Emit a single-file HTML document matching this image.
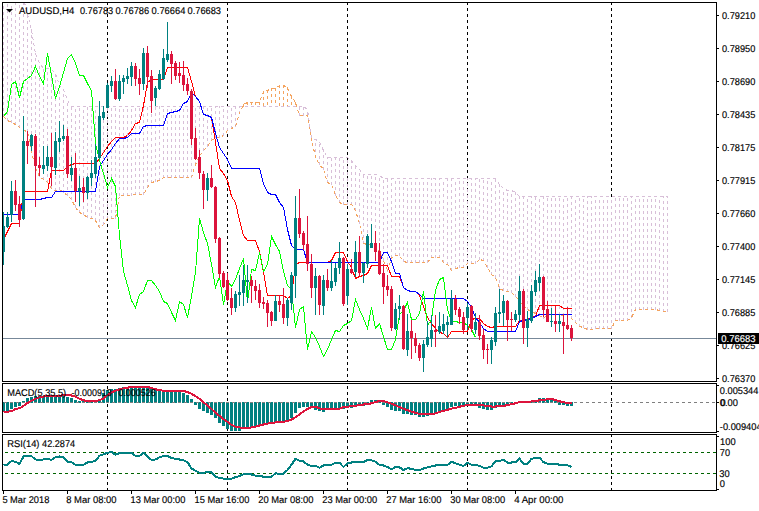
<!DOCTYPE html>
<html><head><meta charset="utf-8"><title>AUDUSD,H4</title>
<style>html,body{margin:0;padding:0;background:#fff}svg{display:block}text{font-family:"Liberation Sans",sans-serif;font-size:9.8px;text-rendering:geometricPrecision;fill:#000;stroke:#000;stroke-width:0.15px}</style></head><body>
<svg width="759" height="511" viewBox="0 0 759 511">
<rect width="759" height="511" fill="#fff"/>
<defs><clipPath id="cm"><rect x="3" y="3" width="713" height="378"/></clipPath><clipPath id="c2"><rect x="3" y="384" width="713" height="48"/></clipPath><clipPath id="c3"><rect x="3" y="435" width="713" height="55"/></clipPath></defs>
<g shape-rendering="crispEdges">
<rect x="107" y="3" width="1" height="2" fill="#000"/>
<rect x="107" y="8" width="1" height="3" fill="#000"/>
<rect x="107" y="14" width="1" height="3" fill="#000"/>
<rect x="107" y="20" width="1" height="3" fill="#000"/>
<rect x="107" y="26" width="1" height="3" fill="#000"/>
<rect x="107" y="32" width="1" height="3" fill="#000"/>
<rect x="107" y="38" width="1" height="3" fill="#000"/>
<rect x="107" y="44" width="1" height="3" fill="#000"/>
<rect x="107" y="50" width="1" height="3" fill="#000"/>
<rect x="107" y="56" width="1" height="3" fill="#000"/>
<rect x="107" y="62" width="1" height="3" fill="#000"/>
<rect x="107" y="68" width="1" height="3" fill="#000"/>
<rect x="107" y="74" width="1" height="3" fill="#000"/>
<rect x="107" y="80" width="1" height="3" fill="#000"/>
<rect x="107" y="86" width="1" height="3" fill="#000"/>
<rect x="107" y="92" width="1" height="3" fill="#000"/>
<rect x="107" y="98" width="1" height="3" fill="#000"/>
<rect x="107" y="104" width="1" height="3" fill="#000"/>
<rect x="107" y="110" width="1" height="3" fill="#000"/>
<rect x="107" y="116" width="1" height="3" fill="#000"/>
<rect x="107" y="122" width="1" height="3" fill="#000"/>
<rect x="107" y="128" width="1" height="3" fill="#000"/>
<rect x="107" y="134" width="1" height="3" fill="#000"/>
<rect x="107" y="140" width="1" height="3" fill="#000"/>
<rect x="107" y="146" width="1" height="3" fill="#000"/>
<rect x="107" y="152" width="1" height="3" fill="#000"/>
<rect x="107" y="158" width="1" height="3" fill="#000"/>
<rect x="107" y="164" width="1" height="3" fill="#000"/>
<rect x="107" y="170" width="1" height="3" fill="#000"/>
<rect x="107" y="176" width="1" height="3" fill="#000"/>
<rect x="107" y="182" width="1" height="3" fill="#000"/>
<rect x="107" y="188" width="1" height="3" fill="#000"/>
<rect x="107" y="194" width="1" height="3" fill="#000"/>
<rect x="107" y="200" width="1" height="3" fill="#000"/>
<rect x="107" y="206" width="1" height="3" fill="#000"/>
<rect x="107" y="212" width="1" height="3" fill="#000"/>
<rect x="107" y="218" width="1" height="3" fill="#000"/>
<rect x="107" y="224" width="1" height="3" fill="#000"/>
<rect x="107" y="230" width="1" height="3" fill="#000"/>
<rect x="107" y="236" width="1" height="3" fill="#000"/>
<rect x="107" y="242" width="1" height="3" fill="#000"/>
<rect x="107" y="248" width="1" height="3" fill="#000"/>
<rect x="107" y="254" width="1" height="3" fill="#000"/>
<rect x="107" y="260" width="1" height="3" fill="#000"/>
<rect x="107" y="266" width="1" height="3" fill="#000"/>
<rect x="107" y="272" width="1" height="3" fill="#000"/>
<rect x="107" y="278" width="1" height="3" fill="#000"/>
<rect x="107" y="284" width="1" height="3" fill="#000"/>
<rect x="107" y="290" width="1" height="3" fill="#000"/>
<rect x="107" y="296" width="1" height="3" fill="#000"/>
<rect x="107" y="302" width="1" height="3" fill="#000"/>
<rect x="107" y="308" width="1" height="3" fill="#000"/>
<rect x="107" y="314" width="1" height="3" fill="#000"/>
<rect x="107" y="320" width="1" height="3" fill="#000"/>
<rect x="107" y="326" width="1" height="3" fill="#000"/>
<rect x="107" y="332" width="1" height="3" fill="#000"/>
<rect x="107" y="338" width="1" height="3" fill="#000"/>
<rect x="107" y="344" width="1" height="3" fill="#000"/>
<rect x="107" y="350" width="1" height="3" fill="#000"/>
<rect x="107" y="356" width="1" height="3" fill="#000"/>
<rect x="107" y="362" width="1" height="3" fill="#000"/>
<rect x="107" y="368" width="1" height="3" fill="#000"/>
<rect x="107" y="374" width="1" height="3" fill="#000"/>
<rect x="107" y="380" width="1" height="1" fill="#000"/>
<rect x="107" y="386" width="1" height="3" fill="#000"/>
<rect x="107" y="392" width="1" height="3" fill="#000"/>
<rect x="107" y="398" width="1" height="3" fill="#000"/>
<rect x="107" y="404" width="1" height="3" fill="#000"/>
<rect x="107" y="410" width="1" height="3" fill="#000"/>
<rect x="107" y="416" width="1" height="3" fill="#000"/>
<rect x="107" y="422" width="1" height="3" fill="#000"/>
<rect x="107" y="428" width="1" height="3" fill="#000"/>
<rect x="107" y="435" width="1" height="2" fill="#000"/>
<rect x="107" y="440" width="1" height="3" fill="#000"/>
<rect x="107" y="446" width="1" height="3" fill="#000"/>
<rect x="107" y="452" width="1" height="3" fill="#000"/>
<rect x="107" y="458" width="1" height="3" fill="#000"/>
<rect x="107" y="464" width="1" height="3" fill="#000"/>
<rect x="107" y="470" width="1" height="3" fill="#000"/>
<rect x="107" y="476" width="1" height="3" fill="#000"/>
<rect x="107" y="482" width="1" height="3" fill="#000"/>
<rect x="107" y="488" width="1" height="2" fill="#000"/>
<rect x="227" y="3" width="1" height="2" fill="#000"/>
<rect x="227" y="8" width="1" height="3" fill="#000"/>
<rect x="227" y="14" width="1" height="3" fill="#000"/>
<rect x="227" y="20" width="1" height="3" fill="#000"/>
<rect x="227" y="26" width="1" height="3" fill="#000"/>
<rect x="227" y="32" width="1" height="3" fill="#000"/>
<rect x="227" y="38" width="1" height="3" fill="#000"/>
<rect x="227" y="44" width="1" height="3" fill="#000"/>
<rect x="227" y="50" width="1" height="3" fill="#000"/>
<rect x="227" y="56" width="1" height="3" fill="#000"/>
<rect x="227" y="62" width="1" height="3" fill="#000"/>
<rect x="227" y="68" width="1" height="3" fill="#000"/>
<rect x="227" y="74" width="1" height="3" fill="#000"/>
<rect x="227" y="80" width="1" height="3" fill="#000"/>
<rect x="227" y="86" width="1" height="3" fill="#000"/>
<rect x="227" y="92" width="1" height="3" fill="#000"/>
<rect x="227" y="98" width="1" height="3" fill="#000"/>
<rect x="227" y="104" width="1" height="3" fill="#000"/>
<rect x="227" y="110" width="1" height="3" fill="#000"/>
<rect x="227" y="116" width="1" height="3" fill="#000"/>
<rect x="227" y="122" width="1" height="3" fill="#000"/>
<rect x="227" y="128" width="1" height="3" fill="#000"/>
<rect x="227" y="134" width="1" height="3" fill="#000"/>
<rect x="227" y="140" width="1" height="3" fill="#000"/>
<rect x="227" y="146" width="1" height="3" fill="#000"/>
<rect x="227" y="152" width="1" height="3" fill="#000"/>
<rect x="227" y="158" width="1" height="3" fill="#000"/>
<rect x="227" y="164" width="1" height="3" fill="#000"/>
<rect x="227" y="170" width="1" height="3" fill="#000"/>
<rect x="227" y="176" width="1" height="3" fill="#000"/>
<rect x="227" y="182" width="1" height="3" fill="#000"/>
<rect x="227" y="188" width="1" height="3" fill="#000"/>
<rect x="227" y="194" width="1" height="3" fill="#000"/>
<rect x="227" y="200" width="1" height="3" fill="#000"/>
<rect x="227" y="206" width="1" height="3" fill="#000"/>
<rect x="227" y="212" width="1" height="3" fill="#000"/>
<rect x="227" y="218" width="1" height="3" fill="#000"/>
<rect x="227" y="224" width="1" height="3" fill="#000"/>
<rect x="227" y="230" width="1" height="3" fill="#000"/>
<rect x="227" y="236" width="1" height="3" fill="#000"/>
<rect x="227" y="242" width="1" height="3" fill="#000"/>
<rect x="227" y="248" width="1" height="3" fill="#000"/>
<rect x="227" y="254" width="1" height="3" fill="#000"/>
<rect x="227" y="260" width="1" height="3" fill="#000"/>
<rect x="227" y="266" width="1" height="3" fill="#000"/>
<rect x="227" y="272" width="1" height="3" fill="#000"/>
<rect x="227" y="278" width="1" height="3" fill="#000"/>
<rect x="227" y="284" width="1" height="3" fill="#000"/>
<rect x="227" y="290" width="1" height="3" fill="#000"/>
<rect x="227" y="296" width="1" height="3" fill="#000"/>
<rect x="227" y="302" width="1" height="3" fill="#000"/>
<rect x="227" y="308" width="1" height="3" fill="#000"/>
<rect x="227" y="314" width="1" height="3" fill="#000"/>
<rect x="227" y="320" width="1" height="3" fill="#000"/>
<rect x="227" y="326" width="1" height="3" fill="#000"/>
<rect x="227" y="332" width="1" height="3" fill="#000"/>
<rect x="227" y="338" width="1" height="3" fill="#000"/>
<rect x="227" y="344" width="1" height="3" fill="#000"/>
<rect x="227" y="350" width="1" height="3" fill="#000"/>
<rect x="227" y="356" width="1" height="3" fill="#000"/>
<rect x="227" y="362" width="1" height="3" fill="#000"/>
<rect x="227" y="368" width="1" height="3" fill="#000"/>
<rect x="227" y="374" width="1" height="3" fill="#000"/>
<rect x="227" y="380" width="1" height="1" fill="#000"/>
<rect x="227" y="386" width="1" height="3" fill="#000"/>
<rect x="227" y="392" width="1" height="3" fill="#000"/>
<rect x="227" y="398" width="1" height="3" fill="#000"/>
<rect x="227" y="404" width="1" height="3" fill="#000"/>
<rect x="227" y="410" width="1" height="3" fill="#000"/>
<rect x="227" y="416" width="1" height="3" fill="#000"/>
<rect x="227" y="422" width="1" height="3" fill="#000"/>
<rect x="227" y="428" width="1" height="3" fill="#000"/>
<rect x="227" y="435" width="1" height="2" fill="#000"/>
<rect x="227" y="440" width="1" height="3" fill="#000"/>
<rect x="227" y="446" width="1" height="3" fill="#000"/>
<rect x="227" y="452" width="1" height="3" fill="#000"/>
<rect x="227" y="458" width="1" height="3" fill="#000"/>
<rect x="227" y="464" width="1" height="3" fill="#000"/>
<rect x="227" y="470" width="1" height="3" fill="#000"/>
<rect x="227" y="476" width="1" height="3" fill="#000"/>
<rect x="227" y="482" width="1" height="3" fill="#000"/>
<rect x="227" y="488" width="1" height="2" fill="#000"/>
<rect x="347" y="3" width="1" height="2" fill="#000"/>
<rect x="347" y="8" width="1" height="3" fill="#000"/>
<rect x="347" y="14" width="1" height="3" fill="#000"/>
<rect x="347" y="20" width="1" height="3" fill="#000"/>
<rect x="347" y="26" width="1" height="3" fill="#000"/>
<rect x="347" y="32" width="1" height="3" fill="#000"/>
<rect x="347" y="38" width="1" height="3" fill="#000"/>
<rect x="347" y="44" width="1" height="3" fill="#000"/>
<rect x="347" y="50" width="1" height="3" fill="#000"/>
<rect x="347" y="56" width="1" height="3" fill="#000"/>
<rect x="347" y="62" width="1" height="3" fill="#000"/>
<rect x="347" y="68" width="1" height="3" fill="#000"/>
<rect x="347" y="74" width="1" height="3" fill="#000"/>
<rect x="347" y="80" width="1" height="3" fill="#000"/>
<rect x="347" y="86" width="1" height="3" fill="#000"/>
<rect x="347" y="92" width="1" height="3" fill="#000"/>
<rect x="347" y="98" width="1" height="3" fill="#000"/>
<rect x="347" y="104" width="1" height="3" fill="#000"/>
<rect x="347" y="110" width="1" height="3" fill="#000"/>
<rect x="347" y="116" width="1" height="3" fill="#000"/>
<rect x="347" y="122" width="1" height="3" fill="#000"/>
<rect x="347" y="128" width="1" height="3" fill="#000"/>
<rect x="347" y="134" width="1" height="3" fill="#000"/>
<rect x="347" y="140" width="1" height="3" fill="#000"/>
<rect x="347" y="146" width="1" height="3" fill="#000"/>
<rect x="347" y="152" width="1" height="3" fill="#000"/>
<rect x="347" y="158" width="1" height="3" fill="#000"/>
<rect x="347" y="164" width="1" height="3" fill="#000"/>
<rect x="347" y="170" width="1" height="3" fill="#000"/>
<rect x="347" y="176" width="1" height="3" fill="#000"/>
<rect x="347" y="182" width="1" height="3" fill="#000"/>
<rect x="347" y="188" width="1" height="3" fill="#000"/>
<rect x="347" y="194" width="1" height="3" fill="#000"/>
<rect x="347" y="200" width="1" height="3" fill="#000"/>
<rect x="347" y="206" width="1" height="3" fill="#000"/>
<rect x="347" y="212" width="1" height="3" fill="#000"/>
<rect x="347" y="218" width="1" height="3" fill="#000"/>
<rect x="347" y="224" width="1" height="3" fill="#000"/>
<rect x="347" y="230" width="1" height="3" fill="#000"/>
<rect x="347" y="236" width="1" height="3" fill="#000"/>
<rect x="347" y="242" width="1" height="3" fill="#000"/>
<rect x="347" y="248" width="1" height="3" fill="#000"/>
<rect x="347" y="254" width="1" height="3" fill="#000"/>
<rect x="347" y="260" width="1" height="3" fill="#000"/>
<rect x="347" y="266" width="1" height="3" fill="#000"/>
<rect x="347" y="272" width="1" height="3" fill="#000"/>
<rect x="347" y="278" width="1" height="3" fill="#000"/>
<rect x="347" y="284" width="1" height="3" fill="#000"/>
<rect x="347" y="290" width="1" height="3" fill="#000"/>
<rect x="347" y="296" width="1" height="3" fill="#000"/>
<rect x="347" y="302" width="1" height="3" fill="#000"/>
<rect x="347" y="308" width="1" height="3" fill="#000"/>
<rect x="347" y="314" width="1" height="3" fill="#000"/>
<rect x="347" y="320" width="1" height="3" fill="#000"/>
<rect x="347" y="326" width="1" height="3" fill="#000"/>
<rect x="347" y="332" width="1" height="3" fill="#000"/>
<rect x="347" y="338" width="1" height="3" fill="#000"/>
<rect x="347" y="344" width="1" height="3" fill="#000"/>
<rect x="347" y="350" width="1" height="3" fill="#000"/>
<rect x="347" y="356" width="1" height="3" fill="#000"/>
<rect x="347" y="362" width="1" height="3" fill="#000"/>
<rect x="347" y="368" width="1" height="3" fill="#000"/>
<rect x="347" y="374" width="1" height="3" fill="#000"/>
<rect x="347" y="380" width="1" height="1" fill="#000"/>
<rect x="347" y="386" width="1" height="3" fill="#000"/>
<rect x="347" y="392" width="1" height="3" fill="#000"/>
<rect x="347" y="398" width="1" height="3" fill="#000"/>
<rect x="347" y="404" width="1" height="3" fill="#000"/>
<rect x="347" y="410" width="1" height="3" fill="#000"/>
<rect x="347" y="416" width="1" height="3" fill="#000"/>
<rect x="347" y="422" width="1" height="3" fill="#000"/>
<rect x="347" y="428" width="1" height="3" fill="#000"/>
<rect x="347" y="435" width="1" height="2" fill="#000"/>
<rect x="347" y="440" width="1" height="3" fill="#000"/>
<rect x="347" y="446" width="1" height="3" fill="#000"/>
<rect x="347" y="452" width="1" height="3" fill="#000"/>
<rect x="347" y="458" width="1" height="3" fill="#000"/>
<rect x="347" y="464" width="1" height="3" fill="#000"/>
<rect x="347" y="470" width="1" height="3" fill="#000"/>
<rect x="347" y="476" width="1" height="3" fill="#000"/>
<rect x="347" y="482" width="1" height="3" fill="#000"/>
<rect x="347" y="488" width="1" height="2" fill="#000"/>
<rect x="467" y="3" width="1" height="2" fill="#000"/>
<rect x="467" y="8" width="1" height="3" fill="#000"/>
<rect x="467" y="14" width="1" height="3" fill="#000"/>
<rect x="467" y="20" width="1" height="3" fill="#000"/>
<rect x="467" y="26" width="1" height="3" fill="#000"/>
<rect x="467" y="32" width="1" height="3" fill="#000"/>
<rect x="467" y="38" width="1" height="3" fill="#000"/>
<rect x="467" y="44" width="1" height="3" fill="#000"/>
<rect x="467" y="50" width="1" height="3" fill="#000"/>
<rect x="467" y="56" width="1" height="3" fill="#000"/>
<rect x="467" y="62" width="1" height="3" fill="#000"/>
<rect x="467" y="68" width="1" height="3" fill="#000"/>
<rect x="467" y="74" width="1" height="3" fill="#000"/>
<rect x="467" y="80" width="1" height="3" fill="#000"/>
<rect x="467" y="86" width="1" height="3" fill="#000"/>
<rect x="467" y="92" width="1" height="3" fill="#000"/>
<rect x="467" y="98" width="1" height="3" fill="#000"/>
<rect x="467" y="104" width="1" height="3" fill="#000"/>
<rect x="467" y="110" width="1" height="3" fill="#000"/>
<rect x="467" y="116" width="1" height="3" fill="#000"/>
<rect x="467" y="122" width="1" height="3" fill="#000"/>
<rect x="467" y="128" width="1" height="3" fill="#000"/>
<rect x="467" y="134" width="1" height="3" fill="#000"/>
<rect x="467" y="140" width="1" height="3" fill="#000"/>
<rect x="467" y="146" width="1" height="3" fill="#000"/>
<rect x="467" y="152" width="1" height="3" fill="#000"/>
<rect x="467" y="158" width="1" height="3" fill="#000"/>
<rect x="467" y="164" width="1" height="3" fill="#000"/>
<rect x="467" y="170" width="1" height="3" fill="#000"/>
<rect x="467" y="176" width="1" height="3" fill="#000"/>
<rect x="467" y="182" width="1" height="3" fill="#000"/>
<rect x="467" y="188" width="1" height="3" fill="#000"/>
<rect x="467" y="194" width="1" height="3" fill="#000"/>
<rect x="467" y="200" width="1" height="3" fill="#000"/>
<rect x="467" y="206" width="1" height="3" fill="#000"/>
<rect x="467" y="212" width="1" height="3" fill="#000"/>
<rect x="467" y="218" width="1" height="3" fill="#000"/>
<rect x="467" y="224" width="1" height="3" fill="#000"/>
<rect x="467" y="230" width="1" height="3" fill="#000"/>
<rect x="467" y="236" width="1" height="3" fill="#000"/>
<rect x="467" y="242" width="1" height="3" fill="#000"/>
<rect x="467" y="248" width="1" height="3" fill="#000"/>
<rect x="467" y="254" width="1" height="3" fill="#000"/>
<rect x="467" y="260" width="1" height="3" fill="#000"/>
<rect x="467" y="266" width="1" height="3" fill="#000"/>
<rect x="467" y="272" width="1" height="3" fill="#000"/>
<rect x="467" y="278" width="1" height="3" fill="#000"/>
<rect x="467" y="284" width="1" height="3" fill="#000"/>
<rect x="467" y="290" width="1" height="3" fill="#000"/>
<rect x="467" y="296" width="1" height="3" fill="#000"/>
<rect x="467" y="302" width="1" height="3" fill="#000"/>
<rect x="467" y="308" width="1" height="3" fill="#000"/>
<rect x="467" y="314" width="1" height="3" fill="#000"/>
<rect x="467" y="320" width="1" height="3" fill="#000"/>
<rect x="467" y="326" width="1" height="3" fill="#000"/>
<rect x="467" y="332" width="1" height="3" fill="#000"/>
<rect x="467" y="338" width="1" height="3" fill="#000"/>
<rect x="467" y="344" width="1" height="3" fill="#000"/>
<rect x="467" y="350" width="1" height="3" fill="#000"/>
<rect x="467" y="356" width="1" height="3" fill="#000"/>
<rect x="467" y="362" width="1" height="3" fill="#000"/>
<rect x="467" y="368" width="1" height="3" fill="#000"/>
<rect x="467" y="374" width="1" height="3" fill="#000"/>
<rect x="467" y="380" width="1" height="1" fill="#000"/>
<rect x="467" y="386" width="1" height="3" fill="#000"/>
<rect x="467" y="392" width="1" height="3" fill="#000"/>
<rect x="467" y="398" width="1" height="3" fill="#000"/>
<rect x="467" y="404" width="1" height="3" fill="#000"/>
<rect x="467" y="410" width="1" height="3" fill="#000"/>
<rect x="467" y="416" width="1" height="3" fill="#000"/>
<rect x="467" y="422" width="1" height="3" fill="#000"/>
<rect x="467" y="428" width="1" height="3" fill="#000"/>
<rect x="467" y="435" width="1" height="2" fill="#000"/>
<rect x="467" y="440" width="1" height="3" fill="#000"/>
<rect x="467" y="446" width="1" height="3" fill="#000"/>
<rect x="467" y="452" width="1" height="3" fill="#000"/>
<rect x="467" y="458" width="1" height="3" fill="#000"/>
<rect x="467" y="464" width="1" height="3" fill="#000"/>
<rect x="467" y="470" width="1" height="3" fill="#000"/>
<rect x="467" y="476" width="1" height="3" fill="#000"/>
<rect x="467" y="482" width="1" height="3" fill="#000"/>
<rect x="467" y="488" width="1" height="2" fill="#000"/>
<rect x="611" y="3" width="1" height="2" fill="#000"/>
<rect x="611" y="8" width="1" height="3" fill="#000"/>
<rect x="611" y="14" width="1" height="3" fill="#000"/>
<rect x="611" y="20" width="1" height="3" fill="#000"/>
<rect x="611" y="26" width="1" height="3" fill="#000"/>
<rect x="611" y="32" width="1" height="3" fill="#000"/>
<rect x="611" y="38" width="1" height="3" fill="#000"/>
<rect x="611" y="44" width="1" height="3" fill="#000"/>
<rect x="611" y="50" width="1" height="3" fill="#000"/>
<rect x="611" y="56" width="1" height="3" fill="#000"/>
<rect x="611" y="62" width="1" height="3" fill="#000"/>
<rect x="611" y="68" width="1" height="3" fill="#000"/>
<rect x="611" y="74" width="1" height="3" fill="#000"/>
<rect x="611" y="80" width="1" height="3" fill="#000"/>
<rect x="611" y="86" width="1" height="3" fill="#000"/>
<rect x="611" y="92" width="1" height="3" fill="#000"/>
<rect x="611" y="98" width="1" height="3" fill="#000"/>
<rect x="611" y="104" width="1" height="3" fill="#000"/>
<rect x="611" y="110" width="1" height="3" fill="#000"/>
<rect x="611" y="116" width="1" height="3" fill="#000"/>
<rect x="611" y="122" width="1" height="3" fill="#000"/>
<rect x="611" y="128" width="1" height="3" fill="#000"/>
<rect x="611" y="134" width="1" height="3" fill="#000"/>
<rect x="611" y="140" width="1" height="3" fill="#000"/>
<rect x="611" y="146" width="1" height="3" fill="#000"/>
<rect x="611" y="152" width="1" height="3" fill="#000"/>
<rect x="611" y="158" width="1" height="3" fill="#000"/>
<rect x="611" y="164" width="1" height="3" fill="#000"/>
<rect x="611" y="170" width="1" height="3" fill="#000"/>
<rect x="611" y="176" width="1" height="3" fill="#000"/>
<rect x="611" y="182" width="1" height="3" fill="#000"/>
<rect x="611" y="188" width="1" height="3" fill="#000"/>
<rect x="611" y="194" width="1" height="3" fill="#000"/>
<rect x="611" y="200" width="1" height="3" fill="#000"/>
<rect x="611" y="206" width="1" height="3" fill="#000"/>
<rect x="611" y="212" width="1" height="3" fill="#000"/>
<rect x="611" y="218" width="1" height="3" fill="#000"/>
<rect x="611" y="224" width="1" height="3" fill="#000"/>
<rect x="611" y="230" width="1" height="3" fill="#000"/>
<rect x="611" y="236" width="1" height="3" fill="#000"/>
<rect x="611" y="242" width="1" height="3" fill="#000"/>
<rect x="611" y="248" width="1" height="3" fill="#000"/>
<rect x="611" y="254" width="1" height="3" fill="#000"/>
<rect x="611" y="260" width="1" height="3" fill="#000"/>
<rect x="611" y="266" width="1" height="3" fill="#000"/>
<rect x="611" y="272" width="1" height="3" fill="#000"/>
<rect x="611" y="278" width="1" height="3" fill="#000"/>
<rect x="611" y="284" width="1" height="3" fill="#000"/>
<rect x="611" y="290" width="1" height="3" fill="#000"/>
<rect x="611" y="296" width="1" height="3" fill="#000"/>
<rect x="611" y="302" width="1" height="3" fill="#000"/>
<rect x="611" y="308" width="1" height="3" fill="#000"/>
<rect x="611" y="314" width="1" height="3" fill="#000"/>
<rect x="611" y="320" width="1" height="3" fill="#000"/>
<rect x="611" y="326" width="1" height="3" fill="#000"/>
<rect x="611" y="332" width="1" height="3" fill="#000"/>
<rect x="611" y="338" width="1" height="3" fill="#000"/>
<rect x="611" y="344" width="1" height="3" fill="#000"/>
<rect x="611" y="350" width="1" height="3" fill="#000"/>
<rect x="611" y="356" width="1" height="3" fill="#000"/>
<rect x="611" y="362" width="1" height="3" fill="#000"/>
<rect x="611" y="368" width="1" height="3" fill="#000"/>
<rect x="611" y="374" width="1" height="3" fill="#000"/>
<rect x="611" y="380" width="1" height="1" fill="#000"/>
<rect x="611" y="386" width="1" height="3" fill="#000"/>
<rect x="611" y="392" width="1" height="3" fill="#000"/>
<rect x="611" y="398" width="1" height="3" fill="#000"/>
<rect x="611" y="404" width="1" height="3" fill="#000"/>
<rect x="611" y="410" width="1" height="3" fill="#000"/>
<rect x="611" y="416" width="1" height="3" fill="#000"/>
<rect x="611" y="422" width="1" height="3" fill="#000"/>
<rect x="611" y="428" width="1" height="3" fill="#000"/>
<rect x="611" y="435" width="1" height="2" fill="#000"/>
<rect x="611" y="440" width="1" height="3" fill="#000"/>
<rect x="611" y="446" width="1" height="3" fill="#000"/>
<rect x="611" y="452" width="1" height="3" fill="#000"/>
<rect x="611" y="458" width="1" height="3" fill="#000"/>
<rect x="611" y="464" width="1" height="3" fill="#000"/>
<rect x="611" y="470" width="1" height="3" fill="#000"/>
<rect x="611" y="476" width="1" height="3" fill="#000"/>
<rect x="611" y="482" width="1" height="3" fill="#000"/>
<rect x="611" y="488" width="1" height="2" fill="#000"/>
<rect x="3" y="338" width="713" height="1" fill="#778899"/>
<g clip-path="url(#cm)">
<rect x="3" y="114" width="1" height="3" fill="#D8BFD8"/>
<rect x="3" y="108" width="1" height="3" fill="#D8BFD8"/>
<rect x="3" y="102" width="1" height="3" fill="#D8BFD8"/>
<rect x="3" y="96" width="1" height="3" fill="#D8BFD8"/>
<rect x="3" y="90" width="1" height="3" fill="#D8BFD8"/>
<rect x="3" y="84" width="1" height="3" fill="#D8BFD8"/>
<rect x="3" y="78" width="1" height="3" fill="#D8BFD8"/>
<rect x="3" y="72" width="1" height="3" fill="#D8BFD8"/>
<rect x="3" y="66" width="1" height="3" fill="#D8BFD8"/>
<rect x="3" y="60" width="1" height="3" fill="#D8BFD8"/>
<rect x="3" y="54" width="1" height="3" fill="#D8BFD8"/>
<rect x="3" y="48" width="1" height="3" fill="#D8BFD8"/>
<rect x="3" y="42" width="1" height="3" fill="#D8BFD8"/>
<rect x="3" y="36" width="1" height="3" fill="#D8BFD8"/>
<rect x="3" y="30" width="1" height="3" fill="#D8BFD8"/>
<rect x="3" y="24" width="1" height="3" fill="#D8BFD8"/>
<rect x="3" y="18" width="1" height="3" fill="#D8BFD8"/>
<rect x="3" y="12" width="1" height="3" fill="#D8BFD8"/>
<rect x="3" y="6" width="1" height="3" fill="#D8BFD8"/>
<rect x="3" y="0" width="1" height="3" fill="#D8BFD8"/>
<rect x="3" y="-5" width="1" height="2" fill="#D8BFD8"/>
<rect x="7" y="118" width="1" height="3" fill="#D8BFD8"/>
<rect x="7" y="112" width="1" height="3" fill="#D8BFD8"/>
<rect x="7" y="106" width="1" height="3" fill="#D8BFD8"/>
<rect x="7" y="100" width="1" height="3" fill="#D8BFD8"/>
<rect x="7" y="94" width="1" height="3" fill="#D8BFD8"/>
<rect x="7" y="88" width="1" height="3" fill="#D8BFD8"/>
<rect x="7" y="82" width="1" height="3" fill="#D8BFD8"/>
<rect x="7" y="76" width="1" height="3" fill="#D8BFD8"/>
<rect x="7" y="70" width="1" height="3" fill="#D8BFD8"/>
<rect x="7" y="64" width="1" height="3" fill="#D8BFD8"/>
<rect x="7" y="58" width="1" height="3" fill="#D8BFD8"/>
<rect x="7" y="52" width="1" height="3" fill="#D8BFD8"/>
<rect x="7" y="46" width="1" height="3" fill="#D8BFD8"/>
<rect x="7" y="40" width="1" height="3" fill="#D8BFD8"/>
<rect x="7" y="34" width="1" height="3" fill="#D8BFD8"/>
<rect x="7" y="28" width="1" height="3" fill="#D8BFD8"/>
<rect x="7" y="22" width="1" height="3" fill="#D8BFD8"/>
<rect x="7" y="16" width="1" height="3" fill="#D8BFD8"/>
<rect x="7" y="10" width="1" height="3" fill="#D8BFD8"/>
<rect x="7" y="4" width="1" height="3" fill="#D8BFD8"/>
<rect x="7" y="-2" width="1" height="3" fill="#D8BFD8"/>
<rect x="11" y="120" width="1" height="3" fill="#D8BFD8"/>
<rect x="11" y="114" width="1" height="3" fill="#D8BFD8"/>
<rect x="11" y="108" width="1" height="3" fill="#D8BFD8"/>
<rect x="11" y="102" width="1" height="3" fill="#D8BFD8"/>
<rect x="11" y="96" width="1" height="3" fill="#D8BFD8"/>
<rect x="11" y="90" width="1" height="3" fill="#D8BFD8"/>
<rect x="11" y="84" width="1" height="3" fill="#D8BFD8"/>
<rect x="11" y="78" width="1" height="3" fill="#D8BFD8"/>
<rect x="11" y="72" width="1" height="3" fill="#D8BFD8"/>
<rect x="11" y="66" width="1" height="3" fill="#D8BFD8"/>
<rect x="11" y="60" width="1" height="3" fill="#D8BFD8"/>
<rect x="11" y="54" width="1" height="3" fill="#D8BFD8"/>
<rect x="11" y="48" width="1" height="3" fill="#D8BFD8"/>
<rect x="11" y="42" width="1" height="3" fill="#D8BFD8"/>
<rect x="11" y="36" width="1" height="3" fill="#D8BFD8"/>
<rect x="11" y="30" width="1" height="3" fill="#D8BFD8"/>
<rect x="11" y="24" width="1" height="3" fill="#D8BFD8"/>
<rect x="11" y="18" width="1" height="3" fill="#D8BFD8"/>
<rect x="11" y="12" width="1" height="3" fill="#D8BFD8"/>
<rect x="11" y="6" width="1" height="3" fill="#D8BFD8"/>
<rect x="11" y="0" width="1" height="3" fill="#D8BFD8"/>
<rect x="11" y="-5" width="1" height="2" fill="#D8BFD8"/>
<rect x="15" y="122" width="1" height="3" fill="#D8BFD8"/>
<rect x="15" y="116" width="1" height="3" fill="#D8BFD8"/>
<rect x="15" y="110" width="1" height="3" fill="#D8BFD8"/>
<rect x="15" y="104" width="1" height="3" fill="#D8BFD8"/>
<rect x="15" y="98" width="1" height="3" fill="#D8BFD8"/>
<rect x="15" y="92" width="1" height="3" fill="#D8BFD8"/>
<rect x="15" y="86" width="1" height="3" fill="#D8BFD8"/>
<rect x="15" y="80" width="1" height="3" fill="#D8BFD8"/>
<rect x="15" y="74" width="1" height="3" fill="#D8BFD8"/>
<rect x="15" y="68" width="1" height="3" fill="#D8BFD8"/>
<rect x="15" y="62" width="1" height="3" fill="#D8BFD8"/>
<rect x="15" y="56" width="1" height="3" fill="#D8BFD8"/>
<rect x="15" y="50" width="1" height="3" fill="#D8BFD8"/>
<rect x="15" y="44" width="1" height="3" fill="#D8BFD8"/>
<rect x="15" y="38" width="1" height="3" fill="#D8BFD8"/>
<rect x="15" y="32" width="1" height="3" fill="#D8BFD8"/>
<rect x="15" y="26" width="1" height="3" fill="#D8BFD8"/>
<rect x="15" y="20" width="1" height="3" fill="#D8BFD8"/>
<rect x="15" y="14" width="1" height="3" fill="#D8BFD8"/>
<rect x="15" y="8" width="1" height="3" fill="#D8BFD8"/>
<rect x="15" y="2" width="1" height="3" fill="#D8BFD8"/>
<rect x="15" y="-4" width="1" height="3" fill="#D8BFD8"/>
<rect x="19" y="125" width="1" height="3" fill="#D8BFD8"/>
<rect x="19" y="119" width="1" height="3" fill="#D8BFD8"/>
<rect x="19" y="113" width="1" height="3" fill="#D8BFD8"/>
<rect x="19" y="107" width="1" height="3" fill="#D8BFD8"/>
<rect x="19" y="101" width="1" height="3" fill="#D8BFD8"/>
<rect x="19" y="95" width="1" height="3" fill="#D8BFD8"/>
<rect x="19" y="89" width="1" height="3" fill="#D8BFD8"/>
<rect x="19" y="83" width="1" height="3" fill="#D8BFD8"/>
<rect x="19" y="77" width="1" height="3" fill="#D8BFD8"/>
<rect x="19" y="71" width="1" height="3" fill="#D8BFD8"/>
<rect x="19" y="65" width="1" height="3" fill="#D8BFD8"/>
<rect x="19" y="59" width="1" height="3" fill="#D8BFD8"/>
<rect x="19" y="53" width="1" height="3" fill="#D8BFD8"/>
<rect x="19" y="47" width="1" height="3" fill="#D8BFD8"/>
<rect x="19" y="41" width="1" height="3" fill="#D8BFD8"/>
<rect x="19" y="35" width="1" height="3" fill="#D8BFD8"/>
<rect x="19" y="29" width="1" height="3" fill="#D8BFD8"/>
<rect x="19" y="23" width="1" height="3" fill="#D8BFD8"/>
<rect x="19" y="17" width="1" height="3" fill="#D8BFD8"/>
<rect x="19" y="11" width="1" height="3" fill="#D8BFD8"/>
<rect x="19" y="5" width="1" height="3" fill="#D8BFD8"/>
<rect x="19" y="-1" width="1" height="3" fill="#D8BFD8"/>
<rect x="19" y="-5" width="1" height="1" fill="#D8BFD8"/>
<rect x="23" y="128" width="1" height="3" fill="#D8BFD8"/>
<rect x="23" y="122" width="1" height="3" fill="#D8BFD8"/>
<rect x="23" y="116" width="1" height="3" fill="#D8BFD8"/>
<rect x="23" y="110" width="1" height="3" fill="#D8BFD8"/>
<rect x="23" y="104" width="1" height="3" fill="#D8BFD8"/>
<rect x="23" y="98" width="1" height="3" fill="#D8BFD8"/>
<rect x="23" y="92" width="1" height="3" fill="#D8BFD8"/>
<rect x="23" y="86" width="1" height="3" fill="#D8BFD8"/>
<rect x="23" y="80" width="1" height="3" fill="#D8BFD8"/>
<rect x="23" y="74" width="1" height="3" fill="#D8BFD8"/>
<rect x="23" y="68" width="1" height="3" fill="#D8BFD8"/>
<rect x="23" y="62" width="1" height="3" fill="#D8BFD8"/>
<rect x="23" y="56" width="1" height="3" fill="#D8BFD8"/>
<rect x="23" y="50" width="1" height="3" fill="#D8BFD8"/>
<rect x="23" y="44" width="1" height="3" fill="#D8BFD8"/>
<rect x="23" y="38" width="1" height="3" fill="#D8BFD8"/>
<rect x="23" y="32" width="1" height="3" fill="#D8BFD8"/>
<rect x="23" y="26" width="1" height="3" fill="#D8BFD8"/>
<rect x="23" y="20" width="1" height="3" fill="#D8BFD8"/>
<rect x="23" y="14" width="1" height="3" fill="#D8BFD8"/>
<rect x="23" y="8" width="1" height="3" fill="#D8BFD8"/>
<rect x="23" y="2" width="1" height="3" fill="#D8BFD8"/>
<rect x="27" y="129" width="1" height="3" fill="#D8BFD8"/>
<rect x="27" y="123" width="1" height="3" fill="#D8BFD8"/>
<rect x="27" y="117" width="1" height="3" fill="#D8BFD8"/>
<rect x="27" y="111" width="1" height="3" fill="#D8BFD8"/>
<rect x="27" y="105" width="1" height="3" fill="#D8BFD8"/>
<rect x="27" y="99" width="1" height="3" fill="#D8BFD8"/>
<rect x="27" y="93" width="1" height="3" fill="#D8BFD8"/>
<rect x="27" y="87" width="1" height="3" fill="#D8BFD8"/>
<rect x="27" y="81" width="1" height="3" fill="#D8BFD8"/>
<rect x="27" y="75" width="1" height="3" fill="#D8BFD8"/>
<rect x="27" y="69" width="1" height="3" fill="#D8BFD8"/>
<rect x="27" y="63" width="1" height="3" fill="#D8BFD8"/>
<rect x="27" y="57" width="1" height="3" fill="#D8BFD8"/>
<rect x="27" y="51" width="1" height="3" fill="#D8BFD8"/>
<rect x="27" y="45" width="1" height="3" fill="#D8BFD8"/>
<rect x="27" y="39" width="1" height="3" fill="#D8BFD8"/>
<rect x="27" y="33" width="1" height="3" fill="#D8BFD8"/>
<rect x="27" y="27" width="1" height="3" fill="#D8BFD8"/>
<rect x="27" y="21" width="1" height="3" fill="#D8BFD8"/>
<rect x="27" y="15" width="1" height="3" fill="#D8BFD8"/>
<rect x="31" y="149" width="1" height="3" fill="#D8BFD8"/>
<rect x="31" y="143" width="1" height="3" fill="#D8BFD8"/>
<rect x="31" y="137" width="1" height="3" fill="#D8BFD8"/>
<rect x="31" y="131" width="1" height="3" fill="#D8BFD8"/>
<rect x="31" y="125" width="1" height="3" fill="#D8BFD8"/>
<rect x="31" y="119" width="1" height="3" fill="#D8BFD8"/>
<rect x="31" y="113" width="1" height="3" fill="#D8BFD8"/>
<rect x="31" y="107" width="1" height="3" fill="#D8BFD8"/>
<rect x="31" y="101" width="1" height="3" fill="#D8BFD8"/>
<rect x="31" y="95" width="1" height="3" fill="#D8BFD8"/>
<rect x="31" y="89" width="1" height="3" fill="#D8BFD8"/>
<rect x="31" y="83" width="1" height="3" fill="#D8BFD8"/>
<rect x="31" y="77" width="1" height="3" fill="#D8BFD8"/>
<rect x="31" y="71" width="1" height="3" fill="#D8BFD8"/>
<rect x="31" y="65" width="1" height="3" fill="#D8BFD8"/>
<rect x="31" y="59" width="1" height="3" fill="#D8BFD8"/>
<rect x="31" y="53" width="1" height="3" fill="#D8BFD8"/>
<rect x="31" y="47" width="1" height="3" fill="#D8BFD8"/>
<rect x="31" y="41" width="1" height="3" fill="#D8BFD8"/>
<rect x="31" y="35" width="1" height="3" fill="#D8BFD8"/>
<rect x="31" y="29" width="1" height="3" fill="#D8BFD8"/>
<rect x="35" y="166" width="1" height="3" fill="#D8BFD8"/>
<rect x="35" y="160" width="1" height="3" fill="#D8BFD8"/>
<rect x="35" y="154" width="1" height="3" fill="#D8BFD8"/>
<rect x="35" y="148" width="1" height="3" fill="#D8BFD8"/>
<rect x="35" y="142" width="1" height="3" fill="#D8BFD8"/>
<rect x="35" y="136" width="1" height="3" fill="#D8BFD8"/>
<rect x="35" y="130" width="1" height="3" fill="#D8BFD8"/>
<rect x="35" y="124" width="1" height="3" fill="#D8BFD8"/>
<rect x="35" y="118" width="1" height="3" fill="#D8BFD8"/>
<rect x="35" y="112" width="1" height="3" fill="#D8BFD8"/>
<rect x="35" y="106" width="1" height="3" fill="#D8BFD8"/>
<rect x="35" y="100" width="1" height="3" fill="#D8BFD8"/>
<rect x="35" y="94" width="1" height="3" fill="#D8BFD8"/>
<rect x="35" y="88" width="1" height="3" fill="#D8BFD8"/>
<rect x="35" y="82" width="1" height="3" fill="#D8BFD8"/>
<rect x="35" y="76" width="1" height="3" fill="#D8BFD8"/>
<rect x="35" y="70" width="1" height="3" fill="#D8BFD8"/>
<rect x="35" y="64" width="1" height="3" fill="#D8BFD8"/>
<rect x="35" y="58" width="1" height="3" fill="#D8BFD8"/>
<rect x="35" y="53" width="1" height="2" fill="#D8BFD8"/>
<rect x="39" y="174" width="1" height="3" fill="#D8BFD8"/>
<rect x="39" y="168" width="1" height="3" fill="#D8BFD8"/>
<rect x="39" y="162" width="1" height="3" fill="#D8BFD8"/>
<rect x="39" y="156" width="1" height="3" fill="#D8BFD8"/>
<rect x="39" y="150" width="1" height="3" fill="#D8BFD8"/>
<rect x="39" y="144" width="1" height="3" fill="#D8BFD8"/>
<rect x="39" y="138" width="1" height="3" fill="#D8BFD8"/>
<rect x="39" y="132" width="1" height="3" fill="#D8BFD8"/>
<rect x="39" y="126" width="1" height="3" fill="#D8BFD8"/>
<rect x="39" y="120" width="1" height="3" fill="#D8BFD8"/>
<rect x="39" y="114" width="1" height="3" fill="#D8BFD8"/>
<rect x="39" y="108" width="1" height="3" fill="#D8BFD8"/>
<rect x="39" y="102" width="1" height="3" fill="#D8BFD8"/>
<rect x="39" y="96" width="1" height="3" fill="#D8BFD8"/>
<rect x="39" y="90" width="1" height="3" fill="#D8BFD8"/>
<rect x="39" y="84" width="1" height="3" fill="#D8BFD8"/>
<rect x="39" y="78" width="1" height="3" fill="#D8BFD8"/>
<rect x="39" y="72" width="1" height="3" fill="#D8BFD8"/>
<rect x="39" y="66" width="1" height="3" fill="#D8BFD8"/>
<rect x="43" y="177" width="1" height="3" fill="#D8BFD8"/>
<rect x="43" y="171" width="1" height="3" fill="#D8BFD8"/>
<rect x="43" y="165" width="1" height="3" fill="#D8BFD8"/>
<rect x="43" y="159" width="1" height="3" fill="#D8BFD8"/>
<rect x="43" y="153" width="1" height="3" fill="#D8BFD8"/>
<rect x="43" y="147" width="1" height="3" fill="#D8BFD8"/>
<rect x="43" y="141" width="1" height="3" fill="#D8BFD8"/>
<rect x="43" y="135" width="1" height="3" fill="#D8BFD8"/>
<rect x="43" y="129" width="1" height="3" fill="#D8BFD8"/>
<rect x="43" y="123" width="1" height="3" fill="#D8BFD8"/>
<rect x="43" y="117" width="1" height="3" fill="#D8BFD8"/>
<rect x="43" y="111" width="1" height="3" fill="#D8BFD8"/>
<rect x="43" y="105" width="1" height="3" fill="#D8BFD8"/>
<rect x="43" y="99" width="1" height="3" fill="#D8BFD8"/>
<rect x="43" y="93" width="1" height="3" fill="#D8BFD8"/>
<rect x="43" y="87" width="1" height="3" fill="#D8BFD8"/>
<rect x="43" y="81" width="1" height="3" fill="#D8BFD8"/>
<rect x="43" y="75" width="1" height="3" fill="#D8BFD8"/>
<rect x="43" y="69" width="1" height="3" fill="#D8BFD8"/>
<rect x="47" y="180" width="1" height="3" fill="#D8BFD8"/>
<rect x="47" y="174" width="1" height="3" fill="#D8BFD8"/>
<rect x="47" y="168" width="1" height="3" fill="#D8BFD8"/>
<rect x="47" y="162" width="1" height="3" fill="#D8BFD8"/>
<rect x="47" y="156" width="1" height="3" fill="#D8BFD8"/>
<rect x="47" y="150" width="1" height="3" fill="#D8BFD8"/>
<rect x="47" y="144" width="1" height="3" fill="#D8BFD8"/>
<rect x="47" y="138" width="1" height="3" fill="#D8BFD8"/>
<rect x="47" y="132" width="1" height="3" fill="#D8BFD8"/>
<rect x="47" y="126" width="1" height="3" fill="#D8BFD8"/>
<rect x="47" y="120" width="1" height="3" fill="#D8BFD8"/>
<rect x="47" y="114" width="1" height="3" fill="#D8BFD8"/>
<rect x="47" y="108" width="1" height="3" fill="#D8BFD8"/>
<rect x="47" y="102" width="1" height="3" fill="#D8BFD8"/>
<rect x="47" y="96" width="1" height="3" fill="#D8BFD8"/>
<rect x="47" y="90" width="1" height="3" fill="#D8BFD8"/>
<rect x="47" y="84" width="1" height="3" fill="#D8BFD8"/>
<rect x="47" y="78" width="1" height="3" fill="#D8BFD8"/>
<rect x="47" y="72" width="1" height="3" fill="#D8BFD8"/>
<rect x="51" y="186" width="1" height="3" fill="#D8BFD8"/>
<rect x="51" y="180" width="1" height="3" fill="#D8BFD8"/>
<rect x="51" y="174" width="1" height="3" fill="#D8BFD8"/>
<rect x="51" y="168" width="1" height="3" fill="#D8BFD8"/>
<rect x="51" y="162" width="1" height="3" fill="#D8BFD8"/>
<rect x="51" y="156" width="1" height="3" fill="#D8BFD8"/>
<rect x="51" y="150" width="1" height="3" fill="#D8BFD8"/>
<rect x="51" y="144" width="1" height="3" fill="#D8BFD8"/>
<rect x="51" y="138" width="1" height="3" fill="#D8BFD8"/>
<rect x="51" y="132" width="1" height="3" fill="#D8BFD8"/>
<rect x="51" y="126" width="1" height="3" fill="#D8BFD8"/>
<rect x="51" y="120" width="1" height="3" fill="#D8BFD8"/>
<rect x="51" y="114" width="1" height="3" fill="#D8BFD8"/>
<rect x="51" y="108" width="1" height="3" fill="#D8BFD8"/>
<rect x="51" y="102" width="1" height="3" fill="#D8BFD8"/>
<rect x="51" y="96" width="1" height="3" fill="#D8BFD8"/>
<rect x="51" y="90" width="1" height="3" fill="#D8BFD8"/>
<rect x="51" y="84" width="1" height="3" fill="#D8BFD8"/>
<rect x="51" y="78" width="1" height="3" fill="#D8BFD8"/>
<rect x="51" y="72" width="1" height="3" fill="#D8BFD8"/>
<rect x="55" y="188" width="1" height="3" fill="#D8BFD8"/>
<rect x="55" y="182" width="1" height="3" fill="#D8BFD8"/>
<rect x="55" y="176" width="1" height="3" fill="#D8BFD8"/>
<rect x="55" y="170" width="1" height="3" fill="#D8BFD8"/>
<rect x="55" y="164" width="1" height="3" fill="#D8BFD8"/>
<rect x="55" y="158" width="1" height="3" fill="#D8BFD8"/>
<rect x="55" y="152" width="1" height="3" fill="#D8BFD8"/>
<rect x="55" y="146" width="1" height="3" fill="#D8BFD8"/>
<rect x="55" y="140" width="1" height="3" fill="#D8BFD8"/>
<rect x="55" y="134" width="1" height="3" fill="#D8BFD8"/>
<rect x="55" y="128" width="1" height="3" fill="#D8BFD8"/>
<rect x="55" y="122" width="1" height="3" fill="#D8BFD8"/>
<rect x="55" y="116" width="1" height="3" fill="#D8BFD8"/>
<rect x="55" y="110" width="1" height="3" fill="#D8BFD8"/>
<rect x="55" y="104" width="1" height="3" fill="#D8BFD8"/>
<rect x="55" y="98" width="1" height="3" fill="#D8BFD8"/>
<rect x="55" y="92" width="1" height="3" fill="#D8BFD8"/>
<rect x="55" y="86" width="1" height="3" fill="#D8BFD8"/>
<rect x="55" y="80" width="1" height="3" fill="#D8BFD8"/>
<rect x="55" y="74" width="1" height="3" fill="#D8BFD8"/>
<rect x="59" y="187" width="1" height="3" fill="#D8BFD8"/>
<rect x="59" y="181" width="1" height="3" fill="#D8BFD8"/>
<rect x="59" y="175" width="1" height="3" fill="#D8BFD8"/>
<rect x="59" y="169" width="1" height="3" fill="#D8BFD8"/>
<rect x="59" y="163" width="1" height="3" fill="#D8BFD8"/>
<rect x="59" y="157" width="1" height="3" fill="#D8BFD8"/>
<rect x="59" y="151" width="1" height="3" fill="#D8BFD8"/>
<rect x="59" y="145" width="1" height="3" fill="#D8BFD8"/>
<rect x="59" y="139" width="1" height="3" fill="#D8BFD8"/>
<rect x="59" y="133" width="1" height="3" fill="#D8BFD8"/>
<rect x="59" y="127" width="1" height="3" fill="#D8BFD8"/>
<rect x="59" y="121" width="1" height="3" fill="#D8BFD8"/>
<rect x="59" y="115" width="1" height="3" fill="#D8BFD8"/>
<rect x="59" y="109" width="1" height="3" fill="#D8BFD8"/>
<rect x="59" y="103" width="1" height="3" fill="#D8BFD8"/>
<rect x="59" y="97" width="1" height="3" fill="#D8BFD8"/>
<rect x="59" y="91" width="1" height="3" fill="#D8BFD8"/>
<rect x="59" y="85" width="1" height="3" fill="#D8BFD8"/>
<rect x="63" y="190" width="1" height="3" fill="#D8BFD8"/>
<rect x="63" y="184" width="1" height="3" fill="#D8BFD8"/>
<rect x="63" y="178" width="1" height="3" fill="#D8BFD8"/>
<rect x="63" y="172" width="1" height="3" fill="#D8BFD8"/>
<rect x="63" y="166" width="1" height="3" fill="#D8BFD8"/>
<rect x="63" y="160" width="1" height="3" fill="#D8BFD8"/>
<rect x="63" y="154" width="1" height="3" fill="#D8BFD8"/>
<rect x="63" y="148" width="1" height="3" fill="#D8BFD8"/>
<rect x="63" y="142" width="1" height="3" fill="#D8BFD8"/>
<rect x="63" y="136" width="1" height="3" fill="#D8BFD8"/>
<rect x="63" y="130" width="1" height="3" fill="#D8BFD8"/>
<rect x="63" y="124" width="1" height="3" fill="#D8BFD8"/>
<rect x="63" y="118" width="1" height="3" fill="#D8BFD8"/>
<rect x="63" y="112" width="1" height="3" fill="#D8BFD8"/>
<rect x="63" y="106" width="1" height="3" fill="#D8BFD8"/>
<rect x="63" y="100" width="1" height="3" fill="#D8BFD8"/>
<rect x="63" y="94" width="1" height="3" fill="#D8BFD8"/>
<rect x="63" y="89" width="1" height="2" fill="#D8BFD8"/>
<rect x="67" y="193" width="1" height="3" fill="#D8BFD8"/>
<rect x="67" y="187" width="1" height="3" fill="#D8BFD8"/>
<rect x="67" y="181" width="1" height="3" fill="#D8BFD8"/>
<rect x="67" y="175" width="1" height="3" fill="#D8BFD8"/>
<rect x="67" y="169" width="1" height="3" fill="#D8BFD8"/>
<rect x="67" y="163" width="1" height="3" fill="#D8BFD8"/>
<rect x="67" y="157" width="1" height="3" fill="#D8BFD8"/>
<rect x="67" y="151" width="1" height="3" fill="#D8BFD8"/>
<rect x="67" y="145" width="1" height="3" fill="#D8BFD8"/>
<rect x="67" y="139" width="1" height="3" fill="#D8BFD8"/>
<rect x="67" y="133" width="1" height="3" fill="#D8BFD8"/>
<rect x="67" y="127" width="1" height="3" fill="#D8BFD8"/>
<rect x="67" y="121" width="1" height="3" fill="#D8BFD8"/>
<rect x="67" y="115" width="1" height="3" fill="#D8BFD8"/>
<rect x="67" y="109" width="1" height="3" fill="#D8BFD8"/>
<rect x="67" y="103" width="1" height="3" fill="#D8BFD8"/>
<rect x="71" y="197" width="1" height="3" fill="#D8BFD8"/>
<rect x="71" y="191" width="1" height="3" fill="#D8BFD8"/>
<rect x="71" y="185" width="1" height="3" fill="#D8BFD8"/>
<rect x="71" y="179" width="1" height="3" fill="#D8BFD8"/>
<rect x="71" y="173" width="1" height="3" fill="#D8BFD8"/>
<rect x="71" y="167" width="1" height="3" fill="#D8BFD8"/>
<rect x="71" y="161" width="1" height="3" fill="#D8BFD8"/>
<rect x="71" y="155" width="1" height="3" fill="#D8BFD8"/>
<rect x="71" y="149" width="1" height="3" fill="#D8BFD8"/>
<rect x="71" y="143" width="1" height="3" fill="#D8BFD8"/>
<rect x="71" y="137" width="1" height="3" fill="#D8BFD8"/>
<rect x="71" y="131" width="1" height="3" fill="#D8BFD8"/>
<rect x="71" y="125" width="1" height="3" fill="#D8BFD8"/>
<rect x="71" y="119" width="1" height="3" fill="#D8BFD8"/>
<rect x="71" y="113" width="1" height="3" fill="#D8BFD8"/>
<rect x="71" y="107" width="1" height="3" fill="#D8BFD8"/>
<rect x="75" y="205" width="1" height="3" fill="#D8BFD8"/>
<rect x="75" y="199" width="1" height="3" fill="#D8BFD8"/>
<rect x="75" y="193" width="1" height="3" fill="#D8BFD8"/>
<rect x="75" y="187" width="1" height="3" fill="#D8BFD8"/>
<rect x="75" y="181" width="1" height="3" fill="#D8BFD8"/>
<rect x="75" y="175" width="1" height="3" fill="#D8BFD8"/>
<rect x="75" y="169" width="1" height="3" fill="#D8BFD8"/>
<rect x="75" y="163" width="1" height="3" fill="#D8BFD8"/>
<rect x="75" y="157" width="1" height="3" fill="#D8BFD8"/>
<rect x="75" y="151" width="1" height="3" fill="#D8BFD8"/>
<rect x="75" y="145" width="1" height="3" fill="#D8BFD8"/>
<rect x="75" y="139" width="1" height="3" fill="#D8BFD8"/>
<rect x="75" y="133" width="1" height="3" fill="#D8BFD8"/>
<rect x="75" y="127" width="1" height="3" fill="#D8BFD8"/>
<rect x="75" y="121" width="1" height="3" fill="#D8BFD8"/>
<rect x="75" y="115" width="1" height="3" fill="#D8BFD8"/>
<rect x="75" y="109" width="1" height="3" fill="#D8BFD8"/>
<rect x="79" y="210" width="1" height="3" fill="#D8BFD8"/>
<rect x="79" y="204" width="1" height="3" fill="#D8BFD8"/>
<rect x="79" y="198" width="1" height="3" fill="#D8BFD8"/>
<rect x="79" y="192" width="1" height="3" fill="#D8BFD8"/>
<rect x="79" y="186" width="1" height="3" fill="#D8BFD8"/>
<rect x="79" y="180" width="1" height="3" fill="#D8BFD8"/>
<rect x="79" y="174" width="1" height="3" fill="#D8BFD8"/>
<rect x="79" y="168" width="1" height="3" fill="#D8BFD8"/>
<rect x="79" y="162" width="1" height="3" fill="#D8BFD8"/>
<rect x="79" y="156" width="1" height="3" fill="#D8BFD8"/>
<rect x="79" y="150" width="1" height="3" fill="#D8BFD8"/>
<rect x="79" y="144" width="1" height="3" fill="#D8BFD8"/>
<rect x="79" y="138" width="1" height="3" fill="#D8BFD8"/>
<rect x="79" y="132" width="1" height="3" fill="#D8BFD8"/>
<rect x="79" y="126" width="1" height="3" fill="#D8BFD8"/>
<rect x="79" y="120" width="1" height="3" fill="#D8BFD8"/>
<rect x="79" y="114" width="1" height="3" fill="#D8BFD8"/>
<rect x="79" y="108" width="1" height="3" fill="#D8BFD8"/>
<rect x="83" y="212" width="1" height="3" fill="#D8BFD8"/>
<rect x="83" y="206" width="1" height="3" fill="#D8BFD8"/>
<rect x="83" y="200" width="1" height="3" fill="#D8BFD8"/>
<rect x="83" y="194" width="1" height="3" fill="#D8BFD8"/>
<rect x="83" y="188" width="1" height="3" fill="#D8BFD8"/>
<rect x="83" y="182" width="1" height="3" fill="#D8BFD8"/>
<rect x="83" y="176" width="1" height="3" fill="#D8BFD8"/>
<rect x="83" y="170" width="1" height="3" fill="#D8BFD8"/>
<rect x="83" y="164" width="1" height="3" fill="#D8BFD8"/>
<rect x="83" y="158" width="1" height="3" fill="#D8BFD8"/>
<rect x="83" y="152" width="1" height="3" fill="#D8BFD8"/>
<rect x="83" y="146" width="1" height="3" fill="#D8BFD8"/>
<rect x="83" y="140" width="1" height="3" fill="#D8BFD8"/>
<rect x="83" y="134" width="1" height="3" fill="#D8BFD8"/>
<rect x="83" y="128" width="1" height="3" fill="#D8BFD8"/>
<rect x="83" y="122" width="1" height="3" fill="#D8BFD8"/>
<rect x="83" y="116" width="1" height="3" fill="#D8BFD8"/>
<rect x="83" y="110" width="1" height="3" fill="#D8BFD8"/>
<rect x="87" y="215" width="1" height="3" fill="#D8BFD8"/>
<rect x="87" y="209" width="1" height="3" fill="#D8BFD8"/>
<rect x="87" y="203" width="1" height="3" fill="#D8BFD8"/>
<rect x="87" y="197" width="1" height="3" fill="#D8BFD8"/>
<rect x="87" y="191" width="1" height="3" fill="#D8BFD8"/>
<rect x="87" y="185" width="1" height="3" fill="#D8BFD8"/>
<rect x="87" y="179" width="1" height="3" fill="#D8BFD8"/>
<rect x="87" y="173" width="1" height="3" fill="#D8BFD8"/>
<rect x="87" y="167" width="1" height="3" fill="#D8BFD8"/>
<rect x="87" y="161" width="1" height="3" fill="#D8BFD8"/>
<rect x="87" y="155" width="1" height="3" fill="#D8BFD8"/>
<rect x="87" y="149" width="1" height="3" fill="#D8BFD8"/>
<rect x="87" y="143" width="1" height="3" fill="#D8BFD8"/>
<rect x="87" y="137" width="1" height="3" fill="#D8BFD8"/>
<rect x="87" y="131" width="1" height="3" fill="#D8BFD8"/>
<rect x="87" y="125" width="1" height="3" fill="#D8BFD8"/>
<rect x="87" y="119" width="1" height="3" fill="#D8BFD8"/>
<rect x="87" y="113" width="1" height="3" fill="#D8BFD8"/>
<rect x="87" y="107" width="1" height="3" fill="#D8BFD8"/>
<rect x="91" y="216" width="1" height="3" fill="#D8BFD8"/>
<rect x="91" y="210" width="1" height="3" fill="#D8BFD8"/>
<rect x="91" y="204" width="1" height="3" fill="#D8BFD8"/>
<rect x="91" y="198" width="1" height="3" fill="#D8BFD8"/>
<rect x="91" y="192" width="1" height="3" fill="#D8BFD8"/>
<rect x="91" y="186" width="1" height="3" fill="#D8BFD8"/>
<rect x="91" y="180" width="1" height="3" fill="#D8BFD8"/>
<rect x="91" y="174" width="1" height="3" fill="#D8BFD8"/>
<rect x="91" y="168" width="1" height="3" fill="#D8BFD8"/>
<rect x="91" y="162" width="1" height="3" fill="#D8BFD8"/>
<rect x="91" y="156" width="1" height="3" fill="#D8BFD8"/>
<rect x="91" y="150" width="1" height="3" fill="#D8BFD8"/>
<rect x="91" y="144" width="1" height="3" fill="#D8BFD8"/>
<rect x="91" y="138" width="1" height="3" fill="#D8BFD8"/>
<rect x="91" y="132" width="1" height="3" fill="#D8BFD8"/>
<rect x="91" y="126" width="1" height="3" fill="#D8BFD8"/>
<rect x="91" y="120" width="1" height="3" fill="#D8BFD8"/>
<rect x="91" y="114" width="1" height="3" fill="#D8BFD8"/>
<rect x="91" y="108" width="1" height="3" fill="#D8BFD8"/>
<rect x="95" y="218" width="1" height="3" fill="#D8BFD8"/>
<rect x="95" y="212" width="1" height="3" fill="#D8BFD8"/>
<rect x="95" y="206" width="1" height="3" fill="#D8BFD8"/>
<rect x="95" y="200" width="1" height="3" fill="#D8BFD8"/>
<rect x="95" y="194" width="1" height="3" fill="#D8BFD8"/>
<rect x="95" y="188" width="1" height="3" fill="#D8BFD8"/>
<rect x="95" y="182" width="1" height="3" fill="#D8BFD8"/>
<rect x="95" y="176" width="1" height="3" fill="#D8BFD8"/>
<rect x="95" y="170" width="1" height="3" fill="#D8BFD8"/>
<rect x="95" y="164" width="1" height="3" fill="#D8BFD8"/>
<rect x="95" y="158" width="1" height="3" fill="#D8BFD8"/>
<rect x="95" y="152" width="1" height="3" fill="#D8BFD8"/>
<rect x="95" y="146" width="1" height="3" fill="#D8BFD8"/>
<rect x="95" y="140" width="1" height="3" fill="#D8BFD8"/>
<rect x="95" y="134" width="1" height="3" fill="#D8BFD8"/>
<rect x="95" y="128" width="1" height="3" fill="#D8BFD8"/>
<rect x="95" y="122" width="1" height="3" fill="#D8BFD8"/>
<rect x="95" y="116" width="1" height="3" fill="#D8BFD8"/>
<rect x="95" y="110" width="1" height="3" fill="#D8BFD8"/>
<rect x="99" y="225" width="1" height="3" fill="#D8BFD8"/>
<rect x="99" y="219" width="1" height="3" fill="#D8BFD8"/>
<rect x="99" y="213" width="1" height="3" fill="#D8BFD8"/>
<rect x="99" y="207" width="1" height="3" fill="#D8BFD8"/>
<rect x="99" y="201" width="1" height="3" fill="#D8BFD8"/>
<rect x="99" y="195" width="1" height="3" fill="#D8BFD8"/>
<rect x="99" y="189" width="1" height="3" fill="#D8BFD8"/>
<rect x="99" y="183" width="1" height="3" fill="#D8BFD8"/>
<rect x="99" y="177" width="1" height="3" fill="#D8BFD8"/>
<rect x="99" y="171" width="1" height="3" fill="#D8BFD8"/>
<rect x="99" y="165" width="1" height="3" fill="#D8BFD8"/>
<rect x="99" y="159" width="1" height="3" fill="#D8BFD8"/>
<rect x="99" y="153" width="1" height="3" fill="#D8BFD8"/>
<rect x="99" y="147" width="1" height="3" fill="#D8BFD8"/>
<rect x="99" y="141" width="1" height="3" fill="#D8BFD8"/>
<rect x="99" y="135" width="1" height="3" fill="#D8BFD8"/>
<rect x="99" y="129" width="1" height="3" fill="#D8BFD8"/>
<rect x="99" y="123" width="1" height="3" fill="#D8BFD8"/>
<rect x="99" y="117" width="1" height="3" fill="#D8BFD8"/>
<rect x="99" y="111" width="1" height="3" fill="#D8BFD8"/>
<rect x="99" y="106" width="1" height="2" fill="#D8BFD8"/>
<rect x="103" y="222" width="1" height="3" fill="#D8BFD8"/>
<rect x="103" y="216" width="1" height="3" fill="#D8BFD8"/>
<rect x="103" y="210" width="1" height="3" fill="#D8BFD8"/>
<rect x="103" y="204" width="1" height="3" fill="#D8BFD8"/>
<rect x="103" y="198" width="1" height="3" fill="#D8BFD8"/>
<rect x="103" y="192" width="1" height="3" fill="#D8BFD8"/>
<rect x="103" y="186" width="1" height="3" fill="#D8BFD8"/>
<rect x="103" y="180" width="1" height="3" fill="#D8BFD8"/>
<rect x="103" y="174" width="1" height="3" fill="#D8BFD8"/>
<rect x="103" y="168" width="1" height="3" fill="#D8BFD8"/>
<rect x="103" y="162" width="1" height="3" fill="#D8BFD8"/>
<rect x="103" y="156" width="1" height="3" fill="#D8BFD8"/>
<rect x="103" y="150" width="1" height="3" fill="#D8BFD8"/>
<rect x="103" y="144" width="1" height="3" fill="#D8BFD8"/>
<rect x="103" y="138" width="1" height="3" fill="#D8BFD8"/>
<rect x="103" y="132" width="1" height="3" fill="#D8BFD8"/>
<rect x="103" y="126" width="1" height="3" fill="#D8BFD8"/>
<rect x="103" y="120" width="1" height="3" fill="#D8BFD8"/>
<rect x="103" y="114" width="1" height="3" fill="#D8BFD8"/>
<rect x="103" y="108" width="1" height="3" fill="#D8BFD8"/>
<rect x="107" y="216" width="1" height="3" fill="#D8BFD8"/>
<rect x="107" y="210" width="1" height="3" fill="#D8BFD8"/>
<rect x="107" y="204" width="1" height="3" fill="#D8BFD8"/>
<rect x="107" y="198" width="1" height="3" fill="#D8BFD8"/>
<rect x="107" y="192" width="1" height="3" fill="#D8BFD8"/>
<rect x="107" y="186" width="1" height="3" fill="#D8BFD8"/>
<rect x="107" y="180" width="1" height="3" fill="#D8BFD8"/>
<rect x="107" y="174" width="1" height="3" fill="#D8BFD8"/>
<rect x="107" y="168" width="1" height="3" fill="#D8BFD8"/>
<rect x="107" y="162" width="1" height="3" fill="#D8BFD8"/>
<rect x="107" y="156" width="1" height="3" fill="#D8BFD8"/>
<rect x="107" y="150" width="1" height="3" fill="#D8BFD8"/>
<rect x="107" y="144" width="1" height="3" fill="#D8BFD8"/>
<rect x="107" y="138" width="1" height="3" fill="#D8BFD8"/>
<rect x="107" y="132" width="1" height="3" fill="#D8BFD8"/>
<rect x="107" y="126" width="1" height="3" fill="#D8BFD8"/>
<rect x="107" y="120" width="1" height="3" fill="#D8BFD8"/>
<rect x="107" y="114" width="1" height="3" fill="#D8BFD8"/>
<rect x="107" y="108" width="1" height="3" fill="#D8BFD8"/>
<rect x="111" y="216" width="1" height="3" fill="#D8BFD8"/>
<rect x="111" y="210" width="1" height="3" fill="#D8BFD8"/>
<rect x="111" y="204" width="1" height="3" fill="#D8BFD8"/>
<rect x="111" y="198" width="1" height="3" fill="#D8BFD8"/>
<rect x="111" y="192" width="1" height="3" fill="#D8BFD8"/>
<rect x="111" y="186" width="1" height="3" fill="#D8BFD8"/>
<rect x="111" y="180" width="1" height="3" fill="#D8BFD8"/>
<rect x="111" y="174" width="1" height="3" fill="#D8BFD8"/>
<rect x="111" y="168" width="1" height="3" fill="#D8BFD8"/>
<rect x="111" y="162" width="1" height="3" fill="#D8BFD8"/>
<rect x="111" y="156" width="1" height="3" fill="#D8BFD8"/>
<rect x="111" y="150" width="1" height="3" fill="#D8BFD8"/>
<rect x="111" y="144" width="1" height="3" fill="#D8BFD8"/>
<rect x="111" y="138" width="1" height="3" fill="#D8BFD8"/>
<rect x="111" y="132" width="1" height="3" fill="#D8BFD8"/>
<rect x="111" y="126" width="1" height="3" fill="#D8BFD8"/>
<rect x="111" y="120" width="1" height="3" fill="#D8BFD8"/>
<rect x="111" y="114" width="1" height="3" fill="#D8BFD8"/>
<rect x="111" y="108" width="1" height="3" fill="#D8BFD8"/>
<rect x="115" y="216" width="1" height="3" fill="#D8BFD8"/>
<rect x="115" y="210" width="1" height="3" fill="#D8BFD8"/>
<rect x="115" y="204" width="1" height="3" fill="#D8BFD8"/>
<rect x="115" y="198" width="1" height="3" fill="#D8BFD8"/>
<rect x="115" y="192" width="1" height="3" fill="#D8BFD8"/>
<rect x="115" y="186" width="1" height="3" fill="#D8BFD8"/>
<rect x="115" y="180" width="1" height="3" fill="#D8BFD8"/>
<rect x="115" y="174" width="1" height="3" fill="#D8BFD8"/>
<rect x="115" y="168" width="1" height="3" fill="#D8BFD8"/>
<rect x="115" y="162" width="1" height="3" fill="#D8BFD8"/>
<rect x="115" y="156" width="1" height="3" fill="#D8BFD8"/>
<rect x="115" y="150" width="1" height="3" fill="#D8BFD8"/>
<rect x="115" y="144" width="1" height="3" fill="#D8BFD8"/>
<rect x="115" y="138" width="1" height="3" fill="#D8BFD8"/>
<rect x="115" y="132" width="1" height="3" fill="#D8BFD8"/>
<rect x="115" y="126" width="1" height="3" fill="#D8BFD8"/>
<rect x="115" y="120" width="1" height="3" fill="#D8BFD8"/>
<rect x="115" y="114" width="1" height="3" fill="#D8BFD8"/>
<rect x="115" y="108" width="1" height="3" fill="#D8BFD8"/>
<rect x="119" y="193" width="1" height="3" fill="#D8BFD8"/>
<rect x="119" y="187" width="1" height="3" fill="#D8BFD8"/>
<rect x="119" y="181" width="1" height="3" fill="#D8BFD8"/>
<rect x="119" y="175" width="1" height="3" fill="#D8BFD8"/>
<rect x="119" y="169" width="1" height="3" fill="#D8BFD8"/>
<rect x="119" y="163" width="1" height="3" fill="#D8BFD8"/>
<rect x="119" y="157" width="1" height="3" fill="#D8BFD8"/>
<rect x="119" y="151" width="1" height="3" fill="#D8BFD8"/>
<rect x="119" y="145" width="1" height="3" fill="#D8BFD8"/>
<rect x="119" y="139" width="1" height="3" fill="#D8BFD8"/>
<rect x="119" y="133" width="1" height="3" fill="#D8BFD8"/>
<rect x="119" y="127" width="1" height="3" fill="#D8BFD8"/>
<rect x="119" y="121" width="1" height="3" fill="#D8BFD8"/>
<rect x="119" y="115" width="1" height="3" fill="#D8BFD8"/>
<rect x="119" y="109" width="1" height="3" fill="#D8BFD8"/>
<rect x="123" y="193" width="1" height="3" fill="#D8BFD8"/>
<rect x="123" y="187" width="1" height="3" fill="#D8BFD8"/>
<rect x="123" y="181" width="1" height="3" fill="#D8BFD8"/>
<rect x="123" y="175" width="1" height="3" fill="#D8BFD8"/>
<rect x="123" y="169" width="1" height="3" fill="#D8BFD8"/>
<rect x="123" y="163" width="1" height="3" fill="#D8BFD8"/>
<rect x="123" y="157" width="1" height="3" fill="#D8BFD8"/>
<rect x="123" y="151" width="1" height="3" fill="#D8BFD8"/>
<rect x="123" y="145" width="1" height="3" fill="#D8BFD8"/>
<rect x="123" y="139" width="1" height="3" fill="#D8BFD8"/>
<rect x="123" y="133" width="1" height="3" fill="#D8BFD8"/>
<rect x="123" y="127" width="1" height="3" fill="#D8BFD8"/>
<rect x="123" y="121" width="1" height="3" fill="#D8BFD8"/>
<rect x="123" y="115" width="1" height="3" fill="#D8BFD8"/>
<rect x="123" y="109" width="1" height="3" fill="#D8BFD8"/>
<rect x="127" y="193" width="1" height="3" fill="#D8BFD8"/>
<rect x="127" y="187" width="1" height="3" fill="#D8BFD8"/>
<rect x="127" y="181" width="1" height="3" fill="#D8BFD8"/>
<rect x="127" y="175" width="1" height="3" fill="#D8BFD8"/>
<rect x="127" y="169" width="1" height="3" fill="#D8BFD8"/>
<rect x="127" y="163" width="1" height="3" fill="#D8BFD8"/>
<rect x="127" y="157" width="1" height="3" fill="#D8BFD8"/>
<rect x="127" y="151" width="1" height="3" fill="#D8BFD8"/>
<rect x="127" y="145" width="1" height="3" fill="#D8BFD8"/>
<rect x="127" y="139" width="1" height="3" fill="#D8BFD8"/>
<rect x="127" y="133" width="1" height="3" fill="#D8BFD8"/>
<rect x="127" y="127" width="1" height="3" fill="#D8BFD8"/>
<rect x="127" y="121" width="1" height="3" fill="#D8BFD8"/>
<rect x="127" y="115" width="1" height="3" fill="#D8BFD8"/>
<rect x="127" y="109" width="1" height="3" fill="#D8BFD8"/>
<rect x="131" y="193" width="1" height="3" fill="#D8BFD8"/>
<rect x="131" y="187" width="1" height="3" fill="#D8BFD8"/>
<rect x="131" y="181" width="1" height="3" fill="#D8BFD8"/>
<rect x="131" y="175" width="1" height="3" fill="#D8BFD8"/>
<rect x="131" y="169" width="1" height="3" fill="#D8BFD8"/>
<rect x="131" y="163" width="1" height="3" fill="#D8BFD8"/>
<rect x="131" y="157" width="1" height="3" fill="#D8BFD8"/>
<rect x="131" y="151" width="1" height="3" fill="#D8BFD8"/>
<rect x="131" y="145" width="1" height="3" fill="#D8BFD8"/>
<rect x="131" y="139" width="1" height="3" fill="#D8BFD8"/>
<rect x="131" y="133" width="1" height="3" fill="#D8BFD8"/>
<rect x="131" y="127" width="1" height="3" fill="#D8BFD8"/>
<rect x="131" y="121" width="1" height="3" fill="#D8BFD8"/>
<rect x="131" y="115" width="1" height="3" fill="#D8BFD8"/>
<rect x="131" y="109" width="1" height="3" fill="#D8BFD8"/>
<rect x="135" y="192" width="1" height="3" fill="#D8BFD8"/>
<rect x="135" y="186" width="1" height="3" fill="#D8BFD8"/>
<rect x="135" y="180" width="1" height="3" fill="#D8BFD8"/>
<rect x="135" y="174" width="1" height="3" fill="#D8BFD8"/>
<rect x="135" y="168" width="1" height="3" fill="#D8BFD8"/>
<rect x="135" y="162" width="1" height="3" fill="#D8BFD8"/>
<rect x="135" y="156" width="1" height="3" fill="#D8BFD8"/>
<rect x="135" y="150" width="1" height="3" fill="#D8BFD8"/>
<rect x="135" y="144" width="1" height="3" fill="#D8BFD8"/>
<rect x="135" y="138" width="1" height="3" fill="#D8BFD8"/>
<rect x="135" y="132" width="1" height="3" fill="#D8BFD8"/>
<rect x="135" y="126" width="1" height="3" fill="#D8BFD8"/>
<rect x="135" y="120" width="1" height="3" fill="#D8BFD8"/>
<rect x="135" y="114" width="1" height="3" fill="#D8BFD8"/>
<rect x="135" y="108" width="1" height="3" fill="#D8BFD8"/>
<rect x="139" y="192" width="1" height="3" fill="#D8BFD8"/>
<rect x="139" y="186" width="1" height="3" fill="#D8BFD8"/>
<rect x="139" y="180" width="1" height="3" fill="#D8BFD8"/>
<rect x="139" y="174" width="1" height="3" fill="#D8BFD8"/>
<rect x="139" y="168" width="1" height="3" fill="#D8BFD8"/>
<rect x="139" y="162" width="1" height="3" fill="#D8BFD8"/>
<rect x="139" y="156" width="1" height="3" fill="#D8BFD8"/>
<rect x="139" y="150" width="1" height="3" fill="#D8BFD8"/>
<rect x="139" y="144" width="1" height="3" fill="#D8BFD8"/>
<rect x="139" y="138" width="1" height="3" fill="#D8BFD8"/>
<rect x="139" y="132" width="1" height="3" fill="#D8BFD8"/>
<rect x="139" y="126" width="1" height="3" fill="#D8BFD8"/>
<rect x="139" y="120" width="1" height="3" fill="#D8BFD8"/>
<rect x="139" y="114" width="1" height="3" fill="#D8BFD8"/>
<rect x="139" y="108" width="1" height="3" fill="#D8BFD8"/>
<rect x="143" y="192" width="1" height="3" fill="#D8BFD8"/>
<rect x="143" y="186" width="1" height="3" fill="#D8BFD8"/>
<rect x="143" y="180" width="1" height="3" fill="#D8BFD8"/>
<rect x="143" y="174" width="1" height="3" fill="#D8BFD8"/>
<rect x="143" y="168" width="1" height="3" fill="#D8BFD8"/>
<rect x="143" y="162" width="1" height="3" fill="#D8BFD8"/>
<rect x="143" y="156" width="1" height="3" fill="#D8BFD8"/>
<rect x="143" y="150" width="1" height="3" fill="#D8BFD8"/>
<rect x="143" y="144" width="1" height="3" fill="#D8BFD8"/>
<rect x="143" y="138" width="1" height="3" fill="#D8BFD8"/>
<rect x="143" y="132" width="1" height="3" fill="#D8BFD8"/>
<rect x="143" y="126" width="1" height="3" fill="#D8BFD8"/>
<rect x="143" y="120" width="1" height="3" fill="#D8BFD8"/>
<rect x="143" y="114" width="1" height="3" fill="#D8BFD8"/>
<rect x="143" y="108" width="1" height="3" fill="#D8BFD8"/>
<rect x="147" y="185" width="1" height="3" fill="#D8BFD8"/>
<rect x="147" y="179" width="1" height="3" fill="#D8BFD8"/>
<rect x="147" y="173" width="1" height="3" fill="#D8BFD8"/>
<rect x="147" y="167" width="1" height="3" fill="#D8BFD8"/>
<rect x="147" y="161" width="1" height="3" fill="#D8BFD8"/>
<rect x="147" y="155" width="1" height="3" fill="#D8BFD8"/>
<rect x="147" y="149" width="1" height="3" fill="#D8BFD8"/>
<rect x="147" y="143" width="1" height="3" fill="#D8BFD8"/>
<rect x="147" y="137" width="1" height="3" fill="#D8BFD8"/>
<rect x="147" y="131" width="1" height="3" fill="#D8BFD8"/>
<rect x="147" y="125" width="1" height="3" fill="#D8BFD8"/>
<rect x="147" y="119" width="1" height="3" fill="#D8BFD8"/>
<rect x="147" y="113" width="1" height="3" fill="#D8BFD8"/>
<rect x="147" y="107" width="1" height="3" fill="#D8BFD8"/>
<rect x="151" y="180" width="1" height="3" fill="#D8BFD8"/>
<rect x="151" y="174" width="1" height="3" fill="#D8BFD8"/>
<rect x="151" y="168" width="1" height="3" fill="#D8BFD8"/>
<rect x="151" y="162" width="1" height="3" fill="#D8BFD8"/>
<rect x="151" y="156" width="1" height="3" fill="#D8BFD8"/>
<rect x="151" y="150" width="1" height="3" fill="#D8BFD8"/>
<rect x="151" y="144" width="1" height="3" fill="#D8BFD8"/>
<rect x="151" y="138" width="1" height="3" fill="#D8BFD8"/>
<rect x="151" y="132" width="1" height="3" fill="#D8BFD8"/>
<rect x="151" y="126" width="1" height="3" fill="#D8BFD8"/>
<rect x="151" y="120" width="1" height="3" fill="#D8BFD8"/>
<rect x="151" y="114" width="1" height="3" fill="#D8BFD8"/>
<rect x="151" y="108" width="1" height="3" fill="#D8BFD8"/>
<rect x="155" y="179" width="1" height="3" fill="#D8BFD8"/>
<rect x="155" y="173" width="1" height="3" fill="#D8BFD8"/>
<rect x="155" y="167" width="1" height="3" fill="#D8BFD8"/>
<rect x="155" y="161" width="1" height="3" fill="#D8BFD8"/>
<rect x="155" y="155" width="1" height="3" fill="#D8BFD8"/>
<rect x="155" y="149" width="1" height="3" fill="#D8BFD8"/>
<rect x="155" y="143" width="1" height="3" fill="#D8BFD8"/>
<rect x="155" y="137" width="1" height="3" fill="#D8BFD8"/>
<rect x="155" y="131" width="1" height="3" fill="#D8BFD8"/>
<rect x="155" y="125" width="1" height="3" fill="#D8BFD8"/>
<rect x="155" y="119" width="1" height="3" fill="#D8BFD8"/>
<rect x="155" y="113" width="1" height="3" fill="#D8BFD8"/>
<rect x="155" y="107" width="1" height="3" fill="#D8BFD8"/>
<rect x="159" y="178" width="1" height="3" fill="#D8BFD8"/>
<rect x="159" y="172" width="1" height="3" fill="#D8BFD8"/>
<rect x="159" y="166" width="1" height="3" fill="#D8BFD8"/>
<rect x="159" y="160" width="1" height="3" fill="#D8BFD8"/>
<rect x="159" y="154" width="1" height="3" fill="#D8BFD8"/>
<rect x="159" y="148" width="1" height="3" fill="#D8BFD8"/>
<rect x="159" y="142" width="1" height="3" fill="#D8BFD8"/>
<rect x="159" y="136" width="1" height="3" fill="#D8BFD8"/>
<rect x="159" y="130" width="1" height="3" fill="#D8BFD8"/>
<rect x="159" y="124" width="1" height="3" fill="#D8BFD8"/>
<rect x="159" y="118" width="1" height="3" fill="#D8BFD8"/>
<rect x="159" y="112" width="1" height="3" fill="#D8BFD8"/>
<rect x="159" y="106" width="1" height="3" fill="#D8BFD8"/>
<rect x="163" y="175" width="1" height="3" fill="#D8BFD8"/>
<rect x="163" y="169" width="1" height="3" fill="#D8BFD8"/>
<rect x="163" y="163" width="1" height="3" fill="#D8BFD8"/>
<rect x="163" y="157" width="1" height="3" fill="#D8BFD8"/>
<rect x="163" y="151" width="1" height="3" fill="#D8BFD8"/>
<rect x="163" y="145" width="1" height="3" fill="#D8BFD8"/>
<rect x="163" y="139" width="1" height="3" fill="#D8BFD8"/>
<rect x="163" y="133" width="1" height="3" fill="#D8BFD8"/>
<rect x="163" y="127" width="1" height="3" fill="#D8BFD8"/>
<rect x="163" y="121" width="1" height="3" fill="#D8BFD8"/>
<rect x="163" y="115" width="1" height="3" fill="#D8BFD8"/>
<rect x="163" y="109" width="1" height="3" fill="#D8BFD8"/>
<rect x="167" y="175" width="1" height="3" fill="#D8BFD8"/>
<rect x="167" y="169" width="1" height="3" fill="#D8BFD8"/>
<rect x="167" y="163" width="1" height="3" fill="#D8BFD8"/>
<rect x="167" y="157" width="1" height="3" fill="#D8BFD8"/>
<rect x="167" y="151" width="1" height="3" fill="#D8BFD8"/>
<rect x="167" y="145" width="1" height="3" fill="#D8BFD8"/>
<rect x="167" y="139" width="1" height="3" fill="#D8BFD8"/>
<rect x="167" y="133" width="1" height="3" fill="#D8BFD8"/>
<rect x="167" y="127" width="1" height="3" fill="#D8BFD8"/>
<rect x="167" y="121" width="1" height="3" fill="#D8BFD8"/>
<rect x="167" y="115" width="1" height="3" fill="#D8BFD8"/>
<rect x="167" y="109" width="1" height="3" fill="#D8BFD8"/>
<rect x="171" y="175" width="1" height="3" fill="#D8BFD8"/>
<rect x="171" y="169" width="1" height="3" fill="#D8BFD8"/>
<rect x="171" y="163" width="1" height="3" fill="#D8BFD8"/>
<rect x="171" y="157" width="1" height="3" fill="#D8BFD8"/>
<rect x="171" y="151" width="1" height="3" fill="#D8BFD8"/>
<rect x="171" y="145" width="1" height="3" fill="#D8BFD8"/>
<rect x="171" y="139" width="1" height="3" fill="#D8BFD8"/>
<rect x="171" y="133" width="1" height="3" fill="#D8BFD8"/>
<rect x="171" y="127" width="1" height="3" fill="#D8BFD8"/>
<rect x="171" y="121" width="1" height="3" fill="#D8BFD8"/>
<rect x="171" y="115" width="1" height="3" fill="#D8BFD8"/>
<rect x="171" y="109" width="1" height="3" fill="#D8BFD8"/>
<rect x="175" y="175" width="1" height="3" fill="#D8BFD8"/>
<rect x="175" y="169" width="1" height="3" fill="#D8BFD8"/>
<rect x="175" y="163" width="1" height="3" fill="#D8BFD8"/>
<rect x="175" y="157" width="1" height="3" fill="#D8BFD8"/>
<rect x="175" y="151" width="1" height="3" fill="#D8BFD8"/>
<rect x="175" y="145" width="1" height="3" fill="#D8BFD8"/>
<rect x="175" y="139" width="1" height="3" fill="#D8BFD8"/>
<rect x="175" y="133" width="1" height="3" fill="#D8BFD8"/>
<rect x="175" y="127" width="1" height="3" fill="#D8BFD8"/>
<rect x="175" y="121" width="1" height="3" fill="#D8BFD8"/>
<rect x="175" y="115" width="1" height="3" fill="#D8BFD8"/>
<rect x="175" y="109" width="1" height="3" fill="#D8BFD8"/>
<rect x="179" y="175" width="1" height="3" fill="#D8BFD8"/>
<rect x="179" y="169" width="1" height="3" fill="#D8BFD8"/>
<rect x="179" y="163" width="1" height="3" fill="#D8BFD8"/>
<rect x="179" y="157" width="1" height="3" fill="#D8BFD8"/>
<rect x="179" y="151" width="1" height="3" fill="#D8BFD8"/>
<rect x="179" y="145" width="1" height="3" fill="#D8BFD8"/>
<rect x="179" y="139" width="1" height="3" fill="#D8BFD8"/>
<rect x="179" y="133" width="1" height="3" fill="#D8BFD8"/>
<rect x="179" y="127" width="1" height="3" fill="#D8BFD8"/>
<rect x="179" y="121" width="1" height="3" fill="#D8BFD8"/>
<rect x="179" y="115" width="1" height="3" fill="#D8BFD8"/>
<rect x="179" y="109" width="1" height="3" fill="#D8BFD8"/>
<rect x="183" y="175" width="1" height="3" fill="#D8BFD8"/>
<rect x="183" y="169" width="1" height="3" fill="#D8BFD8"/>
<rect x="183" y="163" width="1" height="3" fill="#D8BFD8"/>
<rect x="183" y="157" width="1" height="3" fill="#D8BFD8"/>
<rect x="183" y="151" width="1" height="3" fill="#D8BFD8"/>
<rect x="183" y="145" width="1" height="3" fill="#D8BFD8"/>
<rect x="183" y="139" width="1" height="3" fill="#D8BFD8"/>
<rect x="183" y="133" width="1" height="3" fill="#D8BFD8"/>
<rect x="183" y="127" width="1" height="3" fill="#D8BFD8"/>
<rect x="183" y="121" width="1" height="3" fill="#D8BFD8"/>
<rect x="183" y="115" width="1" height="3" fill="#D8BFD8"/>
<rect x="183" y="109" width="1" height="3" fill="#D8BFD8"/>
<rect x="187" y="175" width="1" height="3" fill="#D8BFD8"/>
<rect x="187" y="169" width="1" height="3" fill="#D8BFD8"/>
<rect x="187" y="163" width="1" height="3" fill="#D8BFD8"/>
<rect x="187" y="157" width="1" height="3" fill="#D8BFD8"/>
<rect x="187" y="151" width="1" height="3" fill="#D8BFD8"/>
<rect x="187" y="145" width="1" height="3" fill="#D8BFD8"/>
<rect x="187" y="139" width="1" height="3" fill="#D8BFD8"/>
<rect x="187" y="133" width="1" height="3" fill="#D8BFD8"/>
<rect x="187" y="127" width="1" height="3" fill="#D8BFD8"/>
<rect x="187" y="121" width="1" height="3" fill="#D8BFD8"/>
<rect x="187" y="115" width="1" height="3" fill="#D8BFD8"/>
<rect x="187" y="109" width="1" height="3" fill="#D8BFD8"/>
<rect x="191" y="175" width="1" height="3" fill="#D8BFD8"/>
<rect x="191" y="169" width="1" height="3" fill="#D8BFD8"/>
<rect x="191" y="163" width="1" height="3" fill="#D8BFD8"/>
<rect x="191" y="157" width="1" height="3" fill="#D8BFD8"/>
<rect x="191" y="151" width="1" height="3" fill="#D8BFD8"/>
<rect x="191" y="145" width="1" height="3" fill="#D8BFD8"/>
<rect x="191" y="139" width="1" height="3" fill="#D8BFD8"/>
<rect x="191" y="133" width="1" height="3" fill="#D8BFD8"/>
<rect x="191" y="127" width="1" height="3" fill="#D8BFD8"/>
<rect x="191" y="121" width="1" height="3" fill="#D8BFD8"/>
<rect x="191" y="115" width="1" height="3" fill="#D8BFD8"/>
<rect x="191" y="109" width="1" height="3" fill="#D8BFD8"/>
<rect x="195" y="162" width="1" height="3" fill="#D8BFD8"/>
<rect x="195" y="156" width="1" height="3" fill="#D8BFD8"/>
<rect x="195" y="150" width="1" height="3" fill="#D8BFD8"/>
<rect x="195" y="144" width="1" height="3" fill="#D8BFD8"/>
<rect x="195" y="138" width="1" height="3" fill="#D8BFD8"/>
<rect x="195" y="132" width="1" height="3" fill="#D8BFD8"/>
<rect x="195" y="126" width="1" height="3" fill="#D8BFD8"/>
<rect x="195" y="120" width="1" height="3" fill="#D8BFD8"/>
<rect x="195" y="114" width="1" height="3" fill="#D8BFD8"/>
<rect x="195" y="108" width="1" height="3" fill="#D8BFD8"/>
<rect x="199" y="154" width="1" height="3" fill="#D8BFD8"/>
<rect x="199" y="148" width="1" height="3" fill="#D8BFD8"/>
<rect x="199" y="142" width="1" height="3" fill="#D8BFD8"/>
<rect x="199" y="136" width="1" height="3" fill="#D8BFD8"/>
<rect x="199" y="130" width="1" height="3" fill="#D8BFD8"/>
<rect x="199" y="124" width="1" height="3" fill="#D8BFD8"/>
<rect x="199" y="118" width="1" height="3" fill="#D8BFD8"/>
<rect x="199" y="112" width="1" height="3" fill="#D8BFD8"/>
<rect x="199" y="106" width="1" height="3" fill="#D8BFD8"/>
<rect x="203" y="148" width="1" height="3" fill="#D8BFD8"/>
<rect x="203" y="142" width="1" height="3" fill="#D8BFD8"/>
<rect x="203" y="136" width="1" height="3" fill="#D8BFD8"/>
<rect x="203" y="130" width="1" height="3" fill="#D8BFD8"/>
<rect x="203" y="124" width="1" height="3" fill="#D8BFD8"/>
<rect x="203" y="118" width="1" height="3" fill="#D8BFD8"/>
<rect x="203" y="112" width="1" height="3" fill="#D8BFD8"/>
<rect x="203" y="106" width="1" height="3" fill="#D8BFD8"/>
<rect x="207" y="144" width="1" height="3" fill="#D8BFD8"/>
<rect x="207" y="138" width="1" height="3" fill="#D8BFD8"/>
<rect x="207" y="132" width="1" height="3" fill="#D8BFD8"/>
<rect x="207" y="126" width="1" height="3" fill="#D8BFD8"/>
<rect x="207" y="120" width="1" height="3" fill="#D8BFD8"/>
<rect x="207" y="114" width="1" height="3" fill="#D8BFD8"/>
<rect x="207" y="108" width="1" height="3" fill="#D8BFD8"/>
<rect x="211" y="138" width="1" height="3" fill="#D8BFD8"/>
<rect x="211" y="132" width="1" height="3" fill="#D8BFD8"/>
<rect x="211" y="126" width="1" height="3" fill="#D8BFD8"/>
<rect x="211" y="120" width="1" height="3" fill="#D8BFD8"/>
<rect x="211" y="114" width="1" height="3" fill="#D8BFD8"/>
<rect x="211" y="108" width="1" height="3" fill="#D8BFD8"/>
<rect x="215" y="135" width="1" height="3" fill="#D8BFD8"/>
<rect x="215" y="129" width="1" height="3" fill="#D8BFD8"/>
<rect x="215" y="123" width="1" height="3" fill="#D8BFD8"/>
<rect x="215" y="117" width="1" height="3" fill="#D8BFD8"/>
<rect x="215" y="111" width="1" height="3" fill="#D8BFD8"/>
<rect x="215" y="106" width="1" height="2" fill="#D8BFD8"/>
<rect x="219" y="135" width="1" height="3" fill="#D8BFD8"/>
<rect x="219" y="129" width="1" height="3" fill="#D8BFD8"/>
<rect x="219" y="123" width="1" height="3" fill="#D8BFD8"/>
<rect x="219" y="117" width="1" height="3" fill="#D8BFD8"/>
<rect x="219" y="111" width="1" height="3" fill="#D8BFD8"/>
<rect x="219" y="106" width="1" height="2" fill="#D8BFD8"/>
<rect x="223" y="133" width="1" height="3" fill="#D8BFD8"/>
<rect x="223" y="127" width="1" height="3" fill="#D8BFD8"/>
<rect x="223" y="121" width="1" height="3" fill="#D8BFD8"/>
<rect x="223" y="115" width="1" height="3" fill="#D8BFD8"/>
<rect x="223" y="109" width="1" height="3" fill="#D8BFD8"/>
<rect x="227" y="128" width="1" height="3" fill="#D8BFD8"/>
<rect x="227" y="122" width="1" height="3" fill="#D8BFD8"/>
<rect x="227" y="116" width="1" height="3" fill="#D8BFD8"/>
<rect x="227" y="110" width="1" height="3" fill="#D8BFD8"/>
<rect x="231" y="126" width="1" height="3" fill="#D8BFD8"/>
<rect x="231" y="120" width="1" height="3" fill="#D8BFD8"/>
<rect x="231" y="114" width="1" height="3" fill="#D8BFD8"/>
<rect x="231" y="108" width="1" height="3" fill="#D8BFD8"/>
<rect x="235" y="124" width="1" height="3" fill="#D8BFD8"/>
<rect x="235" y="118" width="1" height="3" fill="#D8BFD8"/>
<rect x="235" y="112" width="1" height="3" fill="#D8BFD8"/>
<rect x="235" y="106" width="1" height="3" fill="#D8BFD8"/>
<rect x="239" y="111" width="1" height="3" fill="#D8BFD8"/>
<rect x="239" y="106" width="1" height="2" fill="#D8BFD8"/>
<rect x="243" y="104" width="1" height="3" fill="#F4A460"/>
<rect x="247" y="102" width="1" height="3" fill="#F4A460"/>
<rect x="251" y="102" width="1" height="3" fill="#F4A460"/>
<rect x="255" y="102" width="1" height="3" fill="#F4A460"/>
<rect x="259" y="102" width="1" height="3" fill="#F4A460"/>
<rect x="263" y="91" width="1" height="3" fill="#F4A460"/>
<rect x="263" y="97" width="1" height="3" fill="#F4A460"/>
<rect x="263" y="103" width="1" height="3" fill="#F4A460"/>
<rect x="267" y="90" width="1" height="3" fill="#F4A460"/>
<rect x="267" y="96" width="1" height="3" fill="#F4A460"/>
<rect x="267" y="102" width="1" height="3" fill="#F4A460"/>
<rect x="271" y="88" width="1" height="3" fill="#F4A460"/>
<rect x="271" y="94" width="1" height="3" fill="#F4A460"/>
<rect x="271" y="100" width="1" height="3" fill="#F4A460"/>
<rect x="275" y="88" width="1" height="3" fill="#F4A460"/>
<rect x="275" y="94" width="1" height="3" fill="#F4A460"/>
<rect x="275" y="100" width="1" height="3" fill="#F4A460"/>
<rect x="279" y="85" width="1" height="3" fill="#F4A460"/>
<rect x="279" y="91" width="1" height="3" fill="#F4A460"/>
<rect x="279" y="97" width="1" height="3" fill="#F4A460"/>
<rect x="279" y="103" width="1" height="3" fill="#F4A460"/>
<rect x="283" y="85" width="1" height="3" fill="#F4A460"/>
<rect x="283" y="91" width="1" height="3" fill="#F4A460"/>
<rect x="283" y="97" width="1" height="3" fill="#F4A460"/>
<rect x="283" y="103" width="1" height="3" fill="#F4A460"/>
<rect x="287" y="87" width="1" height="3" fill="#F4A460"/>
<rect x="287" y="93" width="1" height="3" fill="#F4A460"/>
<rect x="287" y="99" width="1" height="3" fill="#F4A460"/>
<rect x="287" y="105" width="1" height="2" fill="#F4A460"/>
<rect x="291" y="96" width="1" height="3" fill="#F4A460"/>
<rect x="291" y="102" width="1" height="3" fill="#F4A460"/>
<rect x="295" y="102" width="1" height="3" fill="#F4A460"/>
<rect x="299" y="113" width="1" height="3" fill="#D8BFD8"/>
<rect x="299" y="107" width="1" height="3" fill="#D8BFD8"/>
<rect x="303" y="113" width="1" height="3" fill="#D8BFD8"/>
<rect x="303" y="107" width="1" height="3" fill="#D8BFD8"/>
<rect x="307" y="113" width="1" height="3" fill="#D8BFD8"/>
<rect x="315" y="155" width="1" height="3" fill="#D8BFD8"/>
<rect x="315" y="149" width="1" height="3" fill="#D8BFD8"/>
<rect x="315" y="143" width="1" height="3" fill="#D8BFD8"/>
<rect x="319" y="162" width="1" height="3" fill="#D8BFD8"/>
<rect x="319" y="156" width="1" height="3" fill="#D8BFD8"/>
<rect x="319" y="150" width="1" height="3" fill="#D8BFD8"/>
<rect x="319" y="144" width="1" height="3" fill="#D8BFD8"/>
<rect x="323" y="167" width="1" height="3" fill="#D8BFD8"/>
<rect x="323" y="161" width="1" height="3" fill="#D8BFD8"/>
<rect x="323" y="155" width="1" height="3" fill="#D8BFD8"/>
<rect x="323" y="150" width="1" height="2" fill="#D8BFD8"/>
<rect x="327" y="180" width="1" height="3" fill="#D8BFD8"/>
<rect x="327" y="174" width="1" height="3" fill="#D8BFD8"/>
<rect x="327" y="168" width="1" height="3" fill="#D8BFD8"/>
<rect x="327" y="162" width="1" height="3" fill="#D8BFD8"/>
<rect x="327" y="157" width="1" height="2" fill="#D8BFD8"/>
<rect x="331" y="182" width="1" height="3" fill="#D8BFD8"/>
<rect x="331" y="176" width="1" height="3" fill="#D8BFD8"/>
<rect x="331" y="170" width="1" height="3" fill="#D8BFD8"/>
<rect x="331" y="164" width="1" height="3" fill="#D8BFD8"/>
<rect x="331" y="158" width="1" height="3" fill="#D8BFD8"/>
<rect x="335" y="193" width="1" height="3" fill="#D8BFD8"/>
<rect x="335" y="187" width="1" height="3" fill="#D8BFD8"/>
<rect x="335" y="181" width="1" height="3" fill="#D8BFD8"/>
<rect x="335" y="175" width="1" height="3" fill="#D8BFD8"/>
<rect x="335" y="169" width="1" height="3" fill="#D8BFD8"/>
<rect x="335" y="163" width="1" height="3" fill="#D8BFD8"/>
<rect x="335" y="157" width="1" height="3" fill="#D8BFD8"/>
<rect x="339" y="200" width="1" height="3" fill="#D8BFD8"/>
<rect x="339" y="194" width="1" height="3" fill="#D8BFD8"/>
<rect x="339" y="188" width="1" height="3" fill="#D8BFD8"/>
<rect x="339" y="182" width="1" height="3" fill="#D8BFD8"/>
<rect x="339" y="176" width="1" height="3" fill="#D8BFD8"/>
<rect x="339" y="170" width="1" height="3" fill="#D8BFD8"/>
<rect x="339" y="164" width="1" height="3" fill="#D8BFD8"/>
<rect x="339" y="158" width="1" height="3" fill="#D8BFD8"/>
<rect x="343" y="202" width="1" height="3" fill="#D8BFD8"/>
<rect x="343" y="196" width="1" height="3" fill="#D8BFD8"/>
<rect x="343" y="190" width="1" height="3" fill="#D8BFD8"/>
<rect x="343" y="184" width="1" height="3" fill="#D8BFD8"/>
<rect x="343" y="178" width="1" height="3" fill="#D8BFD8"/>
<rect x="343" y="172" width="1" height="3" fill="#D8BFD8"/>
<rect x="343" y="166" width="1" height="3" fill="#D8BFD8"/>
<rect x="343" y="160" width="1" height="3" fill="#D8BFD8"/>
<rect x="347" y="202" width="1" height="3" fill="#D8BFD8"/>
<rect x="347" y="196" width="1" height="3" fill="#D8BFD8"/>
<rect x="347" y="190" width="1" height="3" fill="#D8BFD8"/>
<rect x="347" y="184" width="1" height="3" fill="#D8BFD8"/>
<rect x="347" y="178" width="1" height="3" fill="#D8BFD8"/>
<rect x="347" y="172" width="1" height="3" fill="#D8BFD8"/>
<rect x="347" y="166" width="1" height="3" fill="#D8BFD8"/>
<rect x="347" y="160" width="1" height="3" fill="#D8BFD8"/>
<rect x="351" y="202" width="1" height="3" fill="#D8BFD8"/>
<rect x="351" y="196" width="1" height="3" fill="#D8BFD8"/>
<rect x="351" y="190" width="1" height="3" fill="#D8BFD8"/>
<rect x="351" y="184" width="1" height="3" fill="#D8BFD8"/>
<rect x="351" y="178" width="1" height="3" fill="#D8BFD8"/>
<rect x="351" y="172" width="1" height="3" fill="#D8BFD8"/>
<rect x="351" y="166" width="1" height="3" fill="#D8BFD8"/>
<rect x="351" y="160" width="1" height="3" fill="#D8BFD8"/>
<rect x="355" y="208" width="1" height="3" fill="#D8BFD8"/>
<rect x="355" y="202" width="1" height="3" fill="#D8BFD8"/>
<rect x="355" y="196" width="1" height="3" fill="#D8BFD8"/>
<rect x="355" y="190" width="1" height="3" fill="#D8BFD8"/>
<rect x="355" y="184" width="1" height="3" fill="#D8BFD8"/>
<rect x="355" y="178" width="1" height="3" fill="#D8BFD8"/>
<rect x="355" y="172" width="1" height="3" fill="#D8BFD8"/>
<rect x="355" y="166" width="1" height="3" fill="#D8BFD8"/>
<rect x="359" y="221" width="1" height="3" fill="#D8BFD8"/>
<rect x="359" y="215" width="1" height="3" fill="#D8BFD8"/>
<rect x="359" y="209" width="1" height="3" fill="#D8BFD8"/>
<rect x="359" y="203" width="1" height="3" fill="#D8BFD8"/>
<rect x="359" y="197" width="1" height="3" fill="#D8BFD8"/>
<rect x="359" y="191" width="1" height="3" fill="#D8BFD8"/>
<rect x="359" y="185" width="1" height="3" fill="#D8BFD8"/>
<rect x="359" y="179" width="1" height="3" fill="#D8BFD8"/>
<rect x="359" y="173" width="1" height="3" fill="#D8BFD8"/>
<rect x="363" y="241" width="1" height="3" fill="#D8BFD8"/>
<rect x="363" y="235" width="1" height="3" fill="#D8BFD8"/>
<rect x="363" y="229" width="1" height="3" fill="#D8BFD8"/>
<rect x="363" y="223" width="1" height="3" fill="#D8BFD8"/>
<rect x="363" y="217" width="1" height="3" fill="#D8BFD8"/>
<rect x="363" y="211" width="1" height="3" fill="#D8BFD8"/>
<rect x="363" y="205" width="1" height="3" fill="#D8BFD8"/>
<rect x="363" y="199" width="1" height="3" fill="#D8BFD8"/>
<rect x="363" y="193" width="1" height="3" fill="#D8BFD8"/>
<rect x="363" y="187" width="1" height="3" fill="#D8BFD8"/>
<rect x="363" y="181" width="1" height="3" fill="#D8BFD8"/>
<rect x="363" y="175" width="1" height="3" fill="#D8BFD8"/>
<rect x="367" y="242" width="1" height="3" fill="#D8BFD8"/>
<rect x="367" y="236" width="1" height="3" fill="#D8BFD8"/>
<rect x="367" y="230" width="1" height="3" fill="#D8BFD8"/>
<rect x="367" y="224" width="1" height="3" fill="#D8BFD8"/>
<rect x="367" y="218" width="1" height="3" fill="#D8BFD8"/>
<rect x="367" y="212" width="1" height="3" fill="#D8BFD8"/>
<rect x="367" y="206" width="1" height="3" fill="#D8BFD8"/>
<rect x="367" y="200" width="1" height="3" fill="#D8BFD8"/>
<rect x="367" y="194" width="1" height="3" fill="#D8BFD8"/>
<rect x="367" y="188" width="1" height="3" fill="#D8BFD8"/>
<rect x="367" y="182" width="1" height="3" fill="#D8BFD8"/>
<rect x="367" y="176" width="1" height="3" fill="#D8BFD8"/>
<rect x="371" y="242" width="1" height="3" fill="#D8BFD8"/>
<rect x="371" y="236" width="1" height="3" fill="#D8BFD8"/>
<rect x="371" y="230" width="1" height="3" fill="#D8BFD8"/>
<rect x="371" y="224" width="1" height="3" fill="#D8BFD8"/>
<rect x="371" y="218" width="1" height="3" fill="#D8BFD8"/>
<rect x="371" y="212" width="1" height="3" fill="#D8BFD8"/>
<rect x="371" y="206" width="1" height="3" fill="#D8BFD8"/>
<rect x="371" y="200" width="1" height="3" fill="#D8BFD8"/>
<rect x="371" y="194" width="1" height="3" fill="#D8BFD8"/>
<rect x="371" y="188" width="1" height="3" fill="#D8BFD8"/>
<rect x="371" y="182" width="1" height="3" fill="#D8BFD8"/>
<rect x="371" y="176" width="1" height="3" fill="#D8BFD8"/>
<rect x="375" y="243" width="1" height="3" fill="#D8BFD8"/>
<rect x="375" y="237" width="1" height="3" fill="#D8BFD8"/>
<rect x="375" y="231" width="1" height="3" fill="#D8BFD8"/>
<rect x="375" y="225" width="1" height="3" fill="#D8BFD8"/>
<rect x="375" y="219" width="1" height="3" fill="#D8BFD8"/>
<rect x="375" y="213" width="1" height="3" fill="#D8BFD8"/>
<rect x="375" y="207" width="1" height="3" fill="#D8BFD8"/>
<rect x="375" y="201" width="1" height="3" fill="#D8BFD8"/>
<rect x="375" y="195" width="1" height="3" fill="#D8BFD8"/>
<rect x="375" y="189" width="1" height="3" fill="#D8BFD8"/>
<rect x="375" y="183" width="1" height="3" fill="#D8BFD8"/>
<rect x="375" y="177" width="1" height="3" fill="#D8BFD8"/>
<rect x="379" y="250" width="1" height="3" fill="#D8BFD8"/>
<rect x="379" y="244" width="1" height="3" fill="#D8BFD8"/>
<rect x="379" y="238" width="1" height="3" fill="#D8BFD8"/>
<rect x="379" y="232" width="1" height="3" fill="#D8BFD8"/>
<rect x="379" y="226" width="1" height="3" fill="#D8BFD8"/>
<rect x="379" y="220" width="1" height="3" fill="#D8BFD8"/>
<rect x="379" y="214" width="1" height="3" fill="#D8BFD8"/>
<rect x="379" y="208" width="1" height="3" fill="#D8BFD8"/>
<rect x="379" y="202" width="1" height="3" fill="#D8BFD8"/>
<rect x="379" y="196" width="1" height="3" fill="#D8BFD8"/>
<rect x="379" y="190" width="1" height="3" fill="#D8BFD8"/>
<rect x="379" y="184" width="1" height="3" fill="#D8BFD8"/>
<rect x="379" y="178" width="1" height="3" fill="#D8BFD8"/>
<rect x="383" y="258" width="1" height="3" fill="#D8BFD8"/>
<rect x="383" y="252" width="1" height="3" fill="#D8BFD8"/>
<rect x="383" y="246" width="1" height="3" fill="#D8BFD8"/>
<rect x="383" y="240" width="1" height="3" fill="#D8BFD8"/>
<rect x="383" y="234" width="1" height="3" fill="#D8BFD8"/>
<rect x="383" y="228" width="1" height="3" fill="#D8BFD8"/>
<rect x="383" y="222" width="1" height="3" fill="#D8BFD8"/>
<rect x="383" y="216" width="1" height="3" fill="#D8BFD8"/>
<rect x="383" y="210" width="1" height="3" fill="#D8BFD8"/>
<rect x="383" y="204" width="1" height="3" fill="#D8BFD8"/>
<rect x="383" y="198" width="1" height="3" fill="#D8BFD8"/>
<rect x="383" y="192" width="1" height="3" fill="#D8BFD8"/>
<rect x="383" y="186" width="1" height="3" fill="#D8BFD8"/>
<rect x="383" y="180" width="1" height="3" fill="#D8BFD8"/>
<rect x="387" y="269" width="1" height="3" fill="#D8BFD8"/>
<rect x="387" y="263" width="1" height="3" fill="#D8BFD8"/>
<rect x="387" y="257" width="1" height="3" fill="#D8BFD8"/>
<rect x="387" y="251" width="1" height="3" fill="#D8BFD8"/>
<rect x="387" y="245" width="1" height="3" fill="#D8BFD8"/>
<rect x="387" y="239" width="1" height="3" fill="#D8BFD8"/>
<rect x="387" y="233" width="1" height="3" fill="#D8BFD8"/>
<rect x="387" y="227" width="1" height="3" fill="#D8BFD8"/>
<rect x="387" y="221" width="1" height="3" fill="#D8BFD8"/>
<rect x="387" y="215" width="1" height="3" fill="#D8BFD8"/>
<rect x="387" y="209" width="1" height="3" fill="#D8BFD8"/>
<rect x="387" y="203" width="1" height="3" fill="#D8BFD8"/>
<rect x="387" y="197" width="1" height="3" fill="#D8BFD8"/>
<rect x="387" y="191" width="1" height="3" fill="#D8BFD8"/>
<rect x="387" y="185" width="1" height="3" fill="#D8BFD8"/>
<rect x="387" y="179" width="1" height="3" fill="#D8BFD8"/>
<rect x="391" y="255" width="1" height="3" fill="#D8BFD8"/>
<rect x="391" y="249" width="1" height="3" fill="#D8BFD8"/>
<rect x="391" y="243" width="1" height="3" fill="#D8BFD8"/>
<rect x="391" y="237" width="1" height="3" fill="#D8BFD8"/>
<rect x="391" y="231" width="1" height="3" fill="#D8BFD8"/>
<rect x="391" y="225" width="1" height="3" fill="#D8BFD8"/>
<rect x="391" y="219" width="1" height="3" fill="#D8BFD8"/>
<rect x="391" y="213" width="1" height="3" fill="#D8BFD8"/>
<rect x="391" y="207" width="1" height="3" fill="#D8BFD8"/>
<rect x="391" y="201" width="1" height="3" fill="#D8BFD8"/>
<rect x="391" y="195" width="1" height="3" fill="#D8BFD8"/>
<rect x="391" y="189" width="1" height="3" fill="#D8BFD8"/>
<rect x="391" y="183" width="1" height="3" fill="#D8BFD8"/>
<rect x="391" y="178" width="1" height="2" fill="#D8BFD8"/>
<rect x="395" y="253" width="1" height="3" fill="#D8BFD8"/>
<rect x="395" y="247" width="1" height="3" fill="#D8BFD8"/>
<rect x="395" y="241" width="1" height="3" fill="#D8BFD8"/>
<rect x="395" y="235" width="1" height="3" fill="#D8BFD8"/>
<rect x="395" y="229" width="1" height="3" fill="#D8BFD8"/>
<rect x="395" y="223" width="1" height="3" fill="#D8BFD8"/>
<rect x="395" y="217" width="1" height="3" fill="#D8BFD8"/>
<rect x="395" y="211" width="1" height="3" fill="#D8BFD8"/>
<rect x="395" y="205" width="1" height="3" fill="#D8BFD8"/>
<rect x="395" y="199" width="1" height="3" fill="#D8BFD8"/>
<rect x="395" y="193" width="1" height="3" fill="#D8BFD8"/>
<rect x="395" y="187" width="1" height="3" fill="#D8BFD8"/>
<rect x="395" y="181" width="1" height="3" fill="#D8BFD8"/>
<rect x="399" y="253" width="1" height="3" fill="#D8BFD8"/>
<rect x="399" y="247" width="1" height="3" fill="#D8BFD8"/>
<rect x="399" y="241" width="1" height="3" fill="#D8BFD8"/>
<rect x="399" y="235" width="1" height="3" fill="#D8BFD8"/>
<rect x="399" y="229" width="1" height="3" fill="#D8BFD8"/>
<rect x="399" y="223" width="1" height="3" fill="#D8BFD8"/>
<rect x="399" y="217" width="1" height="3" fill="#D8BFD8"/>
<rect x="399" y="211" width="1" height="3" fill="#D8BFD8"/>
<rect x="399" y="205" width="1" height="3" fill="#D8BFD8"/>
<rect x="399" y="199" width="1" height="3" fill="#D8BFD8"/>
<rect x="399" y="193" width="1" height="3" fill="#D8BFD8"/>
<rect x="399" y="187" width="1" height="3" fill="#D8BFD8"/>
<rect x="399" y="181" width="1" height="3" fill="#D8BFD8"/>
<rect x="403" y="259" width="1" height="3" fill="#D8BFD8"/>
<rect x="403" y="253" width="1" height="3" fill="#D8BFD8"/>
<rect x="403" y="247" width="1" height="3" fill="#D8BFD8"/>
<rect x="403" y="241" width="1" height="3" fill="#D8BFD8"/>
<rect x="403" y="235" width="1" height="3" fill="#D8BFD8"/>
<rect x="403" y="229" width="1" height="3" fill="#D8BFD8"/>
<rect x="403" y="223" width="1" height="3" fill="#D8BFD8"/>
<rect x="403" y="217" width="1" height="3" fill="#D8BFD8"/>
<rect x="403" y="211" width="1" height="3" fill="#D8BFD8"/>
<rect x="403" y="205" width="1" height="3" fill="#D8BFD8"/>
<rect x="403" y="199" width="1" height="3" fill="#D8BFD8"/>
<rect x="403" y="193" width="1" height="3" fill="#D8BFD8"/>
<rect x="403" y="187" width="1" height="3" fill="#D8BFD8"/>
<rect x="403" y="181" width="1" height="3" fill="#D8BFD8"/>
<rect x="407" y="260" width="1" height="3" fill="#D8BFD8"/>
<rect x="407" y="254" width="1" height="3" fill="#D8BFD8"/>
<rect x="407" y="248" width="1" height="3" fill="#D8BFD8"/>
<rect x="407" y="242" width="1" height="3" fill="#D8BFD8"/>
<rect x="407" y="236" width="1" height="3" fill="#D8BFD8"/>
<rect x="407" y="230" width="1" height="3" fill="#D8BFD8"/>
<rect x="407" y="224" width="1" height="3" fill="#D8BFD8"/>
<rect x="407" y="218" width="1" height="3" fill="#D8BFD8"/>
<rect x="407" y="212" width="1" height="3" fill="#D8BFD8"/>
<rect x="407" y="206" width="1" height="3" fill="#D8BFD8"/>
<rect x="407" y="200" width="1" height="3" fill="#D8BFD8"/>
<rect x="407" y="194" width="1" height="3" fill="#D8BFD8"/>
<rect x="407" y="188" width="1" height="3" fill="#D8BFD8"/>
<rect x="407" y="182" width="1" height="3" fill="#D8BFD8"/>
<rect x="411" y="260" width="1" height="3" fill="#D8BFD8"/>
<rect x="411" y="254" width="1" height="3" fill="#D8BFD8"/>
<rect x="411" y="248" width="1" height="3" fill="#D8BFD8"/>
<rect x="411" y="242" width="1" height="3" fill="#D8BFD8"/>
<rect x="411" y="236" width="1" height="3" fill="#D8BFD8"/>
<rect x="411" y="230" width="1" height="3" fill="#D8BFD8"/>
<rect x="411" y="224" width="1" height="3" fill="#D8BFD8"/>
<rect x="411" y="218" width="1" height="3" fill="#D8BFD8"/>
<rect x="411" y="212" width="1" height="3" fill="#D8BFD8"/>
<rect x="411" y="206" width="1" height="3" fill="#D8BFD8"/>
<rect x="411" y="200" width="1" height="3" fill="#D8BFD8"/>
<rect x="411" y="194" width="1" height="3" fill="#D8BFD8"/>
<rect x="411" y="188" width="1" height="3" fill="#D8BFD8"/>
<rect x="411" y="182" width="1" height="3" fill="#D8BFD8"/>
<rect x="415" y="260" width="1" height="3" fill="#D8BFD8"/>
<rect x="415" y="254" width="1" height="3" fill="#D8BFD8"/>
<rect x="415" y="248" width="1" height="3" fill="#D8BFD8"/>
<rect x="415" y="242" width="1" height="3" fill="#D8BFD8"/>
<rect x="415" y="236" width="1" height="3" fill="#D8BFD8"/>
<rect x="415" y="230" width="1" height="3" fill="#D8BFD8"/>
<rect x="415" y="224" width="1" height="3" fill="#D8BFD8"/>
<rect x="415" y="218" width="1" height="3" fill="#D8BFD8"/>
<rect x="415" y="212" width="1" height="3" fill="#D8BFD8"/>
<rect x="415" y="206" width="1" height="3" fill="#D8BFD8"/>
<rect x="415" y="200" width="1" height="3" fill="#D8BFD8"/>
<rect x="415" y="194" width="1" height="3" fill="#D8BFD8"/>
<rect x="415" y="188" width="1" height="3" fill="#D8BFD8"/>
<rect x="415" y="182" width="1" height="3" fill="#D8BFD8"/>
<rect x="419" y="260" width="1" height="3" fill="#D8BFD8"/>
<rect x="419" y="254" width="1" height="3" fill="#D8BFD8"/>
<rect x="419" y="248" width="1" height="3" fill="#D8BFD8"/>
<rect x="419" y="242" width="1" height="3" fill="#D8BFD8"/>
<rect x="419" y="236" width="1" height="3" fill="#D8BFD8"/>
<rect x="419" y="230" width="1" height="3" fill="#D8BFD8"/>
<rect x="419" y="224" width="1" height="3" fill="#D8BFD8"/>
<rect x="419" y="218" width="1" height="3" fill="#D8BFD8"/>
<rect x="419" y="212" width="1" height="3" fill="#D8BFD8"/>
<rect x="419" y="206" width="1" height="3" fill="#D8BFD8"/>
<rect x="419" y="200" width="1" height="3" fill="#D8BFD8"/>
<rect x="419" y="194" width="1" height="3" fill="#D8BFD8"/>
<rect x="419" y="188" width="1" height="3" fill="#D8BFD8"/>
<rect x="419" y="182" width="1" height="3" fill="#D8BFD8"/>
<rect x="423" y="260" width="1" height="3" fill="#D8BFD8"/>
<rect x="423" y="254" width="1" height="3" fill="#D8BFD8"/>
<rect x="423" y="248" width="1" height="3" fill="#D8BFD8"/>
<rect x="423" y="242" width="1" height="3" fill="#D8BFD8"/>
<rect x="423" y="236" width="1" height="3" fill="#D8BFD8"/>
<rect x="423" y="230" width="1" height="3" fill="#D8BFD8"/>
<rect x="423" y="224" width="1" height="3" fill="#D8BFD8"/>
<rect x="423" y="218" width="1" height="3" fill="#D8BFD8"/>
<rect x="423" y="212" width="1" height="3" fill="#D8BFD8"/>
<rect x="423" y="206" width="1" height="3" fill="#D8BFD8"/>
<rect x="423" y="200" width="1" height="3" fill="#D8BFD8"/>
<rect x="423" y="194" width="1" height="3" fill="#D8BFD8"/>
<rect x="423" y="188" width="1" height="3" fill="#D8BFD8"/>
<rect x="423" y="182" width="1" height="3" fill="#D8BFD8"/>
<rect x="427" y="260" width="1" height="3" fill="#D8BFD8"/>
<rect x="427" y="254" width="1" height="3" fill="#D8BFD8"/>
<rect x="427" y="248" width="1" height="3" fill="#D8BFD8"/>
<rect x="427" y="242" width="1" height="3" fill="#D8BFD8"/>
<rect x="427" y="236" width="1" height="3" fill="#D8BFD8"/>
<rect x="427" y="230" width="1" height="3" fill="#D8BFD8"/>
<rect x="427" y="224" width="1" height="3" fill="#D8BFD8"/>
<rect x="427" y="218" width="1" height="3" fill="#D8BFD8"/>
<rect x="427" y="212" width="1" height="3" fill="#D8BFD8"/>
<rect x="427" y="206" width="1" height="3" fill="#D8BFD8"/>
<rect x="427" y="200" width="1" height="3" fill="#D8BFD8"/>
<rect x="427" y="194" width="1" height="3" fill="#D8BFD8"/>
<rect x="427" y="188" width="1" height="3" fill="#D8BFD8"/>
<rect x="427" y="182" width="1" height="3" fill="#D8BFD8"/>
<rect x="431" y="255" width="1" height="3" fill="#D8BFD8"/>
<rect x="431" y="249" width="1" height="3" fill="#D8BFD8"/>
<rect x="431" y="243" width="1" height="3" fill="#D8BFD8"/>
<rect x="431" y="237" width="1" height="3" fill="#D8BFD8"/>
<rect x="431" y="231" width="1" height="3" fill="#D8BFD8"/>
<rect x="431" y="225" width="1" height="3" fill="#D8BFD8"/>
<rect x="431" y="219" width="1" height="3" fill="#D8BFD8"/>
<rect x="431" y="213" width="1" height="3" fill="#D8BFD8"/>
<rect x="431" y="207" width="1" height="3" fill="#D8BFD8"/>
<rect x="431" y="201" width="1" height="3" fill="#D8BFD8"/>
<rect x="431" y="195" width="1" height="3" fill="#D8BFD8"/>
<rect x="431" y="189" width="1" height="3" fill="#D8BFD8"/>
<rect x="431" y="183" width="1" height="3" fill="#D8BFD8"/>
<rect x="431" y="178" width="1" height="2" fill="#D8BFD8"/>
<rect x="435" y="255" width="1" height="3" fill="#D8BFD8"/>
<rect x="435" y="249" width="1" height="3" fill="#D8BFD8"/>
<rect x="435" y="243" width="1" height="3" fill="#D8BFD8"/>
<rect x="435" y="237" width="1" height="3" fill="#D8BFD8"/>
<rect x="435" y="231" width="1" height="3" fill="#D8BFD8"/>
<rect x="435" y="225" width="1" height="3" fill="#D8BFD8"/>
<rect x="435" y="219" width="1" height="3" fill="#D8BFD8"/>
<rect x="435" y="213" width="1" height="3" fill="#D8BFD8"/>
<rect x="435" y="207" width="1" height="3" fill="#D8BFD8"/>
<rect x="435" y="201" width="1" height="3" fill="#D8BFD8"/>
<rect x="435" y="195" width="1" height="3" fill="#D8BFD8"/>
<rect x="435" y="189" width="1" height="3" fill="#D8BFD8"/>
<rect x="435" y="183" width="1" height="3" fill="#D8BFD8"/>
<rect x="435" y="178" width="1" height="2" fill="#D8BFD8"/>
<rect x="439" y="255" width="1" height="3" fill="#D8BFD8"/>
<rect x="439" y="249" width="1" height="3" fill="#D8BFD8"/>
<rect x="439" y="243" width="1" height="3" fill="#D8BFD8"/>
<rect x="439" y="237" width="1" height="3" fill="#D8BFD8"/>
<rect x="439" y="231" width="1" height="3" fill="#D8BFD8"/>
<rect x="439" y="225" width="1" height="3" fill="#D8BFD8"/>
<rect x="439" y="219" width="1" height="3" fill="#D8BFD8"/>
<rect x="439" y="213" width="1" height="3" fill="#D8BFD8"/>
<rect x="439" y="207" width="1" height="3" fill="#D8BFD8"/>
<rect x="439" y="201" width="1" height="3" fill="#D8BFD8"/>
<rect x="439" y="195" width="1" height="3" fill="#D8BFD8"/>
<rect x="439" y="189" width="1" height="3" fill="#D8BFD8"/>
<rect x="439" y="183" width="1" height="3" fill="#D8BFD8"/>
<rect x="439" y="178" width="1" height="2" fill="#D8BFD8"/>
<rect x="443" y="260" width="1" height="3" fill="#D8BFD8"/>
<rect x="443" y="254" width="1" height="3" fill="#D8BFD8"/>
<rect x="443" y="248" width="1" height="3" fill="#D8BFD8"/>
<rect x="443" y="242" width="1" height="3" fill="#D8BFD8"/>
<rect x="443" y="236" width="1" height="3" fill="#D8BFD8"/>
<rect x="443" y="230" width="1" height="3" fill="#D8BFD8"/>
<rect x="443" y="224" width="1" height="3" fill="#D8BFD8"/>
<rect x="443" y="218" width="1" height="3" fill="#D8BFD8"/>
<rect x="443" y="212" width="1" height="3" fill="#D8BFD8"/>
<rect x="443" y="206" width="1" height="3" fill="#D8BFD8"/>
<rect x="443" y="200" width="1" height="3" fill="#D8BFD8"/>
<rect x="443" y="194" width="1" height="3" fill="#D8BFD8"/>
<rect x="443" y="188" width="1" height="3" fill="#D8BFD8"/>
<rect x="443" y="182" width="1" height="3" fill="#D8BFD8"/>
<rect x="447" y="262" width="1" height="3" fill="#D8BFD8"/>
<rect x="447" y="256" width="1" height="3" fill="#D8BFD8"/>
<rect x="447" y="250" width="1" height="3" fill="#D8BFD8"/>
<rect x="447" y="244" width="1" height="3" fill="#D8BFD8"/>
<rect x="447" y="238" width="1" height="3" fill="#D8BFD8"/>
<rect x="447" y="232" width="1" height="3" fill="#D8BFD8"/>
<rect x="447" y="226" width="1" height="3" fill="#D8BFD8"/>
<rect x="447" y="220" width="1" height="3" fill="#D8BFD8"/>
<rect x="447" y="214" width="1" height="3" fill="#D8BFD8"/>
<rect x="447" y="208" width="1" height="3" fill="#D8BFD8"/>
<rect x="447" y="202" width="1" height="3" fill="#D8BFD8"/>
<rect x="447" y="196" width="1" height="3" fill="#D8BFD8"/>
<rect x="447" y="190" width="1" height="3" fill="#D8BFD8"/>
<rect x="447" y="184" width="1" height="3" fill="#D8BFD8"/>
<rect x="447" y="178" width="1" height="3" fill="#D8BFD8"/>
<rect x="451" y="268" width="1" height="3" fill="#D8BFD8"/>
<rect x="451" y="262" width="1" height="3" fill="#D8BFD8"/>
<rect x="451" y="256" width="1" height="3" fill="#D8BFD8"/>
<rect x="451" y="250" width="1" height="3" fill="#D8BFD8"/>
<rect x="451" y="244" width="1" height="3" fill="#D8BFD8"/>
<rect x="451" y="238" width="1" height="3" fill="#D8BFD8"/>
<rect x="451" y="232" width="1" height="3" fill="#D8BFD8"/>
<rect x="451" y="226" width="1" height="3" fill="#D8BFD8"/>
<rect x="451" y="220" width="1" height="3" fill="#D8BFD8"/>
<rect x="451" y="214" width="1" height="3" fill="#D8BFD8"/>
<rect x="451" y="208" width="1" height="3" fill="#D8BFD8"/>
<rect x="451" y="202" width="1" height="3" fill="#D8BFD8"/>
<rect x="451" y="196" width="1" height="3" fill="#D8BFD8"/>
<rect x="451" y="190" width="1" height="3" fill="#D8BFD8"/>
<rect x="451" y="184" width="1" height="3" fill="#D8BFD8"/>
<rect x="451" y="178" width="1" height="3" fill="#D8BFD8"/>
<rect x="455" y="266" width="1" height="3" fill="#D8BFD8"/>
<rect x="455" y="260" width="1" height="3" fill="#D8BFD8"/>
<rect x="455" y="254" width="1" height="3" fill="#D8BFD8"/>
<rect x="455" y="248" width="1" height="3" fill="#D8BFD8"/>
<rect x="455" y="242" width="1" height="3" fill="#D8BFD8"/>
<rect x="455" y="236" width="1" height="3" fill="#D8BFD8"/>
<rect x="455" y="230" width="1" height="3" fill="#D8BFD8"/>
<rect x="455" y="224" width="1" height="3" fill="#D8BFD8"/>
<rect x="455" y="218" width="1" height="3" fill="#D8BFD8"/>
<rect x="455" y="212" width="1" height="3" fill="#D8BFD8"/>
<rect x="455" y="206" width="1" height="3" fill="#D8BFD8"/>
<rect x="455" y="200" width="1" height="3" fill="#D8BFD8"/>
<rect x="455" y="194" width="1" height="3" fill="#D8BFD8"/>
<rect x="455" y="188" width="1" height="3" fill="#D8BFD8"/>
<rect x="455" y="182" width="1" height="3" fill="#D8BFD8"/>
<rect x="459" y="265" width="1" height="3" fill="#D8BFD8"/>
<rect x="459" y="259" width="1" height="3" fill="#D8BFD8"/>
<rect x="459" y="253" width="1" height="3" fill="#D8BFD8"/>
<rect x="459" y="247" width="1" height="3" fill="#D8BFD8"/>
<rect x="459" y="241" width="1" height="3" fill="#D8BFD8"/>
<rect x="459" y="235" width="1" height="3" fill="#D8BFD8"/>
<rect x="459" y="229" width="1" height="3" fill="#D8BFD8"/>
<rect x="459" y="223" width="1" height="3" fill="#D8BFD8"/>
<rect x="459" y="217" width="1" height="3" fill="#D8BFD8"/>
<rect x="459" y="211" width="1" height="3" fill="#D8BFD8"/>
<rect x="459" y="205" width="1" height="3" fill="#D8BFD8"/>
<rect x="459" y="199" width="1" height="3" fill="#D8BFD8"/>
<rect x="459" y="193" width="1" height="3" fill="#D8BFD8"/>
<rect x="459" y="187" width="1" height="3" fill="#D8BFD8"/>
<rect x="459" y="181" width="1" height="3" fill="#D8BFD8"/>
<rect x="463" y="265" width="1" height="3" fill="#D8BFD8"/>
<rect x="463" y="259" width="1" height="3" fill="#D8BFD8"/>
<rect x="463" y="253" width="1" height="3" fill="#D8BFD8"/>
<rect x="463" y="247" width="1" height="3" fill="#D8BFD8"/>
<rect x="463" y="241" width="1" height="3" fill="#D8BFD8"/>
<rect x="463" y="235" width="1" height="3" fill="#D8BFD8"/>
<rect x="463" y="229" width="1" height="3" fill="#D8BFD8"/>
<rect x="463" y="223" width="1" height="3" fill="#D8BFD8"/>
<rect x="463" y="217" width="1" height="3" fill="#D8BFD8"/>
<rect x="463" y="211" width="1" height="3" fill="#D8BFD8"/>
<rect x="463" y="205" width="1" height="3" fill="#D8BFD8"/>
<rect x="463" y="199" width="1" height="3" fill="#D8BFD8"/>
<rect x="463" y="193" width="1" height="3" fill="#D8BFD8"/>
<rect x="463" y="187" width="1" height="3" fill="#D8BFD8"/>
<rect x="463" y="181" width="1" height="3" fill="#D8BFD8"/>
<rect x="467" y="261" width="1" height="3" fill="#D8BFD8"/>
<rect x="467" y="255" width="1" height="3" fill="#D8BFD8"/>
<rect x="467" y="249" width="1" height="3" fill="#D8BFD8"/>
<rect x="467" y="243" width="1" height="3" fill="#D8BFD8"/>
<rect x="467" y="237" width="1" height="3" fill="#D8BFD8"/>
<rect x="467" y="231" width="1" height="3" fill="#D8BFD8"/>
<rect x="467" y="225" width="1" height="3" fill="#D8BFD8"/>
<rect x="467" y="219" width="1" height="3" fill="#D8BFD8"/>
<rect x="467" y="213" width="1" height="3" fill="#D8BFD8"/>
<rect x="467" y="207" width="1" height="3" fill="#D8BFD8"/>
<rect x="467" y="201" width="1" height="3" fill="#D8BFD8"/>
<rect x="467" y="195" width="1" height="3" fill="#D8BFD8"/>
<rect x="467" y="189" width="1" height="3" fill="#D8BFD8"/>
<rect x="467" y="183" width="1" height="3" fill="#D8BFD8"/>
<rect x="467" y="178" width="1" height="2" fill="#D8BFD8"/>
<rect x="471" y="261" width="1" height="3" fill="#D8BFD8"/>
<rect x="471" y="255" width="1" height="3" fill="#D8BFD8"/>
<rect x="471" y="249" width="1" height="3" fill="#D8BFD8"/>
<rect x="471" y="243" width="1" height="3" fill="#D8BFD8"/>
<rect x="471" y="237" width="1" height="3" fill="#D8BFD8"/>
<rect x="471" y="231" width="1" height="3" fill="#D8BFD8"/>
<rect x="471" y="225" width="1" height="3" fill="#D8BFD8"/>
<rect x="471" y="219" width="1" height="3" fill="#D8BFD8"/>
<rect x="471" y="213" width="1" height="3" fill="#D8BFD8"/>
<rect x="471" y="207" width="1" height="3" fill="#D8BFD8"/>
<rect x="471" y="201" width="1" height="3" fill="#D8BFD8"/>
<rect x="471" y="195" width="1" height="3" fill="#D8BFD8"/>
<rect x="471" y="189" width="1" height="3" fill="#D8BFD8"/>
<rect x="471" y="183" width="1" height="3" fill="#D8BFD8"/>
<rect x="471" y="178" width="1" height="2" fill="#D8BFD8"/>
<rect x="475" y="261" width="1" height="3" fill="#D8BFD8"/>
<rect x="475" y="255" width="1" height="3" fill="#D8BFD8"/>
<rect x="475" y="249" width="1" height="3" fill="#D8BFD8"/>
<rect x="475" y="243" width="1" height="3" fill="#D8BFD8"/>
<rect x="475" y="237" width="1" height="3" fill="#D8BFD8"/>
<rect x="475" y="231" width="1" height="3" fill="#D8BFD8"/>
<rect x="475" y="225" width="1" height="3" fill="#D8BFD8"/>
<rect x="475" y="219" width="1" height="3" fill="#D8BFD8"/>
<rect x="475" y="213" width="1" height="3" fill="#D8BFD8"/>
<rect x="475" y="207" width="1" height="3" fill="#D8BFD8"/>
<rect x="475" y="201" width="1" height="3" fill="#D8BFD8"/>
<rect x="475" y="195" width="1" height="3" fill="#D8BFD8"/>
<rect x="475" y="189" width="1" height="3" fill="#D8BFD8"/>
<rect x="475" y="183" width="1" height="3" fill="#D8BFD8"/>
<rect x="475" y="178" width="1" height="2" fill="#D8BFD8"/>
<rect x="479" y="257" width="1" height="3" fill="#D8BFD8"/>
<rect x="479" y="251" width="1" height="3" fill="#D8BFD8"/>
<rect x="479" y="245" width="1" height="3" fill="#D8BFD8"/>
<rect x="479" y="239" width="1" height="3" fill="#D8BFD8"/>
<rect x="479" y="233" width="1" height="3" fill="#D8BFD8"/>
<rect x="479" y="227" width="1" height="3" fill="#D8BFD8"/>
<rect x="479" y="221" width="1" height="3" fill="#D8BFD8"/>
<rect x="479" y="215" width="1" height="3" fill="#D8BFD8"/>
<rect x="479" y="209" width="1" height="3" fill="#D8BFD8"/>
<rect x="479" y="203" width="1" height="3" fill="#D8BFD8"/>
<rect x="479" y="197" width="1" height="3" fill="#D8BFD8"/>
<rect x="479" y="191" width="1" height="3" fill="#D8BFD8"/>
<rect x="479" y="185" width="1" height="3" fill="#D8BFD8"/>
<rect x="479" y="179" width="1" height="3" fill="#D8BFD8"/>
<rect x="483" y="258" width="1" height="3" fill="#D8BFD8"/>
<rect x="483" y="252" width="1" height="3" fill="#D8BFD8"/>
<rect x="483" y="246" width="1" height="3" fill="#D8BFD8"/>
<rect x="483" y="240" width="1" height="3" fill="#D8BFD8"/>
<rect x="483" y="234" width="1" height="3" fill="#D8BFD8"/>
<rect x="483" y="228" width="1" height="3" fill="#D8BFD8"/>
<rect x="483" y="222" width="1" height="3" fill="#D8BFD8"/>
<rect x="483" y="216" width="1" height="3" fill="#D8BFD8"/>
<rect x="483" y="210" width="1" height="3" fill="#D8BFD8"/>
<rect x="483" y="204" width="1" height="3" fill="#D8BFD8"/>
<rect x="483" y="198" width="1" height="3" fill="#D8BFD8"/>
<rect x="483" y="192" width="1" height="3" fill="#D8BFD8"/>
<rect x="483" y="186" width="1" height="3" fill="#D8BFD8"/>
<rect x="483" y="180" width="1" height="3" fill="#D8BFD8"/>
<rect x="487" y="265" width="1" height="3" fill="#D8BFD8"/>
<rect x="487" y="259" width="1" height="3" fill="#D8BFD8"/>
<rect x="487" y="253" width="1" height="3" fill="#D8BFD8"/>
<rect x="487" y="247" width="1" height="3" fill="#D8BFD8"/>
<rect x="487" y="241" width="1" height="3" fill="#D8BFD8"/>
<rect x="487" y="235" width="1" height="3" fill="#D8BFD8"/>
<rect x="487" y="229" width="1" height="3" fill="#D8BFD8"/>
<rect x="487" y="223" width="1" height="3" fill="#D8BFD8"/>
<rect x="487" y="217" width="1" height="3" fill="#D8BFD8"/>
<rect x="487" y="211" width="1" height="3" fill="#D8BFD8"/>
<rect x="487" y="205" width="1" height="3" fill="#D8BFD8"/>
<rect x="487" y="199" width="1" height="3" fill="#D8BFD8"/>
<rect x="487" y="193" width="1" height="3" fill="#D8BFD8"/>
<rect x="487" y="187" width="1" height="3" fill="#D8BFD8"/>
<rect x="487" y="181" width="1" height="3" fill="#D8BFD8"/>
<rect x="491" y="272" width="1" height="3" fill="#D8BFD8"/>
<rect x="491" y="266" width="1" height="3" fill="#D8BFD8"/>
<rect x="491" y="260" width="1" height="3" fill="#D8BFD8"/>
<rect x="491" y="254" width="1" height="3" fill="#D8BFD8"/>
<rect x="491" y="248" width="1" height="3" fill="#D8BFD8"/>
<rect x="491" y="242" width="1" height="3" fill="#D8BFD8"/>
<rect x="491" y="236" width="1" height="3" fill="#D8BFD8"/>
<rect x="491" y="230" width="1" height="3" fill="#D8BFD8"/>
<rect x="491" y="224" width="1" height="3" fill="#D8BFD8"/>
<rect x="491" y="218" width="1" height="3" fill="#D8BFD8"/>
<rect x="491" y="212" width="1" height="3" fill="#D8BFD8"/>
<rect x="491" y="206" width="1" height="3" fill="#D8BFD8"/>
<rect x="491" y="200" width="1" height="3" fill="#D8BFD8"/>
<rect x="491" y="194" width="1" height="3" fill="#D8BFD8"/>
<rect x="491" y="188" width="1" height="3" fill="#D8BFD8"/>
<rect x="491" y="182" width="1" height="3" fill="#D8BFD8"/>
<rect x="495" y="275" width="1" height="3" fill="#D8BFD8"/>
<rect x="495" y="269" width="1" height="3" fill="#D8BFD8"/>
<rect x="495" y="263" width="1" height="3" fill="#D8BFD8"/>
<rect x="495" y="257" width="1" height="3" fill="#D8BFD8"/>
<rect x="495" y="251" width="1" height="3" fill="#D8BFD8"/>
<rect x="495" y="245" width="1" height="3" fill="#D8BFD8"/>
<rect x="495" y="239" width="1" height="3" fill="#D8BFD8"/>
<rect x="495" y="233" width="1" height="3" fill="#D8BFD8"/>
<rect x="495" y="227" width="1" height="3" fill="#D8BFD8"/>
<rect x="495" y="221" width="1" height="3" fill="#D8BFD8"/>
<rect x="495" y="215" width="1" height="3" fill="#D8BFD8"/>
<rect x="495" y="209" width="1" height="3" fill="#D8BFD8"/>
<rect x="495" y="203" width="1" height="3" fill="#D8BFD8"/>
<rect x="495" y="197" width="1" height="3" fill="#D8BFD8"/>
<rect x="495" y="191" width="1" height="3" fill="#D8BFD8"/>
<rect x="495" y="185" width="1" height="3" fill="#D8BFD8"/>
<rect x="495" y="179" width="1" height="3" fill="#D8BFD8"/>
<rect x="499" y="286" width="1" height="3" fill="#D8BFD8"/>
<rect x="499" y="280" width="1" height="3" fill="#D8BFD8"/>
<rect x="499" y="274" width="1" height="3" fill="#D8BFD8"/>
<rect x="499" y="268" width="1" height="3" fill="#D8BFD8"/>
<rect x="499" y="262" width="1" height="3" fill="#D8BFD8"/>
<rect x="499" y="256" width="1" height="3" fill="#D8BFD8"/>
<rect x="499" y="250" width="1" height="3" fill="#D8BFD8"/>
<rect x="499" y="244" width="1" height="3" fill="#D8BFD8"/>
<rect x="499" y="238" width="1" height="3" fill="#D8BFD8"/>
<rect x="499" y="232" width="1" height="3" fill="#D8BFD8"/>
<rect x="499" y="226" width="1" height="3" fill="#D8BFD8"/>
<rect x="499" y="220" width="1" height="3" fill="#D8BFD8"/>
<rect x="499" y="214" width="1" height="3" fill="#D8BFD8"/>
<rect x="499" y="208" width="1" height="3" fill="#D8BFD8"/>
<rect x="499" y="202" width="1" height="3" fill="#D8BFD8"/>
<rect x="499" y="196" width="1" height="3" fill="#D8BFD8"/>
<rect x="499" y="190" width="1" height="3" fill="#D8BFD8"/>
<rect x="499" y="184" width="1" height="3" fill="#D8BFD8"/>
<rect x="503" y="288" width="1" height="3" fill="#D8BFD8"/>
<rect x="503" y="282" width="1" height="3" fill="#D8BFD8"/>
<rect x="503" y="276" width="1" height="3" fill="#D8BFD8"/>
<rect x="503" y="270" width="1" height="3" fill="#D8BFD8"/>
<rect x="503" y="264" width="1" height="3" fill="#D8BFD8"/>
<rect x="503" y="258" width="1" height="3" fill="#D8BFD8"/>
<rect x="503" y="252" width="1" height="3" fill="#D8BFD8"/>
<rect x="503" y="246" width="1" height="3" fill="#D8BFD8"/>
<rect x="503" y="240" width="1" height="3" fill="#D8BFD8"/>
<rect x="503" y="234" width="1" height="3" fill="#D8BFD8"/>
<rect x="503" y="228" width="1" height="3" fill="#D8BFD8"/>
<rect x="503" y="222" width="1" height="3" fill="#D8BFD8"/>
<rect x="503" y="216" width="1" height="3" fill="#D8BFD8"/>
<rect x="503" y="210" width="1" height="3" fill="#D8BFD8"/>
<rect x="503" y="204" width="1" height="3" fill="#D8BFD8"/>
<rect x="503" y="198" width="1" height="3" fill="#D8BFD8"/>
<rect x="503" y="192" width="1" height="3" fill="#D8BFD8"/>
<rect x="507" y="289" width="1" height="3" fill="#D8BFD8"/>
<rect x="507" y="283" width="1" height="3" fill="#D8BFD8"/>
<rect x="507" y="277" width="1" height="3" fill="#D8BFD8"/>
<rect x="507" y="271" width="1" height="3" fill="#D8BFD8"/>
<rect x="507" y="265" width="1" height="3" fill="#D8BFD8"/>
<rect x="507" y="259" width="1" height="3" fill="#D8BFD8"/>
<rect x="507" y="253" width="1" height="3" fill="#D8BFD8"/>
<rect x="507" y="247" width="1" height="3" fill="#D8BFD8"/>
<rect x="507" y="241" width="1" height="3" fill="#D8BFD8"/>
<rect x="507" y="235" width="1" height="3" fill="#D8BFD8"/>
<rect x="507" y="229" width="1" height="3" fill="#D8BFD8"/>
<rect x="507" y="223" width="1" height="3" fill="#D8BFD8"/>
<rect x="507" y="217" width="1" height="3" fill="#D8BFD8"/>
<rect x="507" y="211" width="1" height="3" fill="#D8BFD8"/>
<rect x="507" y="205" width="1" height="3" fill="#D8BFD8"/>
<rect x="507" y="199" width="1" height="3" fill="#D8BFD8"/>
<rect x="507" y="193" width="1" height="3" fill="#D8BFD8"/>
<rect x="511" y="290" width="1" height="3" fill="#D8BFD8"/>
<rect x="511" y="284" width="1" height="3" fill="#D8BFD8"/>
<rect x="511" y="278" width="1" height="3" fill="#D8BFD8"/>
<rect x="511" y="272" width="1" height="3" fill="#D8BFD8"/>
<rect x="511" y="266" width="1" height="3" fill="#D8BFD8"/>
<rect x="511" y="260" width="1" height="3" fill="#D8BFD8"/>
<rect x="511" y="254" width="1" height="3" fill="#D8BFD8"/>
<rect x="511" y="248" width="1" height="3" fill="#D8BFD8"/>
<rect x="511" y="242" width="1" height="3" fill="#D8BFD8"/>
<rect x="511" y="236" width="1" height="3" fill="#D8BFD8"/>
<rect x="511" y="230" width="1" height="3" fill="#D8BFD8"/>
<rect x="511" y="224" width="1" height="3" fill="#D8BFD8"/>
<rect x="511" y="218" width="1" height="3" fill="#D8BFD8"/>
<rect x="511" y="212" width="1" height="3" fill="#D8BFD8"/>
<rect x="511" y="206" width="1" height="3" fill="#D8BFD8"/>
<rect x="511" y="200" width="1" height="3" fill="#D8BFD8"/>
<rect x="511" y="194" width="1" height="3" fill="#D8BFD8"/>
<rect x="515" y="294" width="1" height="3" fill="#D8BFD8"/>
<rect x="515" y="288" width="1" height="3" fill="#D8BFD8"/>
<rect x="515" y="282" width="1" height="3" fill="#D8BFD8"/>
<rect x="515" y="276" width="1" height="3" fill="#D8BFD8"/>
<rect x="515" y="270" width="1" height="3" fill="#D8BFD8"/>
<rect x="515" y="264" width="1" height="3" fill="#D8BFD8"/>
<rect x="515" y="258" width="1" height="3" fill="#D8BFD8"/>
<rect x="515" y="252" width="1" height="3" fill="#D8BFD8"/>
<rect x="515" y="246" width="1" height="3" fill="#D8BFD8"/>
<rect x="515" y="240" width="1" height="3" fill="#D8BFD8"/>
<rect x="515" y="234" width="1" height="3" fill="#D8BFD8"/>
<rect x="515" y="228" width="1" height="3" fill="#D8BFD8"/>
<rect x="515" y="222" width="1" height="3" fill="#D8BFD8"/>
<rect x="515" y="216" width="1" height="3" fill="#D8BFD8"/>
<rect x="515" y="210" width="1" height="3" fill="#D8BFD8"/>
<rect x="515" y="204" width="1" height="3" fill="#D8BFD8"/>
<rect x="515" y="198" width="1" height="3" fill="#D8BFD8"/>
<rect x="515" y="192" width="1" height="3" fill="#D8BFD8"/>
<rect x="519" y="298" width="1" height="3" fill="#D8BFD8"/>
<rect x="519" y="292" width="1" height="3" fill="#D8BFD8"/>
<rect x="519" y="286" width="1" height="3" fill="#D8BFD8"/>
<rect x="519" y="280" width="1" height="3" fill="#D8BFD8"/>
<rect x="519" y="274" width="1" height="3" fill="#D8BFD8"/>
<rect x="519" y="268" width="1" height="3" fill="#D8BFD8"/>
<rect x="519" y="262" width="1" height="3" fill="#D8BFD8"/>
<rect x="519" y="256" width="1" height="3" fill="#D8BFD8"/>
<rect x="519" y="250" width="1" height="3" fill="#D8BFD8"/>
<rect x="519" y="244" width="1" height="3" fill="#D8BFD8"/>
<rect x="519" y="238" width="1" height="3" fill="#D8BFD8"/>
<rect x="519" y="232" width="1" height="3" fill="#D8BFD8"/>
<rect x="519" y="226" width="1" height="3" fill="#D8BFD8"/>
<rect x="519" y="220" width="1" height="3" fill="#D8BFD8"/>
<rect x="519" y="214" width="1" height="3" fill="#D8BFD8"/>
<rect x="519" y="208" width="1" height="3" fill="#D8BFD8"/>
<rect x="519" y="202" width="1" height="3" fill="#D8BFD8"/>
<rect x="519" y="196" width="1" height="3" fill="#D8BFD8"/>
<rect x="523" y="304" width="1" height="3" fill="#D8BFD8"/>
<rect x="523" y="298" width="1" height="3" fill="#D8BFD8"/>
<rect x="523" y="292" width="1" height="3" fill="#D8BFD8"/>
<rect x="523" y="286" width="1" height="3" fill="#D8BFD8"/>
<rect x="523" y="280" width="1" height="3" fill="#D8BFD8"/>
<rect x="523" y="274" width="1" height="3" fill="#D8BFD8"/>
<rect x="523" y="268" width="1" height="3" fill="#D8BFD8"/>
<rect x="523" y="262" width="1" height="3" fill="#D8BFD8"/>
<rect x="523" y="256" width="1" height="3" fill="#D8BFD8"/>
<rect x="523" y="250" width="1" height="3" fill="#D8BFD8"/>
<rect x="523" y="244" width="1" height="3" fill="#D8BFD8"/>
<rect x="523" y="238" width="1" height="3" fill="#D8BFD8"/>
<rect x="523" y="232" width="1" height="3" fill="#D8BFD8"/>
<rect x="523" y="226" width="1" height="3" fill="#D8BFD8"/>
<rect x="523" y="220" width="1" height="3" fill="#D8BFD8"/>
<rect x="523" y="214" width="1" height="3" fill="#D8BFD8"/>
<rect x="523" y="208" width="1" height="3" fill="#D8BFD8"/>
<rect x="523" y="202" width="1" height="3" fill="#D8BFD8"/>
<rect x="523" y="196" width="1" height="3" fill="#D8BFD8"/>
<rect x="527" y="307" width="1" height="3" fill="#D8BFD8"/>
<rect x="527" y="301" width="1" height="3" fill="#D8BFD8"/>
<rect x="527" y="295" width="1" height="3" fill="#D8BFD8"/>
<rect x="527" y="289" width="1" height="3" fill="#D8BFD8"/>
<rect x="527" y="283" width="1" height="3" fill="#D8BFD8"/>
<rect x="527" y="277" width="1" height="3" fill="#D8BFD8"/>
<rect x="527" y="271" width="1" height="3" fill="#D8BFD8"/>
<rect x="527" y="265" width="1" height="3" fill="#D8BFD8"/>
<rect x="527" y="259" width="1" height="3" fill="#D8BFD8"/>
<rect x="527" y="253" width="1" height="3" fill="#D8BFD8"/>
<rect x="527" y="247" width="1" height="3" fill="#D8BFD8"/>
<rect x="527" y="241" width="1" height="3" fill="#D8BFD8"/>
<rect x="527" y="235" width="1" height="3" fill="#D8BFD8"/>
<rect x="527" y="229" width="1" height="3" fill="#D8BFD8"/>
<rect x="527" y="223" width="1" height="3" fill="#D8BFD8"/>
<rect x="527" y="217" width="1" height="3" fill="#D8BFD8"/>
<rect x="527" y="211" width="1" height="3" fill="#D8BFD8"/>
<rect x="527" y="205" width="1" height="3" fill="#D8BFD8"/>
<rect x="527" y="199" width="1" height="3" fill="#D8BFD8"/>
<rect x="531" y="309" width="1" height="3" fill="#D8BFD8"/>
<rect x="531" y="303" width="1" height="3" fill="#D8BFD8"/>
<rect x="531" y="297" width="1" height="3" fill="#D8BFD8"/>
<rect x="531" y="291" width="1" height="3" fill="#D8BFD8"/>
<rect x="531" y="285" width="1" height="3" fill="#D8BFD8"/>
<rect x="531" y="279" width="1" height="3" fill="#D8BFD8"/>
<rect x="531" y="273" width="1" height="3" fill="#D8BFD8"/>
<rect x="531" y="267" width="1" height="3" fill="#D8BFD8"/>
<rect x="531" y="261" width="1" height="3" fill="#D8BFD8"/>
<rect x="531" y="255" width="1" height="3" fill="#D8BFD8"/>
<rect x="531" y="249" width="1" height="3" fill="#D8BFD8"/>
<rect x="531" y="243" width="1" height="3" fill="#D8BFD8"/>
<rect x="531" y="237" width="1" height="3" fill="#D8BFD8"/>
<rect x="531" y="231" width="1" height="3" fill="#D8BFD8"/>
<rect x="531" y="225" width="1" height="3" fill="#D8BFD8"/>
<rect x="531" y="219" width="1" height="3" fill="#D8BFD8"/>
<rect x="531" y="213" width="1" height="3" fill="#D8BFD8"/>
<rect x="531" y="207" width="1" height="3" fill="#D8BFD8"/>
<rect x="531" y="201" width="1" height="3" fill="#D8BFD8"/>
<rect x="531" y="196" width="1" height="2" fill="#D8BFD8"/>
<rect x="535" y="311" width="1" height="3" fill="#D8BFD8"/>
<rect x="535" y="305" width="1" height="3" fill="#D8BFD8"/>
<rect x="535" y="299" width="1" height="3" fill="#D8BFD8"/>
<rect x="535" y="293" width="1" height="3" fill="#D8BFD8"/>
<rect x="535" y="287" width="1" height="3" fill="#D8BFD8"/>
<rect x="535" y="281" width="1" height="3" fill="#D8BFD8"/>
<rect x="535" y="275" width="1" height="3" fill="#D8BFD8"/>
<rect x="535" y="269" width="1" height="3" fill="#D8BFD8"/>
<rect x="535" y="263" width="1" height="3" fill="#D8BFD8"/>
<rect x="535" y="257" width="1" height="3" fill="#D8BFD8"/>
<rect x="535" y="251" width="1" height="3" fill="#D8BFD8"/>
<rect x="535" y="245" width="1" height="3" fill="#D8BFD8"/>
<rect x="535" y="239" width="1" height="3" fill="#D8BFD8"/>
<rect x="535" y="233" width="1" height="3" fill="#D8BFD8"/>
<rect x="535" y="227" width="1" height="3" fill="#D8BFD8"/>
<rect x="535" y="221" width="1" height="3" fill="#D8BFD8"/>
<rect x="535" y="215" width="1" height="3" fill="#D8BFD8"/>
<rect x="535" y="209" width="1" height="3" fill="#D8BFD8"/>
<rect x="535" y="203" width="1" height="3" fill="#D8BFD8"/>
<rect x="535" y="197" width="1" height="3" fill="#D8BFD8"/>
<rect x="539" y="313" width="1" height="3" fill="#D8BFD8"/>
<rect x="539" y="307" width="1" height="3" fill="#D8BFD8"/>
<rect x="539" y="301" width="1" height="3" fill="#D8BFD8"/>
<rect x="539" y="295" width="1" height="3" fill="#D8BFD8"/>
<rect x="539" y="289" width="1" height="3" fill="#D8BFD8"/>
<rect x="539" y="283" width="1" height="3" fill="#D8BFD8"/>
<rect x="539" y="277" width="1" height="3" fill="#D8BFD8"/>
<rect x="539" y="271" width="1" height="3" fill="#D8BFD8"/>
<rect x="539" y="265" width="1" height="3" fill="#D8BFD8"/>
<rect x="539" y="259" width="1" height="3" fill="#D8BFD8"/>
<rect x="539" y="253" width="1" height="3" fill="#D8BFD8"/>
<rect x="539" y="247" width="1" height="3" fill="#D8BFD8"/>
<rect x="539" y="241" width="1" height="3" fill="#D8BFD8"/>
<rect x="539" y="235" width="1" height="3" fill="#D8BFD8"/>
<rect x="539" y="229" width="1" height="3" fill="#D8BFD8"/>
<rect x="539" y="223" width="1" height="3" fill="#D8BFD8"/>
<rect x="539" y="217" width="1" height="3" fill="#D8BFD8"/>
<rect x="539" y="211" width="1" height="3" fill="#D8BFD8"/>
<rect x="539" y="205" width="1" height="3" fill="#D8BFD8"/>
<rect x="539" y="199" width="1" height="3" fill="#D8BFD8"/>
<rect x="543" y="316" width="1" height="3" fill="#D8BFD8"/>
<rect x="543" y="310" width="1" height="3" fill="#D8BFD8"/>
<rect x="543" y="304" width="1" height="3" fill="#D8BFD8"/>
<rect x="543" y="298" width="1" height="3" fill="#D8BFD8"/>
<rect x="543" y="292" width="1" height="3" fill="#D8BFD8"/>
<rect x="543" y="286" width="1" height="3" fill="#D8BFD8"/>
<rect x="543" y="280" width="1" height="3" fill="#D8BFD8"/>
<rect x="543" y="274" width="1" height="3" fill="#D8BFD8"/>
<rect x="543" y="268" width="1" height="3" fill="#D8BFD8"/>
<rect x="543" y="262" width="1" height="3" fill="#D8BFD8"/>
<rect x="543" y="256" width="1" height="3" fill="#D8BFD8"/>
<rect x="543" y="250" width="1" height="3" fill="#D8BFD8"/>
<rect x="543" y="244" width="1" height="3" fill="#D8BFD8"/>
<rect x="543" y="238" width="1" height="3" fill="#D8BFD8"/>
<rect x="543" y="232" width="1" height="3" fill="#D8BFD8"/>
<rect x="543" y="226" width="1" height="3" fill="#D8BFD8"/>
<rect x="543" y="220" width="1" height="3" fill="#D8BFD8"/>
<rect x="543" y="214" width="1" height="3" fill="#D8BFD8"/>
<rect x="543" y="208" width="1" height="3" fill="#D8BFD8"/>
<rect x="543" y="202" width="1" height="3" fill="#D8BFD8"/>
<rect x="543" y="196" width="1" height="3" fill="#D8BFD8"/>
<rect x="547" y="312" width="1" height="3" fill="#D8BFD8"/>
<rect x="547" y="306" width="1" height="3" fill="#D8BFD8"/>
<rect x="547" y="300" width="1" height="3" fill="#D8BFD8"/>
<rect x="547" y="294" width="1" height="3" fill="#D8BFD8"/>
<rect x="547" y="288" width="1" height="3" fill="#D8BFD8"/>
<rect x="547" y="282" width="1" height="3" fill="#D8BFD8"/>
<rect x="547" y="276" width="1" height="3" fill="#D8BFD8"/>
<rect x="547" y="270" width="1" height="3" fill="#D8BFD8"/>
<rect x="547" y="264" width="1" height="3" fill="#D8BFD8"/>
<rect x="547" y="258" width="1" height="3" fill="#D8BFD8"/>
<rect x="547" y="252" width="1" height="3" fill="#D8BFD8"/>
<rect x="547" y="246" width="1" height="3" fill="#D8BFD8"/>
<rect x="547" y="240" width="1" height="3" fill="#D8BFD8"/>
<rect x="547" y="234" width="1" height="3" fill="#D8BFD8"/>
<rect x="547" y="228" width="1" height="3" fill="#D8BFD8"/>
<rect x="547" y="222" width="1" height="3" fill="#D8BFD8"/>
<rect x="547" y="216" width="1" height="3" fill="#D8BFD8"/>
<rect x="547" y="210" width="1" height="3" fill="#D8BFD8"/>
<rect x="547" y="204" width="1" height="3" fill="#D8BFD8"/>
<rect x="547" y="198" width="1" height="3" fill="#D8BFD8"/>
<rect x="551" y="312" width="1" height="3" fill="#D8BFD8"/>
<rect x="551" y="306" width="1" height="3" fill="#D8BFD8"/>
<rect x="551" y="300" width="1" height="3" fill="#D8BFD8"/>
<rect x="551" y="294" width="1" height="3" fill="#D8BFD8"/>
<rect x="551" y="288" width="1" height="3" fill="#D8BFD8"/>
<rect x="551" y="282" width="1" height="3" fill="#D8BFD8"/>
<rect x="551" y="276" width="1" height="3" fill="#D8BFD8"/>
<rect x="551" y="270" width="1" height="3" fill="#D8BFD8"/>
<rect x="551" y="264" width="1" height="3" fill="#D8BFD8"/>
<rect x="551" y="258" width="1" height="3" fill="#D8BFD8"/>
<rect x="551" y="252" width="1" height="3" fill="#D8BFD8"/>
<rect x="551" y="246" width="1" height="3" fill="#D8BFD8"/>
<rect x="551" y="240" width="1" height="3" fill="#D8BFD8"/>
<rect x="551" y="234" width="1" height="3" fill="#D8BFD8"/>
<rect x="551" y="228" width="1" height="3" fill="#D8BFD8"/>
<rect x="551" y="222" width="1" height="3" fill="#D8BFD8"/>
<rect x="551" y="216" width="1" height="3" fill="#D8BFD8"/>
<rect x="551" y="210" width="1" height="3" fill="#D8BFD8"/>
<rect x="551" y="204" width="1" height="3" fill="#D8BFD8"/>
<rect x="551" y="198" width="1" height="3" fill="#D8BFD8"/>
<rect x="555" y="312" width="1" height="3" fill="#D8BFD8"/>
<rect x="555" y="306" width="1" height="3" fill="#D8BFD8"/>
<rect x="555" y="300" width="1" height="3" fill="#D8BFD8"/>
<rect x="555" y="294" width="1" height="3" fill="#D8BFD8"/>
<rect x="555" y="288" width="1" height="3" fill="#D8BFD8"/>
<rect x="555" y="282" width="1" height="3" fill="#D8BFD8"/>
<rect x="555" y="276" width="1" height="3" fill="#D8BFD8"/>
<rect x="555" y="270" width="1" height="3" fill="#D8BFD8"/>
<rect x="555" y="264" width="1" height="3" fill="#D8BFD8"/>
<rect x="555" y="258" width="1" height="3" fill="#D8BFD8"/>
<rect x="555" y="252" width="1" height="3" fill="#D8BFD8"/>
<rect x="555" y="246" width="1" height="3" fill="#D8BFD8"/>
<rect x="555" y="240" width="1" height="3" fill="#D8BFD8"/>
<rect x="555" y="234" width="1" height="3" fill="#D8BFD8"/>
<rect x="555" y="228" width="1" height="3" fill="#D8BFD8"/>
<rect x="555" y="222" width="1" height="3" fill="#D8BFD8"/>
<rect x="555" y="216" width="1" height="3" fill="#D8BFD8"/>
<rect x="555" y="210" width="1" height="3" fill="#D8BFD8"/>
<rect x="555" y="204" width="1" height="3" fill="#D8BFD8"/>
<rect x="555" y="198" width="1" height="3" fill="#D8BFD8"/>
<rect x="559" y="312" width="1" height="3" fill="#D8BFD8"/>
<rect x="559" y="306" width="1" height="3" fill="#D8BFD8"/>
<rect x="559" y="300" width="1" height="3" fill="#D8BFD8"/>
<rect x="559" y="294" width="1" height="3" fill="#D8BFD8"/>
<rect x="559" y="288" width="1" height="3" fill="#D8BFD8"/>
<rect x="559" y="282" width="1" height="3" fill="#D8BFD8"/>
<rect x="559" y="276" width="1" height="3" fill="#D8BFD8"/>
<rect x="559" y="270" width="1" height="3" fill="#D8BFD8"/>
<rect x="559" y="264" width="1" height="3" fill="#D8BFD8"/>
<rect x="559" y="258" width="1" height="3" fill="#D8BFD8"/>
<rect x="559" y="252" width="1" height="3" fill="#D8BFD8"/>
<rect x="559" y="246" width="1" height="3" fill="#D8BFD8"/>
<rect x="559" y="240" width="1" height="3" fill="#D8BFD8"/>
<rect x="559" y="234" width="1" height="3" fill="#D8BFD8"/>
<rect x="559" y="228" width="1" height="3" fill="#D8BFD8"/>
<rect x="559" y="222" width="1" height="3" fill="#D8BFD8"/>
<rect x="559" y="216" width="1" height="3" fill="#D8BFD8"/>
<rect x="559" y="210" width="1" height="3" fill="#D8BFD8"/>
<rect x="559" y="204" width="1" height="3" fill="#D8BFD8"/>
<rect x="559" y="198" width="1" height="3" fill="#D8BFD8"/>
<rect x="563" y="313" width="1" height="3" fill="#D8BFD8"/>
<rect x="563" y="307" width="1" height="3" fill="#D8BFD8"/>
<rect x="563" y="301" width="1" height="3" fill="#D8BFD8"/>
<rect x="563" y="295" width="1" height="3" fill="#D8BFD8"/>
<rect x="563" y="289" width="1" height="3" fill="#D8BFD8"/>
<rect x="563" y="283" width="1" height="3" fill="#D8BFD8"/>
<rect x="563" y="277" width="1" height="3" fill="#D8BFD8"/>
<rect x="563" y="271" width="1" height="3" fill="#D8BFD8"/>
<rect x="563" y="265" width="1" height="3" fill="#D8BFD8"/>
<rect x="563" y="259" width="1" height="3" fill="#D8BFD8"/>
<rect x="563" y="253" width="1" height="3" fill="#D8BFD8"/>
<rect x="563" y="247" width="1" height="3" fill="#D8BFD8"/>
<rect x="563" y="241" width="1" height="3" fill="#D8BFD8"/>
<rect x="563" y="235" width="1" height="3" fill="#D8BFD8"/>
<rect x="563" y="229" width="1" height="3" fill="#D8BFD8"/>
<rect x="563" y="223" width="1" height="3" fill="#D8BFD8"/>
<rect x="563" y="217" width="1" height="3" fill="#D8BFD8"/>
<rect x="563" y="211" width="1" height="3" fill="#D8BFD8"/>
<rect x="563" y="205" width="1" height="3" fill="#D8BFD8"/>
<rect x="563" y="199" width="1" height="3" fill="#D8BFD8"/>
<rect x="567" y="312" width="1" height="3" fill="#D8BFD8"/>
<rect x="567" y="306" width="1" height="3" fill="#D8BFD8"/>
<rect x="567" y="300" width="1" height="3" fill="#D8BFD8"/>
<rect x="567" y="294" width="1" height="3" fill="#D8BFD8"/>
<rect x="567" y="288" width="1" height="3" fill="#D8BFD8"/>
<rect x="567" y="282" width="1" height="3" fill="#D8BFD8"/>
<rect x="567" y="276" width="1" height="3" fill="#D8BFD8"/>
<rect x="567" y="270" width="1" height="3" fill="#D8BFD8"/>
<rect x="567" y="264" width="1" height="3" fill="#D8BFD8"/>
<rect x="567" y="258" width="1" height="3" fill="#D8BFD8"/>
<rect x="567" y="252" width="1" height="3" fill="#D8BFD8"/>
<rect x="567" y="246" width="1" height="3" fill="#D8BFD8"/>
<rect x="567" y="240" width="1" height="3" fill="#D8BFD8"/>
<rect x="567" y="234" width="1" height="3" fill="#D8BFD8"/>
<rect x="567" y="228" width="1" height="3" fill="#D8BFD8"/>
<rect x="567" y="222" width="1" height="3" fill="#D8BFD8"/>
<rect x="567" y="216" width="1" height="3" fill="#D8BFD8"/>
<rect x="567" y="210" width="1" height="3" fill="#D8BFD8"/>
<rect x="567" y="204" width="1" height="3" fill="#D8BFD8"/>
<rect x="567" y="198" width="1" height="3" fill="#D8BFD8"/>
<rect x="571" y="316" width="1" height="3" fill="#D8BFD8"/>
<rect x="571" y="310" width="1" height="3" fill="#D8BFD8"/>
<rect x="571" y="304" width="1" height="3" fill="#D8BFD8"/>
<rect x="571" y="298" width="1" height="3" fill="#D8BFD8"/>
<rect x="571" y="292" width="1" height="3" fill="#D8BFD8"/>
<rect x="571" y="286" width="1" height="3" fill="#D8BFD8"/>
<rect x="571" y="280" width="1" height="3" fill="#D8BFD8"/>
<rect x="571" y="274" width="1" height="3" fill="#D8BFD8"/>
<rect x="571" y="268" width="1" height="3" fill="#D8BFD8"/>
<rect x="571" y="262" width="1" height="3" fill="#D8BFD8"/>
<rect x="571" y="256" width="1" height="3" fill="#D8BFD8"/>
<rect x="571" y="250" width="1" height="3" fill="#D8BFD8"/>
<rect x="571" y="244" width="1" height="3" fill="#D8BFD8"/>
<rect x="571" y="238" width="1" height="3" fill="#D8BFD8"/>
<rect x="571" y="232" width="1" height="3" fill="#D8BFD8"/>
<rect x="571" y="226" width="1" height="3" fill="#D8BFD8"/>
<rect x="571" y="220" width="1" height="3" fill="#D8BFD8"/>
<rect x="571" y="214" width="1" height="3" fill="#D8BFD8"/>
<rect x="571" y="208" width="1" height="3" fill="#D8BFD8"/>
<rect x="571" y="202" width="1" height="3" fill="#D8BFD8"/>
<rect x="571" y="196" width="1" height="3" fill="#D8BFD8"/>
<rect x="575" y="320" width="1" height="3" fill="#D8BFD8"/>
<rect x="575" y="314" width="1" height="3" fill="#D8BFD8"/>
<rect x="575" y="308" width="1" height="3" fill="#D8BFD8"/>
<rect x="575" y="302" width="1" height="3" fill="#D8BFD8"/>
<rect x="575" y="296" width="1" height="3" fill="#D8BFD8"/>
<rect x="575" y="290" width="1" height="3" fill="#D8BFD8"/>
<rect x="575" y="284" width="1" height="3" fill="#D8BFD8"/>
<rect x="575" y="278" width="1" height="3" fill="#D8BFD8"/>
<rect x="575" y="272" width="1" height="3" fill="#D8BFD8"/>
<rect x="575" y="266" width="1" height="3" fill="#D8BFD8"/>
<rect x="575" y="260" width="1" height="3" fill="#D8BFD8"/>
<rect x="575" y="254" width="1" height="3" fill="#D8BFD8"/>
<rect x="575" y="248" width="1" height="3" fill="#D8BFD8"/>
<rect x="575" y="242" width="1" height="3" fill="#D8BFD8"/>
<rect x="575" y="236" width="1" height="3" fill="#D8BFD8"/>
<rect x="575" y="230" width="1" height="3" fill="#D8BFD8"/>
<rect x="575" y="224" width="1" height="3" fill="#D8BFD8"/>
<rect x="575" y="218" width="1" height="3" fill="#D8BFD8"/>
<rect x="575" y="212" width="1" height="3" fill="#D8BFD8"/>
<rect x="575" y="206" width="1" height="3" fill="#D8BFD8"/>
<rect x="575" y="200" width="1" height="3" fill="#D8BFD8"/>
<rect x="579" y="324" width="1" height="3" fill="#D8BFD8"/>
<rect x="579" y="318" width="1" height="3" fill="#D8BFD8"/>
<rect x="579" y="312" width="1" height="3" fill="#D8BFD8"/>
<rect x="579" y="306" width="1" height="3" fill="#D8BFD8"/>
<rect x="579" y="300" width="1" height="3" fill="#D8BFD8"/>
<rect x="579" y="294" width="1" height="3" fill="#D8BFD8"/>
<rect x="579" y="288" width="1" height="3" fill="#D8BFD8"/>
<rect x="579" y="282" width="1" height="3" fill="#D8BFD8"/>
<rect x="579" y="276" width="1" height="3" fill="#D8BFD8"/>
<rect x="579" y="270" width="1" height="3" fill="#D8BFD8"/>
<rect x="579" y="264" width="1" height="3" fill="#D8BFD8"/>
<rect x="579" y="258" width="1" height="3" fill="#D8BFD8"/>
<rect x="579" y="252" width="1" height="3" fill="#D8BFD8"/>
<rect x="579" y="246" width="1" height="3" fill="#D8BFD8"/>
<rect x="579" y="240" width="1" height="3" fill="#D8BFD8"/>
<rect x="579" y="234" width="1" height="3" fill="#D8BFD8"/>
<rect x="579" y="228" width="1" height="3" fill="#D8BFD8"/>
<rect x="579" y="222" width="1" height="3" fill="#D8BFD8"/>
<rect x="579" y="216" width="1" height="3" fill="#D8BFD8"/>
<rect x="579" y="210" width="1" height="3" fill="#D8BFD8"/>
<rect x="579" y="204" width="1" height="3" fill="#D8BFD8"/>
<rect x="579" y="198" width="1" height="3" fill="#D8BFD8"/>
<rect x="583" y="325" width="1" height="3" fill="#D8BFD8"/>
<rect x="583" y="319" width="1" height="3" fill="#D8BFD8"/>
<rect x="583" y="313" width="1" height="3" fill="#D8BFD8"/>
<rect x="583" y="307" width="1" height="3" fill="#D8BFD8"/>
<rect x="583" y="301" width="1" height="3" fill="#D8BFD8"/>
<rect x="583" y="295" width="1" height="3" fill="#D8BFD8"/>
<rect x="583" y="289" width="1" height="3" fill="#D8BFD8"/>
<rect x="583" y="283" width="1" height="3" fill="#D8BFD8"/>
<rect x="583" y="277" width="1" height="3" fill="#D8BFD8"/>
<rect x="583" y="271" width="1" height="3" fill="#D8BFD8"/>
<rect x="583" y="265" width="1" height="3" fill="#D8BFD8"/>
<rect x="583" y="259" width="1" height="3" fill="#D8BFD8"/>
<rect x="583" y="253" width="1" height="3" fill="#D8BFD8"/>
<rect x="583" y="247" width="1" height="3" fill="#D8BFD8"/>
<rect x="583" y="241" width="1" height="3" fill="#D8BFD8"/>
<rect x="583" y="235" width="1" height="3" fill="#D8BFD8"/>
<rect x="583" y="229" width="1" height="3" fill="#D8BFD8"/>
<rect x="583" y="223" width="1" height="3" fill="#D8BFD8"/>
<rect x="583" y="217" width="1" height="3" fill="#D8BFD8"/>
<rect x="583" y="211" width="1" height="3" fill="#D8BFD8"/>
<rect x="583" y="205" width="1" height="3" fill="#D8BFD8"/>
<rect x="583" y="199" width="1" height="3" fill="#D8BFD8"/>
<rect x="587" y="327" width="1" height="3" fill="#D8BFD8"/>
<rect x="587" y="321" width="1" height="3" fill="#D8BFD8"/>
<rect x="587" y="315" width="1" height="3" fill="#D8BFD8"/>
<rect x="587" y="309" width="1" height="3" fill="#D8BFD8"/>
<rect x="587" y="303" width="1" height="3" fill="#D8BFD8"/>
<rect x="587" y="297" width="1" height="3" fill="#D8BFD8"/>
<rect x="587" y="291" width="1" height="3" fill="#D8BFD8"/>
<rect x="587" y="285" width="1" height="3" fill="#D8BFD8"/>
<rect x="587" y="279" width="1" height="3" fill="#D8BFD8"/>
<rect x="587" y="273" width="1" height="3" fill="#D8BFD8"/>
<rect x="587" y="267" width="1" height="3" fill="#D8BFD8"/>
<rect x="587" y="261" width="1" height="3" fill="#D8BFD8"/>
<rect x="587" y="255" width="1" height="3" fill="#D8BFD8"/>
<rect x="587" y="249" width="1" height="3" fill="#D8BFD8"/>
<rect x="587" y="243" width="1" height="3" fill="#D8BFD8"/>
<rect x="587" y="237" width="1" height="3" fill="#D8BFD8"/>
<rect x="587" y="231" width="1" height="3" fill="#D8BFD8"/>
<rect x="587" y="225" width="1" height="3" fill="#D8BFD8"/>
<rect x="587" y="219" width="1" height="3" fill="#D8BFD8"/>
<rect x="587" y="213" width="1" height="3" fill="#D8BFD8"/>
<rect x="587" y="207" width="1" height="3" fill="#D8BFD8"/>
<rect x="587" y="201" width="1" height="3" fill="#D8BFD8"/>
<rect x="587" y="196" width="1" height="2" fill="#D8BFD8"/>
<rect x="591" y="327" width="1" height="3" fill="#D8BFD8"/>
<rect x="591" y="321" width="1" height="3" fill="#D8BFD8"/>
<rect x="591" y="315" width="1" height="3" fill="#D8BFD8"/>
<rect x="591" y="309" width="1" height="3" fill="#D8BFD8"/>
<rect x="591" y="303" width="1" height="3" fill="#D8BFD8"/>
<rect x="591" y="297" width="1" height="3" fill="#D8BFD8"/>
<rect x="591" y="291" width="1" height="3" fill="#D8BFD8"/>
<rect x="591" y="285" width="1" height="3" fill="#D8BFD8"/>
<rect x="591" y="279" width="1" height="3" fill="#D8BFD8"/>
<rect x="591" y="273" width="1" height="3" fill="#D8BFD8"/>
<rect x="591" y="267" width="1" height="3" fill="#D8BFD8"/>
<rect x="591" y="261" width="1" height="3" fill="#D8BFD8"/>
<rect x="591" y="255" width="1" height="3" fill="#D8BFD8"/>
<rect x="591" y="249" width="1" height="3" fill="#D8BFD8"/>
<rect x="591" y="243" width="1" height="3" fill="#D8BFD8"/>
<rect x="591" y="237" width="1" height="3" fill="#D8BFD8"/>
<rect x="591" y="231" width="1" height="3" fill="#D8BFD8"/>
<rect x="591" y="225" width="1" height="3" fill="#D8BFD8"/>
<rect x="591" y="219" width="1" height="3" fill="#D8BFD8"/>
<rect x="591" y="213" width="1" height="3" fill="#D8BFD8"/>
<rect x="591" y="207" width="1" height="3" fill="#D8BFD8"/>
<rect x="591" y="201" width="1" height="3" fill="#D8BFD8"/>
<rect x="591" y="196" width="1" height="2" fill="#D8BFD8"/>
<rect x="595" y="326" width="1" height="3" fill="#D8BFD8"/>
<rect x="595" y="320" width="1" height="3" fill="#D8BFD8"/>
<rect x="595" y="314" width="1" height="3" fill="#D8BFD8"/>
<rect x="595" y="308" width="1" height="3" fill="#D8BFD8"/>
<rect x="595" y="302" width="1" height="3" fill="#D8BFD8"/>
<rect x="595" y="296" width="1" height="3" fill="#D8BFD8"/>
<rect x="595" y="290" width="1" height="3" fill="#D8BFD8"/>
<rect x="595" y="284" width="1" height="3" fill="#D8BFD8"/>
<rect x="595" y="278" width="1" height="3" fill="#D8BFD8"/>
<rect x="595" y="272" width="1" height="3" fill="#D8BFD8"/>
<rect x="595" y="266" width="1" height="3" fill="#D8BFD8"/>
<rect x="595" y="260" width="1" height="3" fill="#D8BFD8"/>
<rect x="595" y="254" width="1" height="3" fill="#D8BFD8"/>
<rect x="595" y="248" width="1" height="3" fill="#D8BFD8"/>
<rect x="595" y="242" width="1" height="3" fill="#D8BFD8"/>
<rect x="595" y="236" width="1" height="3" fill="#D8BFD8"/>
<rect x="595" y="230" width="1" height="3" fill="#D8BFD8"/>
<rect x="595" y="224" width="1" height="3" fill="#D8BFD8"/>
<rect x="595" y="218" width="1" height="3" fill="#D8BFD8"/>
<rect x="595" y="212" width="1" height="3" fill="#D8BFD8"/>
<rect x="595" y="206" width="1" height="3" fill="#D8BFD8"/>
<rect x="595" y="200" width="1" height="3" fill="#D8BFD8"/>
<rect x="599" y="326" width="1" height="3" fill="#D8BFD8"/>
<rect x="599" y="320" width="1" height="3" fill="#D8BFD8"/>
<rect x="599" y="314" width="1" height="3" fill="#D8BFD8"/>
<rect x="599" y="308" width="1" height="3" fill="#D8BFD8"/>
<rect x="599" y="302" width="1" height="3" fill="#D8BFD8"/>
<rect x="599" y="296" width="1" height="3" fill="#D8BFD8"/>
<rect x="599" y="290" width="1" height="3" fill="#D8BFD8"/>
<rect x="599" y="284" width="1" height="3" fill="#D8BFD8"/>
<rect x="599" y="278" width="1" height="3" fill="#D8BFD8"/>
<rect x="599" y="272" width="1" height="3" fill="#D8BFD8"/>
<rect x="599" y="266" width="1" height="3" fill="#D8BFD8"/>
<rect x="599" y="260" width="1" height="3" fill="#D8BFD8"/>
<rect x="599" y="254" width="1" height="3" fill="#D8BFD8"/>
<rect x="599" y="248" width="1" height="3" fill="#D8BFD8"/>
<rect x="599" y="242" width="1" height="3" fill="#D8BFD8"/>
<rect x="599" y="236" width="1" height="3" fill="#D8BFD8"/>
<rect x="599" y="230" width="1" height="3" fill="#D8BFD8"/>
<rect x="599" y="224" width="1" height="3" fill="#D8BFD8"/>
<rect x="599" y="218" width="1" height="3" fill="#D8BFD8"/>
<rect x="599" y="212" width="1" height="3" fill="#D8BFD8"/>
<rect x="599" y="206" width="1" height="3" fill="#D8BFD8"/>
<rect x="599" y="200" width="1" height="3" fill="#D8BFD8"/>
<rect x="603" y="326" width="1" height="3" fill="#D8BFD8"/>
<rect x="603" y="320" width="1" height="3" fill="#D8BFD8"/>
<rect x="603" y="314" width="1" height="3" fill="#D8BFD8"/>
<rect x="603" y="308" width="1" height="3" fill="#D8BFD8"/>
<rect x="603" y="302" width="1" height="3" fill="#D8BFD8"/>
<rect x="603" y="296" width="1" height="3" fill="#D8BFD8"/>
<rect x="603" y="290" width="1" height="3" fill="#D8BFD8"/>
<rect x="603" y="284" width="1" height="3" fill="#D8BFD8"/>
<rect x="603" y="278" width="1" height="3" fill="#D8BFD8"/>
<rect x="603" y="272" width="1" height="3" fill="#D8BFD8"/>
<rect x="603" y="266" width="1" height="3" fill="#D8BFD8"/>
<rect x="603" y="260" width="1" height="3" fill="#D8BFD8"/>
<rect x="603" y="254" width="1" height="3" fill="#D8BFD8"/>
<rect x="603" y="248" width="1" height="3" fill="#D8BFD8"/>
<rect x="603" y="242" width="1" height="3" fill="#D8BFD8"/>
<rect x="603" y="236" width="1" height="3" fill="#D8BFD8"/>
<rect x="603" y="230" width="1" height="3" fill="#D8BFD8"/>
<rect x="603" y="224" width="1" height="3" fill="#D8BFD8"/>
<rect x="603" y="218" width="1" height="3" fill="#D8BFD8"/>
<rect x="603" y="212" width="1" height="3" fill="#D8BFD8"/>
<rect x="603" y="206" width="1" height="3" fill="#D8BFD8"/>
<rect x="603" y="200" width="1" height="3" fill="#D8BFD8"/>
<rect x="607" y="326" width="1" height="3" fill="#D8BFD8"/>
<rect x="607" y="320" width="1" height="3" fill="#D8BFD8"/>
<rect x="607" y="314" width="1" height="3" fill="#D8BFD8"/>
<rect x="607" y="308" width="1" height="3" fill="#D8BFD8"/>
<rect x="607" y="302" width="1" height="3" fill="#D8BFD8"/>
<rect x="607" y="296" width="1" height="3" fill="#D8BFD8"/>
<rect x="607" y="290" width="1" height="3" fill="#D8BFD8"/>
<rect x="607" y="284" width="1" height="3" fill="#D8BFD8"/>
<rect x="607" y="278" width="1" height="3" fill="#D8BFD8"/>
<rect x="607" y="272" width="1" height="3" fill="#D8BFD8"/>
<rect x="607" y="266" width="1" height="3" fill="#D8BFD8"/>
<rect x="607" y="260" width="1" height="3" fill="#D8BFD8"/>
<rect x="607" y="254" width="1" height="3" fill="#D8BFD8"/>
<rect x="607" y="248" width="1" height="3" fill="#D8BFD8"/>
<rect x="607" y="242" width="1" height="3" fill="#D8BFD8"/>
<rect x="607" y="236" width="1" height="3" fill="#D8BFD8"/>
<rect x="607" y="230" width="1" height="3" fill="#D8BFD8"/>
<rect x="607" y="224" width="1" height="3" fill="#D8BFD8"/>
<rect x="607" y="218" width="1" height="3" fill="#D8BFD8"/>
<rect x="607" y="212" width="1" height="3" fill="#D8BFD8"/>
<rect x="607" y="206" width="1" height="3" fill="#D8BFD8"/>
<rect x="607" y="200" width="1" height="3" fill="#D8BFD8"/>
<rect x="611" y="326" width="1" height="3" fill="#D8BFD8"/>
<rect x="611" y="320" width="1" height="3" fill="#D8BFD8"/>
<rect x="611" y="314" width="1" height="3" fill="#D8BFD8"/>
<rect x="611" y="308" width="1" height="3" fill="#D8BFD8"/>
<rect x="611" y="302" width="1" height="3" fill="#D8BFD8"/>
<rect x="611" y="296" width="1" height="3" fill="#D8BFD8"/>
<rect x="611" y="290" width="1" height="3" fill="#D8BFD8"/>
<rect x="611" y="284" width="1" height="3" fill="#D8BFD8"/>
<rect x="611" y="278" width="1" height="3" fill="#D8BFD8"/>
<rect x="611" y="272" width="1" height="3" fill="#D8BFD8"/>
<rect x="611" y="266" width="1" height="3" fill="#D8BFD8"/>
<rect x="611" y="260" width="1" height="3" fill="#D8BFD8"/>
<rect x="611" y="254" width="1" height="3" fill="#D8BFD8"/>
<rect x="611" y="248" width="1" height="3" fill="#D8BFD8"/>
<rect x="611" y="242" width="1" height="3" fill="#D8BFD8"/>
<rect x="611" y="236" width="1" height="3" fill="#D8BFD8"/>
<rect x="611" y="230" width="1" height="3" fill="#D8BFD8"/>
<rect x="611" y="224" width="1" height="3" fill="#D8BFD8"/>
<rect x="611" y="218" width="1" height="3" fill="#D8BFD8"/>
<rect x="611" y="212" width="1" height="3" fill="#D8BFD8"/>
<rect x="611" y="206" width="1" height="3" fill="#D8BFD8"/>
<rect x="611" y="200" width="1" height="3" fill="#D8BFD8"/>
<rect x="615" y="318" width="1" height="3" fill="#D8BFD8"/>
<rect x="615" y="312" width="1" height="3" fill="#D8BFD8"/>
<rect x="615" y="306" width="1" height="3" fill="#D8BFD8"/>
<rect x="615" y="300" width="1" height="3" fill="#D8BFD8"/>
<rect x="615" y="294" width="1" height="3" fill="#D8BFD8"/>
<rect x="615" y="288" width="1" height="3" fill="#D8BFD8"/>
<rect x="615" y="282" width="1" height="3" fill="#D8BFD8"/>
<rect x="615" y="276" width="1" height="3" fill="#D8BFD8"/>
<rect x="615" y="270" width="1" height="3" fill="#D8BFD8"/>
<rect x="615" y="264" width="1" height="3" fill="#D8BFD8"/>
<rect x="615" y="258" width="1" height="3" fill="#D8BFD8"/>
<rect x="615" y="252" width="1" height="3" fill="#D8BFD8"/>
<rect x="615" y="246" width="1" height="3" fill="#D8BFD8"/>
<rect x="615" y="240" width="1" height="3" fill="#D8BFD8"/>
<rect x="615" y="234" width="1" height="3" fill="#D8BFD8"/>
<rect x="615" y="228" width="1" height="3" fill="#D8BFD8"/>
<rect x="615" y="222" width="1" height="3" fill="#D8BFD8"/>
<rect x="615" y="216" width="1" height="3" fill="#D8BFD8"/>
<rect x="615" y="210" width="1" height="3" fill="#D8BFD8"/>
<rect x="615" y="204" width="1" height="3" fill="#D8BFD8"/>
<rect x="615" y="198" width="1" height="3" fill="#D8BFD8"/>
<rect x="619" y="318" width="1" height="3" fill="#D8BFD8"/>
<rect x="619" y="312" width="1" height="3" fill="#D8BFD8"/>
<rect x="619" y="306" width="1" height="3" fill="#D8BFD8"/>
<rect x="619" y="300" width="1" height="3" fill="#D8BFD8"/>
<rect x="619" y="294" width="1" height="3" fill="#D8BFD8"/>
<rect x="619" y="288" width="1" height="3" fill="#D8BFD8"/>
<rect x="619" y="282" width="1" height="3" fill="#D8BFD8"/>
<rect x="619" y="276" width="1" height="3" fill="#D8BFD8"/>
<rect x="619" y="270" width="1" height="3" fill="#D8BFD8"/>
<rect x="619" y="264" width="1" height="3" fill="#D8BFD8"/>
<rect x="619" y="258" width="1" height="3" fill="#D8BFD8"/>
<rect x="619" y="252" width="1" height="3" fill="#D8BFD8"/>
<rect x="619" y="246" width="1" height="3" fill="#D8BFD8"/>
<rect x="619" y="240" width="1" height="3" fill="#D8BFD8"/>
<rect x="619" y="234" width="1" height="3" fill="#D8BFD8"/>
<rect x="619" y="228" width="1" height="3" fill="#D8BFD8"/>
<rect x="619" y="222" width="1" height="3" fill="#D8BFD8"/>
<rect x="619" y="216" width="1" height="3" fill="#D8BFD8"/>
<rect x="619" y="210" width="1" height="3" fill="#D8BFD8"/>
<rect x="619" y="204" width="1" height="3" fill="#D8BFD8"/>
<rect x="619" y="198" width="1" height="3" fill="#D8BFD8"/>
<rect x="623" y="318" width="1" height="3" fill="#D8BFD8"/>
<rect x="623" y="312" width="1" height="3" fill="#D8BFD8"/>
<rect x="623" y="306" width="1" height="3" fill="#D8BFD8"/>
<rect x="623" y="300" width="1" height="3" fill="#D8BFD8"/>
<rect x="623" y="294" width="1" height="3" fill="#D8BFD8"/>
<rect x="623" y="288" width="1" height="3" fill="#D8BFD8"/>
<rect x="623" y="282" width="1" height="3" fill="#D8BFD8"/>
<rect x="623" y="276" width="1" height="3" fill="#D8BFD8"/>
<rect x="623" y="270" width="1" height="3" fill="#D8BFD8"/>
<rect x="623" y="264" width="1" height="3" fill="#D8BFD8"/>
<rect x="623" y="258" width="1" height="3" fill="#D8BFD8"/>
<rect x="623" y="252" width="1" height="3" fill="#D8BFD8"/>
<rect x="623" y="246" width="1" height="3" fill="#D8BFD8"/>
<rect x="623" y="240" width="1" height="3" fill="#D8BFD8"/>
<rect x="623" y="234" width="1" height="3" fill="#D8BFD8"/>
<rect x="623" y="228" width="1" height="3" fill="#D8BFD8"/>
<rect x="623" y="222" width="1" height="3" fill="#D8BFD8"/>
<rect x="623" y="216" width="1" height="3" fill="#D8BFD8"/>
<rect x="623" y="210" width="1" height="3" fill="#D8BFD8"/>
<rect x="623" y="204" width="1" height="3" fill="#D8BFD8"/>
<rect x="623" y="198" width="1" height="3" fill="#D8BFD8"/>
<rect x="627" y="318" width="1" height="3" fill="#D8BFD8"/>
<rect x="627" y="312" width="1" height="3" fill="#D8BFD8"/>
<rect x="627" y="306" width="1" height="3" fill="#D8BFD8"/>
<rect x="627" y="300" width="1" height="3" fill="#D8BFD8"/>
<rect x="627" y="294" width="1" height="3" fill="#D8BFD8"/>
<rect x="627" y="288" width="1" height="3" fill="#D8BFD8"/>
<rect x="627" y="282" width="1" height="3" fill="#D8BFD8"/>
<rect x="627" y="276" width="1" height="3" fill="#D8BFD8"/>
<rect x="627" y="270" width="1" height="3" fill="#D8BFD8"/>
<rect x="627" y="264" width="1" height="3" fill="#D8BFD8"/>
<rect x="627" y="258" width="1" height="3" fill="#D8BFD8"/>
<rect x="627" y="252" width="1" height="3" fill="#D8BFD8"/>
<rect x="627" y="246" width="1" height="3" fill="#D8BFD8"/>
<rect x="627" y="240" width="1" height="3" fill="#D8BFD8"/>
<rect x="627" y="234" width="1" height="3" fill="#D8BFD8"/>
<rect x="627" y="228" width="1" height="3" fill="#D8BFD8"/>
<rect x="627" y="222" width="1" height="3" fill="#D8BFD8"/>
<rect x="627" y="216" width="1" height="3" fill="#D8BFD8"/>
<rect x="627" y="210" width="1" height="3" fill="#D8BFD8"/>
<rect x="627" y="204" width="1" height="3" fill="#D8BFD8"/>
<rect x="627" y="198" width="1" height="3" fill="#D8BFD8"/>
<rect x="631" y="315" width="1" height="3" fill="#D8BFD8"/>
<rect x="631" y="309" width="1" height="3" fill="#D8BFD8"/>
<rect x="631" y="303" width="1" height="3" fill="#D8BFD8"/>
<rect x="631" y="297" width="1" height="3" fill="#D8BFD8"/>
<rect x="631" y="291" width="1" height="3" fill="#D8BFD8"/>
<rect x="631" y="285" width="1" height="3" fill="#D8BFD8"/>
<rect x="631" y="279" width="1" height="3" fill="#D8BFD8"/>
<rect x="631" y="273" width="1" height="3" fill="#D8BFD8"/>
<rect x="631" y="267" width="1" height="3" fill="#D8BFD8"/>
<rect x="631" y="261" width="1" height="3" fill="#D8BFD8"/>
<rect x="631" y="255" width="1" height="3" fill="#D8BFD8"/>
<rect x="631" y="249" width="1" height="3" fill="#D8BFD8"/>
<rect x="631" y="243" width="1" height="3" fill="#D8BFD8"/>
<rect x="631" y="237" width="1" height="3" fill="#D8BFD8"/>
<rect x="631" y="231" width="1" height="3" fill="#D8BFD8"/>
<rect x="631" y="225" width="1" height="3" fill="#D8BFD8"/>
<rect x="631" y="219" width="1" height="3" fill="#D8BFD8"/>
<rect x="631" y="213" width="1" height="3" fill="#D8BFD8"/>
<rect x="631" y="207" width="1" height="3" fill="#D8BFD8"/>
<rect x="631" y="201" width="1" height="3" fill="#D8BFD8"/>
<rect x="631" y="196" width="1" height="2" fill="#D8BFD8"/>
<rect x="635" y="307" width="1" height="3" fill="#D8BFD8"/>
<rect x="635" y="301" width="1" height="3" fill="#D8BFD8"/>
<rect x="635" y="295" width="1" height="3" fill="#D8BFD8"/>
<rect x="635" y="289" width="1" height="3" fill="#D8BFD8"/>
<rect x="635" y="283" width="1" height="3" fill="#D8BFD8"/>
<rect x="635" y="277" width="1" height="3" fill="#D8BFD8"/>
<rect x="635" y="271" width="1" height="3" fill="#D8BFD8"/>
<rect x="635" y="265" width="1" height="3" fill="#D8BFD8"/>
<rect x="635" y="259" width="1" height="3" fill="#D8BFD8"/>
<rect x="635" y="253" width="1" height="3" fill="#D8BFD8"/>
<rect x="635" y="247" width="1" height="3" fill="#D8BFD8"/>
<rect x="635" y="241" width="1" height="3" fill="#D8BFD8"/>
<rect x="635" y="235" width="1" height="3" fill="#D8BFD8"/>
<rect x="635" y="229" width="1" height="3" fill="#D8BFD8"/>
<rect x="635" y="223" width="1" height="3" fill="#D8BFD8"/>
<rect x="635" y="217" width="1" height="3" fill="#D8BFD8"/>
<rect x="635" y="211" width="1" height="3" fill="#D8BFD8"/>
<rect x="635" y="205" width="1" height="3" fill="#D8BFD8"/>
<rect x="635" y="199" width="1" height="3" fill="#D8BFD8"/>
<rect x="639" y="307" width="1" height="3" fill="#D8BFD8"/>
<rect x="639" y="301" width="1" height="3" fill="#D8BFD8"/>
<rect x="639" y="295" width="1" height="3" fill="#D8BFD8"/>
<rect x="639" y="289" width="1" height="3" fill="#D8BFD8"/>
<rect x="639" y="283" width="1" height="3" fill="#D8BFD8"/>
<rect x="639" y="277" width="1" height="3" fill="#D8BFD8"/>
<rect x="639" y="271" width="1" height="3" fill="#D8BFD8"/>
<rect x="639" y="265" width="1" height="3" fill="#D8BFD8"/>
<rect x="639" y="259" width="1" height="3" fill="#D8BFD8"/>
<rect x="639" y="253" width="1" height="3" fill="#D8BFD8"/>
<rect x="639" y="247" width="1" height="3" fill="#D8BFD8"/>
<rect x="639" y="241" width="1" height="3" fill="#D8BFD8"/>
<rect x="639" y="235" width="1" height="3" fill="#D8BFD8"/>
<rect x="639" y="229" width="1" height="3" fill="#D8BFD8"/>
<rect x="639" y="223" width="1" height="3" fill="#D8BFD8"/>
<rect x="639" y="217" width="1" height="3" fill="#D8BFD8"/>
<rect x="639" y="211" width="1" height="3" fill="#D8BFD8"/>
<rect x="639" y="205" width="1" height="3" fill="#D8BFD8"/>
<rect x="639" y="199" width="1" height="3" fill="#D8BFD8"/>
<rect x="643" y="307" width="1" height="3" fill="#D8BFD8"/>
<rect x="643" y="301" width="1" height="3" fill="#D8BFD8"/>
<rect x="643" y="295" width="1" height="3" fill="#D8BFD8"/>
<rect x="643" y="289" width="1" height="3" fill="#D8BFD8"/>
<rect x="643" y="283" width="1" height="3" fill="#D8BFD8"/>
<rect x="643" y="277" width="1" height="3" fill="#D8BFD8"/>
<rect x="643" y="271" width="1" height="3" fill="#D8BFD8"/>
<rect x="643" y="265" width="1" height="3" fill="#D8BFD8"/>
<rect x="643" y="259" width="1" height="3" fill="#D8BFD8"/>
<rect x="643" y="253" width="1" height="3" fill="#D8BFD8"/>
<rect x="643" y="247" width="1" height="3" fill="#D8BFD8"/>
<rect x="643" y="241" width="1" height="3" fill="#D8BFD8"/>
<rect x="643" y="235" width="1" height="3" fill="#D8BFD8"/>
<rect x="643" y="229" width="1" height="3" fill="#D8BFD8"/>
<rect x="643" y="223" width="1" height="3" fill="#D8BFD8"/>
<rect x="643" y="217" width="1" height="3" fill="#D8BFD8"/>
<rect x="643" y="211" width="1" height="3" fill="#D8BFD8"/>
<rect x="643" y="205" width="1" height="3" fill="#D8BFD8"/>
<rect x="643" y="199" width="1" height="3" fill="#D8BFD8"/>
<rect x="647" y="307" width="1" height="3" fill="#D8BFD8"/>
<rect x="647" y="301" width="1" height="3" fill="#D8BFD8"/>
<rect x="647" y="295" width="1" height="3" fill="#D8BFD8"/>
<rect x="647" y="289" width="1" height="3" fill="#D8BFD8"/>
<rect x="647" y="283" width="1" height="3" fill="#D8BFD8"/>
<rect x="647" y="277" width="1" height="3" fill="#D8BFD8"/>
<rect x="647" y="271" width="1" height="3" fill="#D8BFD8"/>
<rect x="647" y="265" width="1" height="3" fill="#D8BFD8"/>
<rect x="647" y="259" width="1" height="3" fill="#D8BFD8"/>
<rect x="647" y="253" width="1" height="3" fill="#D8BFD8"/>
<rect x="647" y="247" width="1" height="3" fill="#D8BFD8"/>
<rect x="647" y="241" width="1" height="3" fill="#D8BFD8"/>
<rect x="647" y="235" width="1" height="3" fill="#D8BFD8"/>
<rect x="647" y="229" width="1" height="3" fill="#D8BFD8"/>
<rect x="647" y="223" width="1" height="3" fill="#D8BFD8"/>
<rect x="647" y="217" width="1" height="3" fill="#D8BFD8"/>
<rect x="647" y="211" width="1" height="3" fill="#D8BFD8"/>
<rect x="647" y="205" width="1" height="3" fill="#D8BFD8"/>
<rect x="647" y="199" width="1" height="3" fill="#D8BFD8"/>
<rect x="651" y="307" width="1" height="3" fill="#D8BFD8"/>
<rect x="651" y="301" width="1" height="3" fill="#D8BFD8"/>
<rect x="651" y="295" width="1" height="3" fill="#D8BFD8"/>
<rect x="651" y="289" width="1" height="3" fill="#D8BFD8"/>
<rect x="651" y="283" width="1" height="3" fill="#D8BFD8"/>
<rect x="651" y="277" width="1" height="3" fill="#D8BFD8"/>
<rect x="651" y="271" width="1" height="3" fill="#D8BFD8"/>
<rect x="651" y="265" width="1" height="3" fill="#D8BFD8"/>
<rect x="651" y="259" width="1" height="3" fill="#D8BFD8"/>
<rect x="651" y="253" width="1" height="3" fill="#D8BFD8"/>
<rect x="651" y="247" width="1" height="3" fill="#D8BFD8"/>
<rect x="651" y="241" width="1" height="3" fill="#D8BFD8"/>
<rect x="651" y="235" width="1" height="3" fill="#D8BFD8"/>
<rect x="651" y="229" width="1" height="3" fill="#D8BFD8"/>
<rect x="651" y="223" width="1" height="3" fill="#D8BFD8"/>
<rect x="651" y="217" width="1" height="3" fill="#D8BFD8"/>
<rect x="651" y="211" width="1" height="3" fill="#D8BFD8"/>
<rect x="651" y="205" width="1" height="3" fill="#D8BFD8"/>
<rect x="651" y="199" width="1" height="3" fill="#D8BFD8"/>
<rect x="655" y="307" width="1" height="3" fill="#D8BFD8"/>
<rect x="655" y="301" width="1" height="3" fill="#D8BFD8"/>
<rect x="655" y="295" width="1" height="3" fill="#D8BFD8"/>
<rect x="655" y="289" width="1" height="3" fill="#D8BFD8"/>
<rect x="655" y="283" width="1" height="3" fill="#D8BFD8"/>
<rect x="655" y="277" width="1" height="3" fill="#D8BFD8"/>
<rect x="655" y="271" width="1" height="3" fill="#D8BFD8"/>
<rect x="655" y="265" width="1" height="3" fill="#D8BFD8"/>
<rect x="655" y="259" width="1" height="3" fill="#D8BFD8"/>
<rect x="655" y="253" width="1" height="3" fill="#D8BFD8"/>
<rect x="655" y="247" width="1" height="3" fill="#D8BFD8"/>
<rect x="655" y="241" width="1" height="3" fill="#D8BFD8"/>
<rect x="655" y="235" width="1" height="3" fill="#D8BFD8"/>
<rect x="655" y="229" width="1" height="3" fill="#D8BFD8"/>
<rect x="655" y="223" width="1" height="3" fill="#D8BFD8"/>
<rect x="655" y="217" width="1" height="3" fill="#D8BFD8"/>
<rect x="655" y="211" width="1" height="3" fill="#D8BFD8"/>
<rect x="655" y="205" width="1" height="3" fill="#D8BFD8"/>
<rect x="655" y="199" width="1" height="3" fill="#D8BFD8"/>
<rect x="659" y="308" width="1" height="3" fill="#D8BFD8"/>
<rect x="659" y="302" width="1" height="3" fill="#D8BFD8"/>
<rect x="659" y="296" width="1" height="3" fill="#D8BFD8"/>
<rect x="659" y="290" width="1" height="3" fill="#D8BFD8"/>
<rect x="659" y="284" width="1" height="3" fill="#D8BFD8"/>
<rect x="659" y="278" width="1" height="3" fill="#D8BFD8"/>
<rect x="659" y="272" width="1" height="3" fill="#D8BFD8"/>
<rect x="659" y="266" width="1" height="3" fill="#D8BFD8"/>
<rect x="659" y="260" width="1" height="3" fill="#D8BFD8"/>
<rect x="659" y="254" width="1" height="3" fill="#D8BFD8"/>
<rect x="659" y="248" width="1" height="3" fill="#D8BFD8"/>
<rect x="659" y="242" width="1" height="3" fill="#D8BFD8"/>
<rect x="659" y="236" width="1" height="3" fill="#D8BFD8"/>
<rect x="659" y="230" width="1" height="3" fill="#D8BFD8"/>
<rect x="659" y="224" width="1" height="3" fill="#D8BFD8"/>
<rect x="659" y="218" width="1" height="3" fill="#D8BFD8"/>
<rect x="659" y="212" width="1" height="3" fill="#D8BFD8"/>
<rect x="659" y="206" width="1" height="3" fill="#D8BFD8"/>
<rect x="659" y="200" width="1" height="3" fill="#D8BFD8"/>
<rect x="663" y="309" width="1" height="3" fill="#D8BFD8"/>
<rect x="663" y="303" width="1" height="3" fill="#D8BFD8"/>
<rect x="663" y="297" width="1" height="3" fill="#D8BFD8"/>
<rect x="663" y="291" width="1" height="3" fill="#D8BFD8"/>
<rect x="663" y="285" width="1" height="3" fill="#D8BFD8"/>
<rect x="663" y="279" width="1" height="3" fill="#D8BFD8"/>
<rect x="663" y="273" width="1" height="3" fill="#D8BFD8"/>
<rect x="663" y="267" width="1" height="3" fill="#D8BFD8"/>
<rect x="663" y="261" width="1" height="3" fill="#D8BFD8"/>
<rect x="663" y="255" width="1" height="3" fill="#D8BFD8"/>
<rect x="663" y="249" width="1" height="3" fill="#D8BFD8"/>
<rect x="663" y="243" width="1" height="3" fill="#D8BFD8"/>
<rect x="663" y="237" width="1" height="3" fill="#D8BFD8"/>
<rect x="663" y="231" width="1" height="3" fill="#D8BFD8"/>
<rect x="663" y="225" width="1" height="3" fill="#D8BFD8"/>
<rect x="663" y="219" width="1" height="3" fill="#D8BFD8"/>
<rect x="663" y="213" width="1" height="3" fill="#D8BFD8"/>
<rect x="663" y="207" width="1" height="3" fill="#D8BFD8"/>
<rect x="663" y="201" width="1" height="3" fill="#D8BFD8"/>
<rect x="663" y="196" width="1" height="2" fill="#D8BFD8"/>
<rect x="667" y="309" width="1" height="3" fill="#D8BFD8"/>
<rect x="667" y="303" width="1" height="3" fill="#D8BFD8"/>
<rect x="667" y="297" width="1" height="3" fill="#D8BFD8"/>
<rect x="667" y="291" width="1" height="3" fill="#D8BFD8"/>
<rect x="667" y="285" width="1" height="3" fill="#D8BFD8"/>
<rect x="667" y="279" width="1" height="3" fill="#D8BFD8"/>
<rect x="667" y="273" width="1" height="3" fill="#D8BFD8"/>
<rect x="667" y="267" width="1" height="3" fill="#D8BFD8"/>
<rect x="667" y="261" width="1" height="3" fill="#D8BFD8"/>
<rect x="667" y="255" width="1" height="3" fill="#D8BFD8"/>
<rect x="667" y="249" width="1" height="3" fill="#D8BFD8"/>
<rect x="667" y="243" width="1" height="3" fill="#D8BFD8"/>
<rect x="667" y="237" width="1" height="3" fill="#D8BFD8"/>
<rect x="667" y="231" width="1" height="3" fill="#D8BFD8"/>
<rect x="667" y="225" width="1" height="3" fill="#D8BFD8"/>
<rect x="667" y="219" width="1" height="3" fill="#D8BFD8"/>
<rect x="667" y="213" width="1" height="3" fill="#D8BFD8"/>
<rect x="667" y="207" width="1" height="3" fill="#D8BFD8"/>
<rect x="667" y="201" width="1" height="3" fill="#D8BFD8"/>
<rect x="667" y="196" width="1" height="2" fill="#D8BFD8"/>
</g>
<polyline points="3.5,116.5 7.5,120.5 11.5,122.5 15.5,124.5 19.5,127.5 23.5,130.5 27.5,131.5 31.5,151.5 35.5,168.5 39.5,176.5 43.5,179.5 47.5,182.5 51.5,188.5 55.5,190.5 59.5,189.5 63.5,192.5 67.5,195.5 71.5,199.5 75.5,207.5 79.5,212.5 83.5,214.5 87.5,217.5 91.5,218.5 95.5,220.5 99.5,227.5 103.5,224.5 107.5,218.5 111.5,218.5 115.5,218.5 119.5,195.5 123.5,195.5 127.5,195.5 131.5,195.5 135.5,194.5 139.5,194.5 143.5,194.5 147.5,187.5 151.5,182.5 155.5,181.5 159.5,180.5 163.5,177.5 167.5,177.5 171.5,177.5 175.5,177.5 179.5,177.5 183.5,177.5 187.5,177.5 191.5,177.5 195.5,164.5 199.5,156.5 203.5,150.5 207.5,146.5 211.5,140.5 215.5,137.5 219.5,137.5 223.5,135.5 227.5,130.5 231.5,128.5 235.5,126.5 239.5,113.5 243.5,104.5 247.5,102.5 251.5,102.5 255.5,102.5 259.5,102.5 263.5,91.5 267.5,90.5 271.5,88.5 275.5,88.5 279.5,85.5 283.5,85.5 287.5,87.5 291.5,96.5 295.5,102.5 299.5,115.5 303.5,115.5 307.5,115.5 311.5,138.5 315.5,157.5 319.5,164.5 323.5,169.5 327.5,182.5 331.5,184.5 335.5,195.5 339.5,202.5 343.5,204.5 347.5,204.5 351.5,204.5 355.5,210.5 359.5,223.5 363.5,243.5 367.5,244.5 371.5,244.5 375.5,245.5 379.5,252.5 383.5,260.5 387.5,271.5 391.5,257.5 395.5,255.5 399.5,255.5 403.5,261.5 407.5,262.5 411.5,262.5 415.5,262.5 419.5,262.5 423.5,262.5 427.5,262.5 431.5,257.5 435.5,257.5 439.5,257.5 443.5,262.5 447.5,264.5 451.5,270.5 455.5,268.5 459.5,267.5 463.5,267.5 467.5,263.5 471.5,263.5 475.5,263.5 479.5,259.5 483.5,260.5 487.5,267.5 491.5,274.5 495.5,277.5 499.5,288.5 503.5,290.5 507.5,291.5 511.5,292.5 515.5,296.5 519.5,300.5 523.5,306.5 527.5,309.5 531.5,311.5 535.5,313.5 539.5,315.5 543.5,318.5 547.5,314.5 551.5,314.5 555.5,314.5 559.5,314.5 563.5,315.5 567.5,314.5 571.5,318.5 575.5,322.5 579.5,326.5 583.5,327.5 587.5,329.5 591.5,329.5 595.5,328.5 599.5,328.5 603.5,328.5 607.5,328.5 611.5,328.5 615.5,320.5 619.5,320.5 623.5,320.5 627.5,320.5 631.5,317.5 635.5,309.5 639.5,309.5 643.5,309.5 647.5,309.5 651.5,309.5 655.5,309.5 659.5,310.5 663.5,311.5 667.5,311.5" fill="none" stroke="#F4A460" stroke-width="1" stroke-dasharray="3 3" clip-path="url(#cm)"/>
<polyline points="3.5,-29.5 7.5,-29.5 11.5,-29.5 15.5,-29.5 19.5,-29.5 23.5,-1.5 27.5,14.5 31.5,29.5 35.5,53.5 39.5,63.5 43.5,68.5 47.5,68.5 51.5,69.5 55.5,73.5 59.5,85.5 63.5,89.5 67.5,100.5 71.5,106.5 75.5,106.5 79.5,106.5 83.5,106.5 87.5,106.5 91.5,106.5 95.5,106.5 99.5,106.5 103.5,106.5 107.5,106.5 111.5,106.5 115.5,106.5 119.5,106.5 123.5,106.5 127.5,106.5 131.5,106.5 135.5,106.5 139.5,106.5 143.5,106.5 147.5,106.5 151.5,106.5 155.5,106.5 159.5,106.5 163.5,106.5 167.5,106.5 171.5,106.5 175.5,106.5 179.5,106.5 183.5,106.5 187.5,106.5 191.5,106.5 195.5,106.5 199.5,106.5 203.5,106.5 207.5,106.5 211.5,106.5 215.5,106.5 219.5,106.5 223.5,106.5 227.5,106.5 231.5,106.5 235.5,106.5 239.5,106.5 243.5,106.5 247.5,106.5 251.5,106.5 255.5,106.5 259.5,106.5 263.5,106.5 267.5,106.5 271.5,106.5 275.5,106.5 279.5,106.5 283.5,106.5 287.5,106.5 291.5,106.5 295.5,106.5 299.5,106.5 303.5,106.5 307.5,109.5 311.5,138.5 315.5,139.5 319.5,141.5 323.5,150.5 327.5,157.5 331.5,157.5 335.5,157.5 339.5,157.5 343.5,157.5 347.5,157.5 351.5,160.5 355.5,165.5 359.5,169.5 363.5,174.5 367.5,174.5 371.5,174.5 375.5,174.5 379.5,175.5 383.5,178.5 387.5,178.5 391.5,178.5 395.5,178.5 399.5,178.5 403.5,178.5 407.5,178.5 411.5,178.5 415.5,178.5 419.5,178.5 423.5,178.5 427.5,178.5 431.5,178.5 435.5,178.5 439.5,178.5 443.5,178.5 447.5,178.5 451.5,178.5 455.5,178.5 459.5,178.5 463.5,178.5 467.5,178.5 471.5,178.5 475.5,178.5 479.5,178.5 483.5,178.5 487.5,178.5 491.5,178.5 495.5,178.5 499.5,184.5 503.5,188.5 507.5,190.5 511.5,190.5 515.5,192.5 519.5,196.5 523.5,196.5 527.5,196.5 531.5,196.5 535.5,196.5 539.5,196.5 543.5,196.5 547.5,196.5 551.5,196.5 555.5,196.5 559.5,196.5 563.5,196.5 567.5,196.5 571.5,196.5 575.5,196.5 579.5,196.5 583.5,196.5 587.5,196.5 591.5,196.5 595.5,196.5 599.5,196.5 603.5,196.5 607.5,196.5 611.5,196.5 615.5,196.5 619.5,196.5 623.5,196.5 627.5,196.5 631.5,196.5 635.5,196.5 639.5,196.5 643.5,196.5 647.5,196.5 651.5,196.5 655.5,196.5 659.5,196.5 663.5,196.5 667.5,196.5" fill="none" stroke="#D8BFD8" stroke-width="1" stroke-dasharray="3 3" clip-path="url(#cm)"/>
<polyline points="3.5,239.5 7.5,231.5 11.5,223.5 15.5,223.5 19.5,223.5 23.5,191.5 27.5,191.5 31.5,191.5 35.5,191.5 39.5,191.5 43.5,191.5 47.5,191.5 51.5,170.5 55.5,170.5 59.5,170.5 63.5,170.5 67.5,166.5 71.5,164.5 75.5,163.5 79.5,163.5 83.5,163.5 87.5,163.5 91.5,163.5 95.5,163.5 99.5,158.5 103.5,152.5 107.5,146.5 111.5,141.5 115.5,137.5 119.5,137.5 123.5,137.5 127.5,135.5 131.5,130.5 135.5,123.5 139.5,122.5 143.5,105.5 147.5,82.5 151.5,79.5 155.5,79.5 159.5,79.5 163.5,79.5 167.5,67.5 171.5,67.5 175.5,67.5 179.5,67.5 183.5,67.5 187.5,67.5 191.5,81.5 195.5,96.5 199.5,101.5 203.5,114.5 207.5,115.5 211.5,117.5 215.5,142.5 219.5,168.5 223.5,173.5 227.5,180.5 231.5,196.5 235.5,202.5 239.5,220.5 243.5,235.5 247.5,240.5 251.5,240.5 255.5,240.5 259.5,251.5 263.5,272.5 267.5,295.5 271.5,295.5 275.5,295.5 279.5,295.5 283.5,295.5 287.5,298.5 291.5,295.5 295.5,264.5 299.5,262.5 303.5,262.5 307.5,262.5 311.5,262.5 315.5,262.5 319.5,262.5 323.5,262.5 327.5,262.5 331.5,260.5 335.5,252.5 339.5,252.5 343.5,252.5 347.5,261.5 351.5,267.5 355.5,278.5 359.5,276.5 363.5,275.5 367.5,273.5 371.5,265.5 375.5,265.5 379.5,265.5 383.5,265.5 387.5,265.5 391.5,276.5 395.5,276.5 399.5,276.5 403.5,287.5 407.5,290.5 411.5,291.5 415.5,291.5 419.5,295.5 423.5,306.5 427.5,317.5 431.5,323.5 435.5,328.5 439.5,332.5 443.5,333.5 447.5,337.5 451.5,331.5 455.5,331.5 459.5,331.5 463.5,331.5 467.5,331.5 471.5,319.5 475.5,318.5 479.5,318.5 483.5,323.5 487.5,326.5 491.5,327.5 495.5,326.5 499.5,326.5 503.5,326.5 507.5,326.5 511.5,326.5 515.5,326.5 519.5,320.5 523.5,320.5 527.5,319.5 531.5,317.5 535.5,316.5 539.5,305.5 543.5,305.5 547.5,305.5 551.5,305.5 555.5,305.5 559.5,305.5 563.5,308.5 567.5,308.5 571.5,308.5" fill="none" stroke="#FF0000" stroke-width="1" clip-path="url(#cm)" />
<polyline points="3.5,214.5 7.5,214.5 11.5,214.5 15.5,214.5 19.5,214.5 23.5,199.5 27.5,199.5 31.5,199.5 35.5,199.5 39.5,199.5 43.5,198.5 47.5,197.5 51.5,197.5 55.5,191.5 59.5,191.5 63.5,191.5 67.5,191.5 71.5,191.5 75.5,191.5 79.5,191.5 83.5,191.5 87.5,191.5 91.5,191.5 95.5,191.5 99.5,166.5 103.5,160.5 107.5,154.5 111.5,149.5 115.5,143.5 119.5,138.5 123.5,138.5 127.5,137.5 131.5,133.5 135.5,133.5 139.5,133.5 143.5,126.5 147.5,125.5 151.5,125.5 155.5,125.5 159.5,125.5 163.5,125.5 167.5,113.5 171.5,112.5 175.5,111.5 179.5,110.5 183.5,103.5 187.5,101.5 191.5,92.5 195.5,96.5 199.5,101.5 203.5,114.5 207.5,115.5 211.5,117.5 215.5,133.5 219.5,147.5 223.5,153.5 227.5,159.5 231.5,168.5 235.5,168.5 239.5,168.5 243.5,168.5 247.5,168.5 251.5,168.5 255.5,168.5 259.5,168.5 263.5,183.5 267.5,192.5 271.5,194.5 275.5,194.5 279.5,202.5 283.5,207.5 287.5,229.5 291.5,245.5 295.5,249.5 299.5,249.5 303.5,249.5 307.5,262.5 311.5,262.5 315.5,262.5 319.5,262.5 323.5,262.5 327.5,262.5 331.5,262.5 335.5,262.5 339.5,262.5 343.5,262.5 347.5,262.5 351.5,262.5 355.5,262.5 359.5,262.5 363.5,262.5 367.5,262.5 371.5,262.5 375.5,262.5 379.5,262.5 383.5,252.5 387.5,252.5 391.5,261.5 395.5,273.5 399.5,273.5 403.5,287.5 407.5,290.5 411.5,291.5 415.5,291.5 419.5,294.5 423.5,298.5 427.5,298.5 431.5,298.5 435.5,298.5 439.5,298.5 443.5,298.5 447.5,298.5 451.5,298.5 455.5,298.5 459.5,298.5 463.5,298.5 467.5,301.5 471.5,307.5 475.5,317.5 479.5,322.5 483.5,328.5 487.5,331.5 491.5,331.5 495.5,331.5 499.5,331.5 503.5,331.5 507.5,331.5 511.5,331.5 515.5,331.5 519.5,321.5 523.5,320.5 527.5,319.5 531.5,318.5 535.5,316.5 539.5,314.5 543.5,314.5 547.5,314.5 551.5,314.5 555.5,314.5 559.5,314.5 563.5,314.5 567.5,314.5 571.5,314.5" fill="none" stroke="#0000FF" stroke-width="1" clip-path="url(#cm)" />
<polyline points="3.5,116.5 7.5,111.5 11.5,84.5 15.5,81.5 19.5,97.5 23.5,81.5 27.5,78.5 31.5,75.5 35.5,66.5 39.5,76.5 43.5,83.5 47.5,53.5 51.5,75.5 55.5,98.5 59.5,86.5 63.5,72.5 67.5,58.5 71.5,54.5 75.5,63.5 79.5,75.5 83.5,75.5 87.5,83.5 91.5,90.5 95.5,143.5 99.5,160.5 103.5,173.5 107.5,187.5 111.5,178.5 115.5,186.5 119.5,235.5 123.5,271.5 127.5,285.5 131.5,300.5 135.5,307.5 139.5,294.5 143.5,291.5 147.5,280.5 151.5,280.5 155.5,285.5 159.5,291.5 163.5,301.5 167.5,303.5 171.5,312.5 175.5,320.5 179.5,301.5 183.5,304.5 187.5,317.5 191.5,296.5 195.5,272.5 199.5,218.5 203.5,232.5 207.5,243.5 211.5,264.5 215.5,287.5 219.5,276.5 223.5,304.5 227.5,281.5 231.5,286.5 235.5,279.5 239.5,268.5 243.5,258.5 247.5,302.5 251.5,269.5 255.5,270.5 259.5,252.5 263.5,271.5 267.5,264.5 271.5,236.5 275.5,244.5 279.5,251.5 283.5,271.5 287.5,285.5 291.5,289.5 295.5,327.5 299.5,309.5 303.5,306.5 307.5,349.5 311.5,331.5 315.5,337.5 319.5,346.5 323.5,356.5 327.5,349.5 331.5,339.5 335.5,330.5 339.5,331.5 343.5,325.5 347.5,323.5 351.5,320.5 355.5,299.5 359.5,309.5 363.5,318.5 367.5,328.5 371.5,307.5 375.5,328.5 379.5,323.5 383.5,336.5 387.5,349.5 391.5,349.5 395.5,339.5 399.5,314.5 403.5,310.5 407.5,302.5 411.5,319.5 415.5,319.5 419.5,313.5 423.5,291.5 427.5,325.5 431.5,319.5 435.5,290.5 439.5,279.5 443.5,277.5 447.5,309.5 451.5,321.5 455.5,321.5 459.5,322.5 463.5,322.5 467.5,325.5 471.5,329.5 475.5,337.5" fill="none" stroke="#00FF00" stroke-width="1" clip-path="url(#cm)" />
<g clip-path="url(#cm)">
<rect x="3" y="212" width="1" height="53" fill="#008080"/>
<rect x="2" y="226" width="3" height="26" fill="#008080"/>
<rect x="7" y="212" width="1" height="16" fill="#008080"/>
<rect x="6" y="217" width="3" height="10" fill="#008080"/>
<rect x="11" y="181" width="1" height="41" fill="#008080"/>
<rect x="10" y="191" width="3" height="24" fill="#008080"/>
<rect x="15" y="180" width="1" height="31" fill="#DC143C"/>
<rect x="14" y="191" width="3" height="14" fill="#DC143C"/>
<rect x="19" y="196" width="1" height="31" fill="#DC143C"/>
<rect x="18" y="204" width="3" height="16" fill="#DC143C"/>
<rect x="23" y="116" width="1" height="104" fill="#008080"/>
<rect x="22" y="141" width="3" height="78" fill="#008080"/>
<rect x="27" y="131" width="1" height="33" fill="#DC143C"/>
<rect x="26" y="141" width="3" height="5" fill="#DC143C"/>
<rect x="31" y="134" width="1" height="17" fill="#008080"/>
<rect x="30" y="135" width="3" height="11" fill="#008080"/>
<rect x="35" y="134" width="1" height="73" fill="#DC143C"/>
<rect x="34" y="136" width="3" height="30" fill="#DC143C"/>
<rect x="39" y="157" width="1" height="19" fill="#DC143C"/>
<rect x="38" y="165" width="3" height="3" fill="#DC143C"/>
<rect x="43" y="146" width="1" height="28" fill="#008080"/>
<rect x="42" y="165" width="3" height="4" fill="#008080"/>
<rect x="47" y="146" width="1" height="25" fill="#008080"/>
<rect x="46" y="157" width="3" height="9" fill="#008080"/>
<rect x="51" y="133" width="1" height="53" fill="#DC143C"/>
<rect x="50" y="157" width="3" height="10" fill="#DC143C"/>
<rect x="55" y="132" width="1" height="43" fill="#008080"/>
<rect x="54" y="141" width="3" height="27" fill="#008080"/>
<rect x="59" y="121" width="1" height="31" fill="#008080"/>
<rect x="58" y="138" width="3" height="4" fill="#008080"/>
<rect x="63" y="125" width="1" height="16" fill="#008080"/>
<rect x="62" y="136" width="3" height="3" fill="#008080"/>
<rect x="67" y="129" width="1" height="49" fill="#DC143C"/>
<rect x="66" y="136" width="3" height="38" fill="#DC143C"/>
<rect x="71" y="157" width="1" height="24" fill="#008080"/>
<rect x="70" y="168" width="3" height="7" fill="#008080"/>
<rect x="75" y="153" width="1" height="49" fill="#DC143C"/>
<rect x="74" y="168" width="3" height="23" fill="#DC143C"/>
<rect x="79" y="176" width="1" height="30" fill="#008080"/>
<rect x="78" y="188" width="3" height="3" fill="#008080"/>
<rect x="83" y="178" width="1" height="24" fill="#DC143C"/>
<rect x="82" y="187" width="3" height="6" fill="#DC143C"/>
<rect x="87" y="176" width="1" height="23" fill="#008080"/>
<rect x="86" y="177" width="3" height="16" fill="#008080"/>
<rect x="91" y="160" width="1" height="26" fill="#008080"/>
<rect x="90" y="173" width="3" height="5" fill="#008080"/>
<rect x="95" y="144" width="1" height="34" fill="#008080"/>
<rect x="94" y="157" width="3" height="17" fill="#008080"/>
<rect x="99" y="101" width="1" height="58" fill="#008080"/>
<rect x="98" y="116" width="3" height="42" fill="#008080"/>
<rect x="103" y="106" width="1" height="14" fill="#008080"/>
<rect x="102" y="112" width="3" height="6" fill="#008080"/>
<rect x="107" y="83" width="1" height="25" fill="#008080"/>
<rect x="106" y="85" width="3" height="23" fill="#008080"/>
<rect x="111" y="76" width="1" height="16" fill="#008080"/>
<rect x="110" y="81" width="3" height="5" fill="#008080"/>
<rect x="115" y="69" width="1" height="31" fill="#DC143C"/>
<rect x="114" y="81" width="3" height="18" fill="#DC143C"/>
<rect x="119" y="75" width="1" height="26" fill="#008080"/>
<rect x="118" y="81" width="3" height="18" fill="#008080"/>
<rect x="123" y="75" width="1" height="19" fill="#008080"/>
<rect x="122" y="78" width="3" height="4" fill="#008080"/>
<rect x="127" y="68" width="1" height="16" fill="#008080"/>
<rect x="126" y="76" width="3" height="3" fill="#008080"/>
<rect x="131" y="62" width="1" height="24" fill="#008080"/>
<rect x="130" y="66" width="3" height="11" fill="#008080"/>
<rect x="135" y="63" width="1" height="23" fill="#DC143C"/>
<rect x="134" y="66" width="3" height="13" fill="#DC143C"/>
<rect x="139" y="69" width="1" height="26" fill="#DC143C"/>
<rect x="138" y="78" width="3" height="6" fill="#DC143C"/>
<rect x="143" y="48" width="1" height="42" fill="#008080"/>
<rect x="142" y="53" width="3" height="31" fill="#008080"/>
<rect x="147" y="46" width="1" height="42" fill="#DC143C"/>
<rect x="146" y="53" width="3" height="24" fill="#DC143C"/>
<rect x="151" y="70" width="1" height="43" fill="#DC143C"/>
<rect x="150" y="76" width="3" height="25" fill="#DC143C"/>
<rect x="155" y="86" width="1" height="20" fill="#008080"/>
<rect x="154" y="88" width="3" height="10" fill="#008080"/>
<rect x="159" y="70" width="1" height="20" fill="#008080"/>
<rect x="158" y="74" width="3" height="15" fill="#008080"/>
<rect x="163" y="49" width="1" height="31" fill="#008080"/>
<rect x="162" y="58" width="3" height="21" fill="#008080"/>
<rect x="167" y="22" width="1" height="40" fill="#008080"/>
<rect x="166" y="54" width="3" height="6" fill="#008080"/>
<rect x="171" y="51" width="1" height="33" fill="#DC143C"/>
<rect x="170" y="54" width="3" height="10" fill="#DC143C"/>
<rect x="175" y="61" width="1" height="19" fill="#DC143C"/>
<rect x="174" y="63" width="3" height="13" fill="#DC143C"/>
<rect x="179" y="62" width="1" height="21" fill="#DC143C"/>
<rect x="178" y="73" width="3" height="3" fill="#DC143C"/>
<rect x="183" y="61" width="1" height="30" fill="#DC143C"/>
<rect x="182" y="75" width="3" height="10" fill="#DC143C"/>
<rect x="187" y="78" width="1" height="17" fill="#DC143C"/>
<rect x="186" y="84" width="3" height="7" fill="#DC143C"/>
<rect x="191" y="89" width="1" height="56" fill="#DC143C"/>
<rect x="190" y="91" width="3" height="48" fill="#DC143C"/>
<rect x="195" y="128" width="1" height="32" fill="#DC143C"/>
<rect x="194" y="138" width="3" height="21" fill="#DC143C"/>
<rect x="199" y="150" width="1" height="29" fill="#DC143C"/>
<rect x="198" y="157" width="3" height="16" fill="#DC143C"/>
<rect x="203" y="171" width="1" height="38" fill="#DC143C"/>
<rect x="202" y="174" width="3" height="16" fill="#DC143C"/>
<rect x="207" y="173" width="1" height="28" fill="#008080"/>
<rect x="206" y="178" width="3" height="12" fill="#008080"/>
<rect x="211" y="165" width="1" height="23" fill="#DC143C"/>
<rect x="210" y="178" width="3" height="9" fill="#DC143C"/>
<rect x="215" y="186" width="1" height="57" fill="#DC143C"/>
<rect x="214" y="187" width="3" height="52" fill="#DC143C"/>
<rect x="219" y="237" width="1" height="41" fill="#DC143C"/>
<rect x="218" y="238" width="3" height="36" fill="#DC143C"/>
<rect x="223" y="271" width="1" height="17" fill="#DC143C"/>
<rect x="222" y="273" width="3" height="14" fill="#DC143C"/>
<rect x="227" y="273" width="1" height="28" fill="#DC143C"/>
<rect x="226" y="280" width="3" height="20" fill="#DC143C"/>
<rect x="231" y="288" width="1" height="27" fill="#DC143C"/>
<rect x="230" y="298" width="3" height="10" fill="#DC143C"/>
<rect x="235" y="291" width="1" height="21" fill="#008080"/>
<rect x="234" y="294" width="3" height="14" fill="#008080"/>
<rect x="239" y="275" width="1" height="31" fill="#008080"/>
<rect x="238" y="292" width="3" height="3" fill="#008080"/>
<rect x="243" y="265" width="1" height="41" fill="#008080"/>
<rect x="242" y="280" width="3" height="13" fill="#008080"/>
<rect x="247" y="265" width="1" height="38" fill="#008080"/>
<rect x="246" y="280" width="3" height="2" fill="#008080"/>
<rect x="251" y="276" width="1" height="27" fill="#DC143C"/>
<rect x="250" y="280" width="3" height="6" fill="#DC143C"/>
<rect x="255" y="280" width="1" height="20" fill="#DC143C"/>
<rect x="254" y="286" width="3" height="5" fill="#DC143C"/>
<rect x="259" y="284" width="1" height="24" fill="#DC143C"/>
<rect x="258" y="290" width="3" height="13" fill="#DC143C"/>
<rect x="263" y="297" width="1" height="12" fill="#DC143C"/>
<rect x="262" y="302" width="3" height="2" fill="#DC143C"/>
<rect x="267" y="300" width="1" height="27" fill="#DC143C"/>
<rect x="266" y="303" width="3" height="10" fill="#DC143C"/>
<rect x="271" y="311" width="1" height="15" fill="#DC143C"/>
<rect x="270" y="312" width="3" height="9" fill="#DC143C"/>
<rect x="275" y="295" width="1" height="26" fill="#008080"/>
<rect x="274" y="301" width="3" height="20" fill="#008080"/>
<rect x="279" y="295" width="1" height="17" fill="#DC143C"/>
<rect x="278" y="301" width="3" height="4" fill="#DC143C"/>
<rect x="283" y="288" width="1" height="36" fill="#DC143C"/>
<rect x="282" y="304" width="3" height="14" fill="#DC143C"/>
<rect x="287" y="298" width="1" height="28" fill="#008080"/>
<rect x="286" y="300" width="3" height="18" fill="#008080"/>
<rect x="291" y="272" width="1" height="38" fill="#008080"/>
<rect x="290" y="275" width="3" height="28" fill="#008080"/>
<rect x="295" y="196" width="1" height="102" fill="#008080"/>
<rect x="294" y="218" width="3" height="58" fill="#008080"/>
<rect x="299" y="189" width="1" height="49" fill="#DC143C"/>
<rect x="298" y="218" width="3" height="16" fill="#DC143C"/>
<rect x="303" y="231" width="1" height="19" fill="#DC143C"/>
<rect x="302" y="233" width="3" height="12" fill="#DC143C"/>
<rect x="307" y="216" width="1" height="55" fill="#DC143C"/>
<rect x="306" y="244" width="3" height="20" fill="#DC143C"/>
<rect x="311" y="254" width="1" height="44" fill="#DC143C"/>
<rect x="310" y="264" width="3" height="24" fill="#DC143C"/>
<rect x="315" y="268" width="1" height="47" fill="#008080"/>
<rect x="314" y="276" width="3" height="12" fill="#008080"/>
<rect x="319" y="275" width="1" height="40" fill="#DC143C"/>
<rect x="318" y="276" width="3" height="29" fill="#DC143C"/>
<rect x="323" y="275" width="1" height="40" fill="#008080"/>
<rect x="322" y="280" width="3" height="26" fill="#008080"/>
<rect x="327" y="269" width="1" height="22" fill="#DC143C"/>
<rect x="326" y="280" width="3" height="8" fill="#DC143C"/>
<rect x="331" y="260" width="1" height="31" fill="#008080"/>
<rect x="330" y="281" width="3" height="7" fill="#008080"/>
<rect x="335" y="263" width="1" height="23" fill="#008080"/>
<rect x="334" y="268" width="3" height="14" fill="#008080"/>
<rect x="339" y="242" width="1" height="32" fill="#008080"/>
<rect x="338" y="258" width="3" height="10" fill="#008080"/>
<rect x="343" y="257" width="1" height="49" fill="#DC143C"/>
<rect x="342" y="258" width="3" height="46" fill="#DC143C"/>
<rect x="347" y="264" width="1" height="41" fill="#008080"/>
<rect x="346" y="269" width="3" height="27" fill="#008080"/>
<rect x="351" y="259" width="1" height="15" fill="#DC143C"/>
<rect x="350" y="269" width="3" height="4" fill="#DC143C"/>
<rect x="355" y="241" width="1" height="36" fill="#008080"/>
<rect x="354" y="252" width="3" height="20" fill="#008080"/>
<rect x="359" y="236" width="1" height="40" fill="#DC143C"/>
<rect x="358" y="252" width="3" height="21" fill="#DC143C"/>
<rect x="363" y="262" width="1" height="21" fill="#008080"/>
<rect x="362" y="263" width="3" height="10" fill="#008080"/>
<rect x="367" y="234" width="1" height="34" fill="#008080"/>
<rect x="366" y="236" width="3" height="28" fill="#008080"/>
<rect x="371" y="224" width="1" height="24" fill="#008080"/>
<rect x="370" y="243" width="3" height="5" fill="#008080"/>
<rect x="375" y="231" width="1" height="30" fill="#DC143C"/>
<rect x="374" y="243" width="3" height="9" fill="#DC143C"/>
<rect x="379" y="243" width="1" height="32" fill="#DC143C"/>
<rect x="378" y="251" width="3" height="23" fill="#DC143C"/>
<rect x="383" y="264" width="1" height="40" fill="#DC143C"/>
<rect x="382" y="273" width="3" height="14" fill="#DC143C"/>
<rect x="387" y="275" width="1" height="21" fill="#DC143C"/>
<rect x="386" y="286" width="3" height="4" fill="#DC143C"/>
<rect x="391" y="286" width="1" height="45" fill="#DC143C"/>
<rect x="390" y="289" width="3" height="39" fill="#DC143C"/>
<rect x="395" y="303" width="1" height="27" fill="#008080"/>
<rect x="394" y="309" width="3" height="20" fill="#008080"/>
<rect x="399" y="295" width="1" height="25" fill="#008080"/>
<rect x="398" y="306" width="3" height="3" fill="#008080"/>
<rect x="403" y="305" width="1" height="45" fill="#DC143C"/>
<rect x="402" y="306" width="3" height="43" fill="#DC143C"/>
<rect x="407" y="314" width="1" height="42" fill="#008080"/>
<rect x="406" y="331" width="3" height="19" fill="#008080"/>
<rect x="411" y="320" width="1" height="39" fill="#DC143C"/>
<rect x="410" y="331" width="3" height="7" fill="#DC143C"/>
<rect x="415" y="333" width="1" height="20" fill="#DC143C"/>
<rect x="414" y="338" width="3" height="8" fill="#DC143C"/>
<rect x="419" y="343" width="1" height="18" fill="#DC143C"/>
<rect x="418" y="345" width="3" height="13" fill="#DC143C"/>
<rect x="423" y="340" width="1" height="32" fill="#008080"/>
<rect x="422" y="344" width="3" height="14" fill="#008080"/>
<rect x="427" y="321" width="1" height="26" fill="#008080"/>
<rect x="426" y="337" width="3" height="8" fill="#008080"/>
<rect x="431" y="315" width="1" height="32" fill="#008080"/>
<rect x="430" y="330" width="3" height="9" fill="#008080"/>
<rect x="435" y="315" width="1" height="32" fill="#DC143C"/>
<rect x="434" y="330" width="3" height="2" fill="#DC143C"/>
<rect x="439" y="312" width="1" height="22" fill="#008080"/>
<rect x="438" y="326" width="3" height="6" fill="#008080"/>
<rect x="443" y="314" width="1" height="20" fill="#008080"/>
<rect x="442" y="324" width="3" height="7" fill="#008080"/>
<rect x="447" y="316" width="1" height="21" fill="#008080"/>
<rect x="446" y="322" width="3" height="3" fill="#008080"/>
<rect x="451" y="290" width="1" height="35" fill="#008080"/>
<rect x="450" y="299" width="3" height="26" fill="#008080"/>
<rect x="455" y="295" width="1" height="20" fill="#DC143C"/>
<rect x="454" y="299" width="3" height="11" fill="#DC143C"/>
<rect x="459" y="307" width="1" height="17" fill="#DC143C"/>
<rect x="458" y="309" width="3" height="8" fill="#DC143C"/>
<rect x="463" y="312" width="1" height="22" fill="#DC143C"/>
<rect x="462" y="317" width="3" height="13" fill="#DC143C"/>
<rect x="467" y="303" width="1" height="27" fill="#008080"/>
<rect x="466" y="307" width="3" height="11" fill="#008080"/>
<rect x="471" y="305" width="1" height="27" fill="#DC143C"/>
<rect x="470" y="306" width="3" height="23" fill="#DC143C"/>
<rect x="475" y="313" width="1" height="21" fill="#008080"/>
<rect x="474" y="322" width="3" height="8" fill="#008080"/>
<rect x="479" y="315" width="1" height="25" fill="#DC143C"/>
<rect x="478" y="322" width="3" height="14" fill="#DC143C"/>
<rect x="483" y="329" width="1" height="30" fill="#DC143C"/>
<rect x="482" y="335" width="3" height="15" fill="#DC143C"/>
<rect x="487" y="344" width="1" height="20" fill="#DC143C"/>
<rect x="486" y="349" width="3" height="1" fill="#DC143C"/>
<rect x="491" y="337" width="1" height="27" fill="#008080"/>
<rect x="490" y="340" width="3" height="10" fill="#008080"/>
<rect x="495" y="307" width="1" height="39" fill="#008080"/>
<rect x="494" y="313" width="3" height="29" fill="#008080"/>
<rect x="499" y="289" width="1" height="34" fill="#008080"/>
<rect x="498" y="312" width="3" height="2" fill="#008080"/>
<rect x="503" y="295" width="1" height="31" fill="#008080"/>
<rect x="502" y="301" width="3" height="12" fill="#008080"/>
<rect x="507" y="300" width="1" height="41" fill="#DC143C"/>
<rect x="506" y="301" width="3" height="19" fill="#DC143C"/>
<rect x="511" y="312" width="1" height="19" fill="#DC143C"/>
<rect x="510" y="319" width="3" height="1" fill="#DC143C"/>
<rect x="515" y="310" width="1" height="12" fill="#008080"/>
<rect x="514" y="314" width="3" height="6" fill="#008080"/>
<rect x="519" y="276" width="1" height="45" fill="#008080"/>
<rect x="518" y="291" width="3" height="24" fill="#008080"/>
<rect x="523" y="289" width="1" height="55" fill="#DC143C"/>
<rect x="522" y="291" width="3" height="37" fill="#DC143C"/>
<rect x="527" y="311" width="1" height="36" fill="#008080"/>
<rect x="526" y="319" width="3" height="9" fill="#008080"/>
<rect x="531" y="285" width="1" height="38" fill="#008080"/>
<rect x="530" y="291" width="3" height="30" fill="#008080"/>
<rect x="535" y="271" width="1" height="25" fill="#008080"/>
<rect x="534" y="280" width="3" height="12" fill="#008080"/>
<rect x="539" y="264" width="1" height="27" fill="#008080"/>
<rect x="538" y="277" width="3" height="6" fill="#008080"/>
<rect x="543" y="276" width="1" height="41" fill="#DC143C"/>
<rect x="542" y="277" width="3" height="33" fill="#DC143C"/>
<rect x="547" y="301" width="1" height="21" fill="#DC143C"/>
<rect x="546" y="309" width="3" height="13" fill="#DC143C"/>
<rect x="551" y="308" width="1" height="19" fill="#008080"/>
<rect x="550" y="321" width="3" height="1" fill="#008080"/>
<rect x="555" y="306" width="1" height="26" fill="#DC143C"/>
<rect x="554" y="321" width="3" height="3" fill="#DC143C"/>
<rect x="559" y="314" width="1" height="18" fill="#008080"/>
<rect x="558" y="321" width="3" height="3" fill="#008080"/>
<rect x="563" y="314" width="1" height="40" fill="#DC143C"/>
<rect x="562" y="322" width="3" height="4" fill="#DC143C"/>
<rect x="567" y="307" width="1" height="23" fill="#DC143C"/>
<rect x="566" y="325" width="3" height="4" fill="#DC143C"/>
<rect x="571" y="325" width="1" height="16" fill="#DC143C"/>
<rect x="570" y="328" width="3" height="10" fill="#DC143C"/>
</g>
<g clip-path="url(#c2)">
<rect x="2" y="402" width="3" height="10" fill="#008080"/>
<rect x="6" y="402" width="3" height="10" fill="#008080"/>
<rect x="10" y="402" width="3" height="7" fill="#008080"/>
<rect x="14" y="402" width="3" height="5" fill="#008080"/>
<rect x="18" y="402" width="3" height="4" fill="#008080"/>
<rect x="22" y="401" width="3" height="2" fill="#008080"/>
<rect x="26" y="398" width="3" height="5" fill="#008080"/>
<rect x="30" y="397" width="3" height="6" fill="#008080"/>
<rect x="34" y="396" width="3" height="7" fill="#008080"/>
<rect x="38" y="396" width="3" height="7" fill="#008080"/>
<rect x="42" y="396" width="3" height="7" fill="#008080"/>
<rect x="46" y="396" width="3" height="7" fill="#008080"/>
<rect x="50" y="396" width="3" height="7" fill="#008080"/>
<rect x="54" y="396" width="3" height="7" fill="#008080"/>
<rect x="58" y="396" width="3" height="7" fill="#008080"/>
<rect x="62" y="396" width="3" height="7" fill="#008080"/>
<rect x="66" y="397" width="3" height="6" fill="#008080"/>
<rect x="70" y="398" width="3" height="5" fill="#008080"/>
<rect x="74" y="400" width="3" height="3" fill="#008080"/>
<rect x="78" y="401" width="3" height="2" fill="#008080"/>
<rect x="82" y="401" width="3" height="2" fill="#008080"/>
<rect x="86" y="401" width="3" height="2" fill="#008080"/>
<rect x="90" y="401" width="3" height="2" fill="#008080"/>
<rect x="94" y="401" width="3" height="2" fill="#008080"/>
<rect x="98" y="399" width="3" height="4" fill="#008080"/>
<rect x="102" y="393" width="3" height="10" fill="#008080"/>
<rect x="106" y="390" width="3" height="13" fill="#008080"/>
<rect x="110" y="389" width="3" height="14" fill="#008080"/>
<rect x="114" y="389" width="3" height="14" fill="#008080"/>
<rect x="118" y="388" width="3" height="15" fill="#008080"/>
<rect x="122" y="387" width="3" height="16" fill="#008080"/>
<rect x="126" y="388" width="3" height="15" fill="#008080"/>
<rect x="130" y="388" width="3" height="15" fill="#008080"/>
<rect x="134" y="388" width="3" height="15" fill="#008080"/>
<rect x="138" y="388" width="3" height="15" fill="#008080"/>
<rect x="142" y="388" width="3" height="15" fill="#008080"/>
<rect x="146" y="388" width="3" height="15" fill="#008080"/>
<rect x="150" y="389" width="3" height="14" fill="#008080"/>
<rect x="154" y="390" width="3" height="13" fill="#008080"/>
<rect x="158" y="391" width="3" height="12" fill="#008080"/>
<rect x="162" y="391" width="3" height="12" fill="#008080"/>
<rect x="166" y="391" width="3" height="12" fill="#008080"/>
<rect x="170" y="391" width="3" height="12" fill="#008080"/>
<rect x="174" y="391" width="3" height="12" fill="#008080"/>
<rect x="178" y="392" width="3" height="11" fill="#008080"/>
<rect x="182" y="393" width="3" height="10" fill="#008080"/>
<rect x="186" y="395" width="3" height="8" fill="#008080"/>
<rect x="190" y="399" width="3" height="4" fill="#008080"/>
<rect x="194" y="402" width="3" height="3" fill="#008080"/>
<rect x="198" y="402" width="3" height="7" fill="#008080"/>
<rect x="202" y="402" width="3" height="9" fill="#008080"/>
<rect x="206" y="402" width="3" height="11" fill="#008080"/>
<rect x="210" y="402" width="3" height="13" fill="#008080"/>
<rect x="214" y="402" width="3" height="16" fill="#008080"/>
<rect x="218" y="402" width="3" height="21" fill="#008080"/>
<rect x="222" y="402" width="3" height="24" fill="#008080"/>
<rect x="226" y="402" width="3" height="27" fill="#008080"/>
<rect x="230" y="402" width="3" height="29" fill="#008080"/>
<rect x="234" y="402" width="3" height="29" fill="#008080"/>
<rect x="238" y="402" width="3" height="29" fill="#008080"/>
<rect x="242" y="402" width="3" height="27" fill="#008080"/>
<rect x="246" y="402" width="3" height="25" fill="#008080"/>
<rect x="250" y="402" width="3" height="25" fill="#008080"/>
<rect x="254" y="402" width="3" height="24" fill="#008080"/>
<rect x="258" y="402" width="3" height="23" fill="#008080"/>
<rect x="262" y="402" width="3" height="22" fill="#008080"/>
<rect x="266" y="402" width="3" height="22" fill="#008080"/>
<rect x="270" y="402" width="3" height="21" fill="#008080"/>
<rect x="274" y="402" width="3" height="21" fill="#008080"/>
<rect x="278" y="402" width="3" height="21" fill="#008080"/>
<rect x="282" y="402" width="3" height="20" fill="#008080"/>
<rect x="286" y="402" width="3" height="19" fill="#008080"/>
<rect x="290" y="402" width="3" height="16" fill="#008080"/>
<rect x="294" y="402" width="3" height="11" fill="#008080"/>
<rect x="298" y="402" width="3" height="6" fill="#008080"/>
<rect x="302" y="402" width="3" height="5" fill="#008080"/>
<rect x="306" y="402" width="3" height="5" fill="#008080"/>
<rect x="310" y="402" width="3" height="6" fill="#008080"/>
<rect x="314" y="402" width="3" height="8" fill="#008080"/>
<rect x="318" y="402" width="3" height="9" fill="#008080"/>
<rect x="322" y="402" width="3" height="10" fill="#008080"/>
<rect x="326" y="402" width="3" height="8" fill="#008080"/>
<rect x="330" y="402" width="3" height="8" fill="#008080"/>
<rect x="334" y="402" width="3" height="7" fill="#008080"/>
<rect x="338" y="402" width="3" height="6" fill="#008080"/>
<rect x="342" y="402" width="3" height="7" fill="#008080"/>
<rect x="346" y="402" width="3" height="6" fill="#008080"/>
<rect x="350" y="402" width="3" height="6" fill="#008080"/>
<rect x="354" y="402" width="3" height="5" fill="#008080"/>
<rect x="358" y="402" width="3" height="4" fill="#008080"/>
<rect x="362" y="402" width="3" height="4" fill="#008080"/>
<rect x="366" y="402" width="3" height="3" fill="#008080"/>
<rect x="370" y="400" width="3" height="3" fill="#008080"/>
<rect x="374" y="400" width="3" height="3" fill="#008080"/>
<rect x="378" y="401" width="3" height="2" fill="#008080"/>
<rect x="382" y="402" width="3" height="3" fill="#008080"/>
<rect x="386" y="402" width="3" height="5" fill="#008080"/>
<rect x="390" y="402" width="3" height="8" fill="#008080"/>
<rect x="394" y="402" width="3" height="9" fill="#008080"/>
<rect x="398" y="402" width="3" height="9" fill="#008080"/>
<rect x="402" y="402" width="3" height="12" fill="#008080"/>
<rect x="406" y="402" width="3" height="12" fill="#008080"/>
<rect x="410" y="402" width="3" height="13" fill="#008080"/>
<rect x="414" y="402" width="3" height="13" fill="#008080"/>
<rect x="418" y="402" width="3" height="15" fill="#008080"/>
<rect x="422" y="402" width="3" height="15" fill="#008080"/>
<rect x="426" y="402" width="3" height="14" fill="#008080"/>
<rect x="430" y="402" width="3" height="13" fill="#008080"/>
<rect x="434" y="402" width="3" height="11" fill="#008080"/>
<rect x="438" y="402" width="3" height="10" fill="#008080"/>
<rect x="442" y="402" width="3" height="9" fill="#008080"/>
<rect x="446" y="402" width="3" height="7" fill="#008080"/>
<rect x="450" y="402" width="3" height="5" fill="#008080"/>
<rect x="454" y="402" width="3" height="4" fill="#008080"/>
<rect x="458" y="402" width="3" height="5" fill="#008080"/>
<rect x="462" y="402" width="3" height="5" fill="#008080"/>
<rect x="466" y="402" width="3" height="4" fill="#008080"/>
<rect x="470" y="402" width="3" height="4" fill="#008080"/>
<rect x="474" y="402" width="3" height="4" fill="#008080"/>
<rect x="478" y="402" width="3" height="6" fill="#008080"/>
<rect x="482" y="402" width="3" height="7" fill="#008080"/>
<rect x="486" y="402" width="3" height="8" fill="#008080"/>
<rect x="490" y="402" width="3" height="8" fill="#008080"/>
<rect x="494" y="402" width="3" height="6" fill="#008080"/>
<rect x="498" y="402" width="3" height="4" fill="#008080"/>
<rect x="502" y="402" width="3" height="3" fill="#008080"/>
<rect x="506" y="402" width="3" height="3" fill="#008080"/>
<rect x="510" y="402" width="3" height="3" fill="#008080"/>
<rect x="514" y="402" width="3" height="2" fill="#008080"/>
<rect x="518" y="402" width="3" height="1" fill="#008080"/>
<rect x="522" y="402" width="3" height="1" fill="#008080"/>
<rect x="526" y="402" width="3" height="1" fill="#008080"/>
<rect x="530" y="402" width="3" height="1" fill="#008080"/>
<rect x="534" y="400" width="3" height="3" fill="#008080"/>
<rect x="538" y="398" width="3" height="5" fill="#008080"/>
<rect x="542" y="398" width="3" height="5" fill="#008080"/>
<rect x="546" y="399" width="3" height="4" fill="#008080"/>
<rect x="550" y="400" width="3" height="3" fill="#008080"/>
<rect x="554" y="401" width="3" height="2" fill="#008080"/>
<rect x="558" y="402" width="3" height="3" fill="#008080"/>
<rect x="562" y="402" width="3" height="3" fill="#008080"/>
<rect x="566" y="402" width="3" height="4" fill="#008080"/>
<rect x="570" y="402" width="3" height="4" fill="#008080"/>
<line x1="3" y1="402.5" x2="716" y2="402.5" stroke="#7f7f7f" stroke-width="1" stroke-dasharray="3 3" stroke-dashoffset="5"/>
</g>
<polyline points="3.5,412.0 7.5,411.7 11.5,411.3 15.5,409.0 19.5,408.3 23.5,406.0 27.5,403.0 31.5,400.8 35.5,398.8 39.5,397.3 43.5,396.6 47.5,396.0 51.5,395.9 55.5,395.8 59.5,395.8 63.5,395.2 67.5,395.2 71.5,395.5 75.5,396.7 79.5,398.8 83.5,400.3 87.5,401.2 91.5,401.2 95.5,400.8 99.5,400.3 103.5,398.5 107.5,395.2 111.5,392.5 115.5,390.7 119.5,389.5 123.5,388.3 127.5,387.7 131.5,387.0 135.5,387.0 139.5,387.0 143.5,387.0 147.5,387.0 151.5,388.0 155.5,389.2 159.5,390.3 163.5,390.7 167.5,390.7 171.5,390.7 175.5,390.7 179.5,390.7 183.5,390.7 187.5,392.2 191.5,393.7 195.5,396.3 199.5,398.8 203.5,402.3 207.5,405.3 211.5,409.0 215.5,412.8 219.5,415.8 223.5,419.2 227.5,421.8 231.5,424.8 235.5,426.7 239.5,427.5 243.5,427.8 247.5,427.8 251.5,427.5 255.5,426.7 259.5,425.5 263.5,424.5 267.5,423.6 271.5,422.8 275.5,422.5 279.5,422.2 283.5,421.8 287.5,421.0 291.5,419.5 295.5,417.3 299.5,414.3 303.5,411.3 307.5,409.0 311.5,407.0 315.5,406.8 319.5,408.3 323.5,409.3 327.5,409.0 331.5,409.0 335.5,408.8 339.5,408.7 343.5,407.2 347.5,406.8 351.5,406.0 355.5,405.7 359.5,405.3 363.5,404.5 367.5,404.2 371.5,403.3 375.5,402.0 379.5,401.0 383.5,401.0 387.5,402.3 391.5,403.8 395.5,405.3 399.5,407.2 403.5,408.7 407.5,410.2 411.5,411.6 415.5,412.8 419.5,413.8 423.5,414.0 427.5,414.0 431.5,414.0 435.5,413.5 439.5,412.0 443.5,410.8 447.5,409.8 451.5,408.7 455.5,407.8 459.5,406.8 463.5,405.7 467.5,405.0 471.5,404.8 475.5,404.8 479.5,404.8 483.5,405.3 487.5,406.3 491.5,406.5 495.5,406.5 499.5,406.3 503.5,406.0 507.5,405.0 511.5,404.2 515.5,403.3 519.5,402.0 523.5,401.8 527.5,401.7 531.5,401.5 535.5,401.2 539.5,400.3 543.5,400.0 547.5,399.3 551.5,399.0 555.5,400.0 559.5,401.2 563.5,402.3 567.5,403.0 571.5,403.0" fill="none" stroke="#DC143C" stroke-width="2" clip-path="url(#c2)"/>
<line x1="3" y1="452.5" x2="716" y2="452.5" stroke="#006400" stroke-width="1" stroke-dasharray="3 3" stroke-dashoffset="4"/>
<line x1="3" y1="473.5" x2="716" y2="473.5" stroke="#006400" stroke-width="1" stroke-dasharray="3 3" stroke-dashoffset="4"/>
<polyline points="3.5,465.0 7.5,464.8 11.5,461.0 15.5,461.8 19.5,464.0 23.5,456.5 27.5,456.0 31.5,456.2 35.5,459.5 39.5,459.8 43.5,459.5 47.5,458.8 51.5,459.8 55.5,457.3 59.5,456.5 63.5,457.3 67.5,461.8 71.5,462.2 75.5,464.8 79.5,465.0 83.5,464.8 87.5,462.5 91.5,461.8 95.5,461.0 99.5,455.8 103.5,454.3 107.5,452.8 111.5,452.0 115.5,454.7 119.5,453.0 123.5,452.8 127.5,452.8 131.5,452.8 135.5,455.8 139.5,455.8 143.5,452.8 147.5,456.8 151.5,459.8 155.5,459.5 159.5,457.3 163.5,456.2 167.5,456.0 171.5,458.0 175.5,458.8 179.5,459.5 183.5,460.3 187.5,462.2 191.5,468.5 195.5,470.8 199.5,472.7 203.5,473.0 207.5,471.8 211.5,472.3 215.5,476.8 219.5,477.8 223.5,478.7 227.5,478.7 231.5,478.6 235.5,477.2 239.5,476.0 243.5,474.2 247.5,473.8 251.5,474.5 255.5,475.7 259.5,475.7 263.5,476.8 267.5,476.8 271.5,476.8 275.5,473.3 279.5,473.8 283.5,473.8 287.5,470.0 291.5,464.8 295.5,458.8 299.5,460.7 303.5,461.3 307.5,464.8 311.5,465.8 315.5,465.8 319.5,467.8 323.5,465.5 327.5,464.8 331.5,464.8 335.5,462.8 339.5,462.8 343.5,467.0 347.5,463.3 351.5,462.5 355.5,461.8 359.5,462.5 363.5,462.2 367.5,459.8 371.5,460.3 375.5,461.8 379.5,464.8 383.5,465.5 387.5,467.0 391.5,469.3 395.5,467.0 399.5,467.3 403.5,470.0 407.5,468.2 411.5,468.8 415.5,470.0 419.5,470.0 423.5,468.5 427.5,467.3 431.5,466.3 435.5,465.5 439.5,465.2 443.5,464.8 447.5,464.8 451.5,461.8 455.5,463.3 459.5,464.8 463.5,465.8 467.5,462.8 471.5,464.8 475.5,464.8 479.5,465.8 483.5,467.8 487.5,467.8 491.5,466.3 495.5,461.3 499.5,461.0 503.5,459.8 507.5,462.5 511.5,462.5 515.5,462.2 519.5,458.8 523.5,463.7 527.5,463.7 531.5,458.8 535.5,458.0 539.5,457.7 543.5,462.2 547.5,463.7 551.5,463.7 555.5,463.7 559.5,464.8 563.5,464.8 567.5,465.2 571.5,467.0" fill="none" stroke="#008080" stroke-width="2" clip-path="url(#c3)"/>
<rect x="2" y="2" width="715" height="1" fill="#000"/>
<rect x="2" y="381" width="715" height="1" fill="#000"/>
<rect x="2" y="2" width="1" height="380" fill="#000"/>
<rect x="716" y="2" width="1" height="380" fill="#000"/>
<rect x="2" y="383" width="715" height="1" fill="#000"/>
<rect x="2" y="432" width="715" height="1" fill="#000"/>
<rect x="2" y="383" width="1" height="50" fill="#000"/>
<rect x="716" y="383" width="1" height="50" fill="#000"/>
<rect x="2" y="434" width="715" height="1" fill="#000"/>
<rect x="2" y="490" width="715" height="1" fill="#000"/>
<rect x="2" y="434" width="1" height="57" fill="#000"/>
<rect x="716" y="434" width="1" height="57" fill="#000"/>
<rect x="717" y="15" width="2" height="1" fill="#000"/>
<rect x="717" y="48" width="2" height="1" fill="#000"/>
<rect x="717" y="81" width="2" height="1" fill="#000"/>
<rect x="717" y="114" width="2" height="1" fill="#000"/>
<rect x="717" y="147" width="2" height="1" fill="#000"/>
<rect x="717" y="180" width="2" height="1" fill="#000"/>
<rect x="717" y="213" width="2" height="1" fill="#000"/>
<rect x="717" y="246" width="2" height="1" fill="#000"/>
<rect x="717" y="279" width="2" height="1" fill="#000"/>
<rect x="717" y="312" width="2" height="1" fill="#000"/>
<rect x="717" y="345" width="2" height="1" fill="#000"/>
<rect x="717" y="378" width="2" height="1" fill="#000"/>
<rect x="717" y="385" width="2" height="1" fill="#000"/>
<rect x="717" y="402" width="2" height="1" fill="#000"/>
<rect x="717" y="431" width="2" height="1" fill="#000"/>
<rect x="717" y="436" width="2" height="1" fill="#000"/>
<rect x="717" y="489" width="2" height="1" fill="#000"/>
<rect x="3" y="491" width="1" height="3" fill="#000"/>
<rect x="67" y="491" width="1" height="3" fill="#000"/>
<rect x="131" y="491" width="1" height="3" fill="#000"/>
<rect x="195" y="491" width="1" height="3" fill="#000"/>
<rect x="259" y="491" width="1" height="3" fill="#000"/>
<rect x="323" y="491" width="1" height="3" fill="#000"/>
<rect x="387" y="491" width="1" height="3" fill="#000"/>
<rect x="451" y="491" width="1" height="3" fill="#000"/>
<rect x="515" y="491" width="1" height="3" fill="#000"/>
<rect x="718" y="333" width="41" height="11" fill="#000"/>
<polygon points="6,9 13,9 9.5,12.6" fill="#000" shape-rendering="auto"/>
</g>
<text x="722" y="19" textLength="33.3" lengthAdjust="spacingAndGlyphs">0.79210</text>
<text x="722" y="52" textLength="33.3" lengthAdjust="spacingAndGlyphs">0.78950</text>
<text x="722" y="85" textLength="33.3" lengthAdjust="spacingAndGlyphs">0.78690</text>
<text x="722" y="118" textLength="33.3" lengthAdjust="spacingAndGlyphs">0.78435</text>
<text x="722" y="151" textLength="33.3" lengthAdjust="spacingAndGlyphs">0.78175</text>
<text x="722" y="184" textLength="33.3" lengthAdjust="spacingAndGlyphs">0.77915</text>
<text x="722" y="217" textLength="33.3" lengthAdjust="spacingAndGlyphs">0.77660</text>
<text x="722" y="250" textLength="33.3" lengthAdjust="spacingAndGlyphs">0.77400</text>
<text x="722" y="283" textLength="33.3" lengthAdjust="spacingAndGlyphs">0.77145</text>
<text x="722" y="316" textLength="33.3" lengthAdjust="spacingAndGlyphs">0.76885</text>
<text x="722" y="349" textLength="33.3" lengthAdjust="spacingAndGlyphs">0.76625</text>
<text x="722" y="382" textLength="33.3" lengthAdjust="spacingAndGlyphs">0.76370</text>
<text x="721.3" y="342" textLength="34.2" lengthAdjust="spacingAndGlyphs" style="fill:#fff;stroke:#fff">0.76683</text>
<text x="719.8" y="394" textLength="38.6" lengthAdjust="spacingAndGlyphs">0.005344</text>
<text x="719.8" y="406" textLength="18.2" lengthAdjust="spacingAndGlyphs">0.00</text>
<text x="720.6" y="406" textLength="5.2" lengthAdjust="spacingAndGlyphs">0</text>
<text x="719.8" y="430" textLength="41.8" lengthAdjust="spacingAndGlyphs">-0.009404</text>
<text x="720" y="445" textLength="15.6" lengthAdjust="spacingAndGlyphs">100</text>
<text x="719.8" y="456" textLength="10.2" lengthAdjust="spacingAndGlyphs">70</text>
<text x="719.2" y="477" textLength="10.4" lengthAdjust="spacingAndGlyphs">30</text>
<text x="719.8" y="487" textLength="5.2" lengthAdjust="spacingAndGlyphs">0</text>
<text x="18.9" y="14" textLength="55.4" lengthAdjust="spacingAndGlyphs">AUDUSD,H4</text>
<text x="79.9" y="14" textLength="33.3" lengthAdjust="spacingAndGlyphs">0.76783</text>
<text x="115.6" y="14" textLength="33.6" lengthAdjust="spacingAndGlyphs">0.76786</text>
<text x="151.6" y="14" textLength="33.8" lengthAdjust="spacingAndGlyphs">0.76664</text>
<text x="187.6" y="14" textLength="33.4" lengthAdjust="spacingAndGlyphs">0.76683</text>
<text x="7.2" y="396" textLength="59" lengthAdjust="spacingAndGlyphs">MACD(5,35,5)</text>
<text x="71.6" y="396" textLength="40.2" lengthAdjust="spacingAndGlyphs">-0.000913</text>
<text x="118.4" y="396" textLength="37.4" lengthAdjust="spacingAndGlyphs">0.000526</text>
<text x="7.2" y="447" textLength="32.3" lengthAdjust="spacingAndGlyphs">RSI(14)</text>
<text x="42.1" y="447" textLength="33" lengthAdjust="spacingAndGlyphs">42.2874</text>
<text x="2.4" y="503" textLength="46.9" lengthAdjust="spacingAndGlyphs">5 Mar 2018</text>
<text x="66.2" y="503" textLength="50.3" lengthAdjust="spacingAndGlyphs">8 Mar 08:00</text>
<text x="130.6" y="503" textLength="54.8" lengthAdjust="spacingAndGlyphs">13 Mar 00:00</text>
<text x="194.6" y="503" textLength="54.8" lengthAdjust="spacingAndGlyphs">15 Mar 16:00</text>
<text x="258.2" y="503" textLength="55.3" lengthAdjust="spacingAndGlyphs">20 Mar 08:00</text>
<text x="322.2" y="503" textLength="55" lengthAdjust="spacingAndGlyphs">23 Mar 00:00</text>
<text x="386.2" y="503" textLength="55.2" lengthAdjust="spacingAndGlyphs">27 Mar 16:00</text>
<text x="450.2" y="503" textLength="55" lengthAdjust="spacingAndGlyphs">30 Mar 08:00</text>
<text x="514.2" y="503" textLength="49.3" lengthAdjust="spacingAndGlyphs">4 Apr 00:00</text>
</svg></body></html>
